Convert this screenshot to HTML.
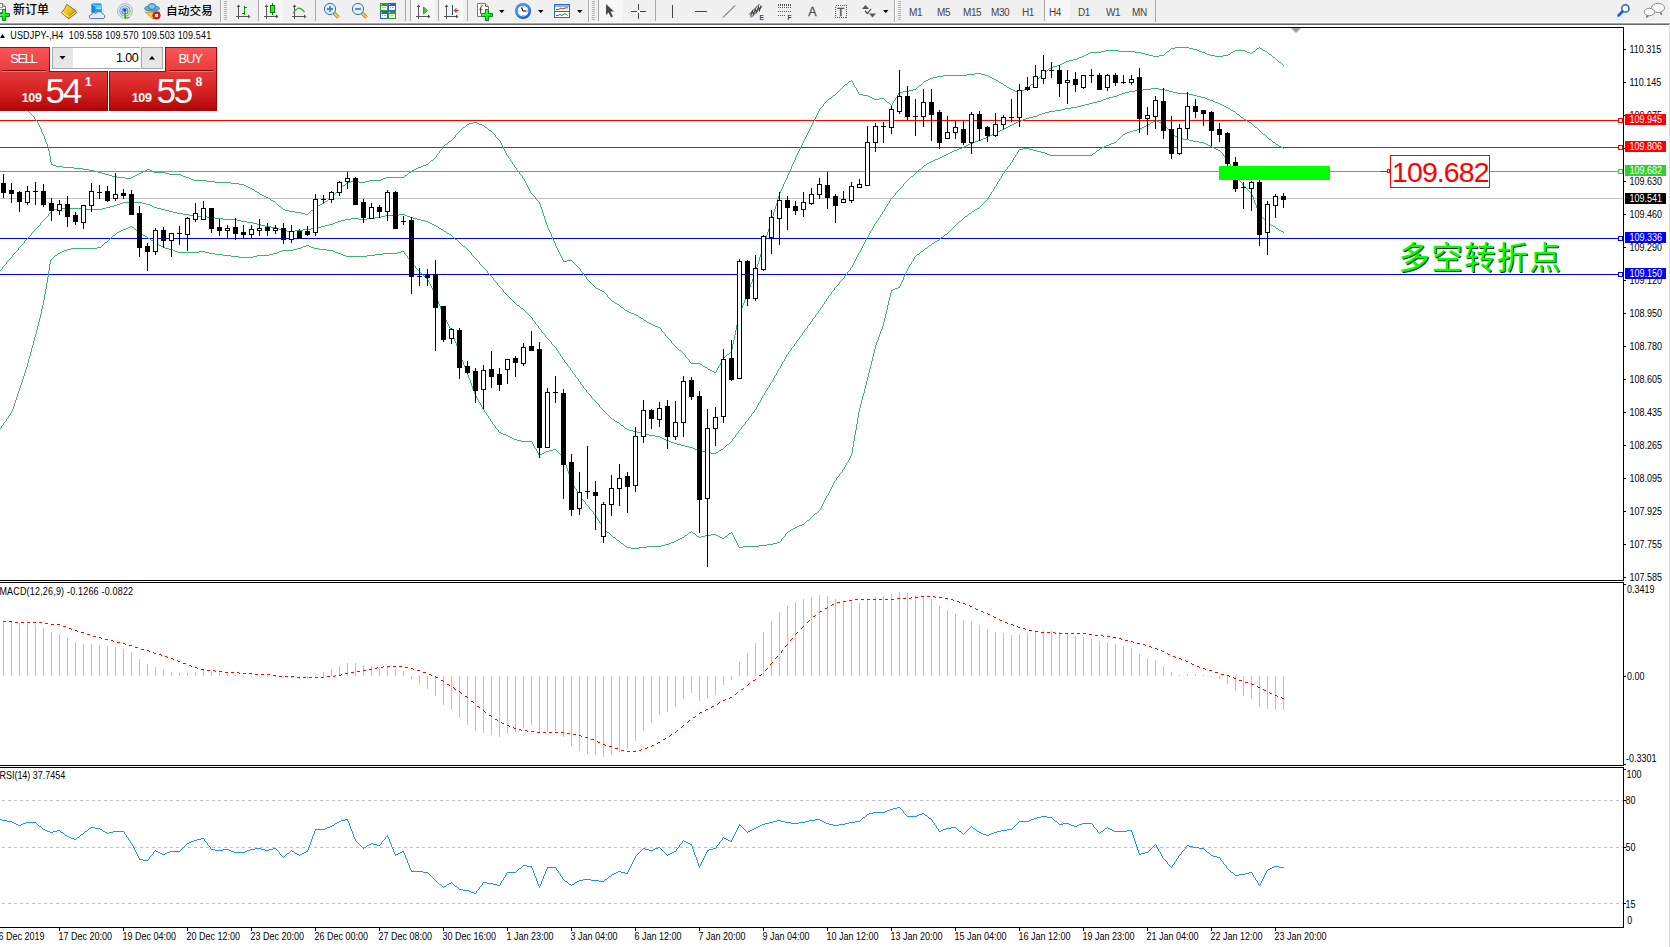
<!DOCTYPE html>
<html><head><meta charset="utf-8"><title>USDJPY-,H4</title>
<style>
html,body{margin:0;padding:0}
body{width:1670px;height:947px;overflow:hidden;background:#fff;position:relative;font-family:"Liberation Sans","Noto Sans CJK SC",sans-serif}
.abs{position:absolute}
</style></head><body>
<div class="abs" style="left:0;top:0;width:1670px;height:22px;background:#f0f0f0"></div>
<div class="abs" style="left:0;top:22px;width:1670px;height:1px;background:#f8f8f8"></div>
<div class="abs" style="left:0;top:23px;width:1670px;height:1px;background:#a0a0a0"></div>
<div class="abs" style="left:0;top:24px;width:1670px;height:1px;background:#696969"></div>
<svg class="abs" style="left:0;top:0" width="1670" height="23" viewBox="0 0 1670 23">
<defs>
<linearGradient id="gplus" x1="0" y1="0" x2="1" y2="1"><stop offset="0" stop-color="#90ff90"/><stop offset="0.55" stop-color="#10f030"/><stop offset="1" stop-color="#00c020"/></linearGradient>
<linearGradient id="gold" x1="0" y1="0" x2="1" y2="1"><stop offset="0" stop-color="#fbe878"/><stop offset="0.5" stop-color="#e8c020"/><stop offset="1" stop-color="#c08a10"/></linearGradient>
<linearGradient id="hl" x1="0" y1="0" x2="0" y2="1"><stop offset="0" stop-color="#f6f6f6"/><stop offset="1" stop-color="#ececec"/></linearGradient>
</defs>
<!-- highlighted buttons -->
<g fill="#f7f7f7" shape-rendering="crispEdges">
<rect x="259" y="0" width="24" height="21"/><rect x="411" y="0" width="24" height="21"/><rect x="439" y="0" width="24" height="21"/><rect x="599" y="0" width="24" height="21"/><rect x="1045" y="0" width="25" height="21"/>
</g>
<!-- separators -->
<g shape-rendering="crispEdges">
<g fill="#a8a8a8">
<rect x="220" y="0" width="1" height="22"/><rect x="258" y="0" width="1" height="21"/><rect x="315" y="0" width="1" height="21"/><rect x="405" y="0" width="1" height="21"/><rect x="410" y="0" width="1" height="21"/><rect x="438" y="0" width="1" height="21"/><rect x="467" y="0" width="1" height="21"/><rect x="588" y="0" width="1" height="22"/><rect x="598" y="0" width="1" height="21"/><rect x="655" y="0" width="1" height="21"/><rect x="894" y="0" width="1" height="22"/><rect x="1044" y="0" width="1" height="21"/><rect x="1155" y="0" width="1" height="22"/>
</g>
<g fill="#ffffff"><rect x="221" y="0" width="1" height="22"/><rect x="589" y="0" width="1" height="22"/><rect x="895" y="0" width="1" height="22"/><rect x="222" y="22" width="1448" height="1"/></g>
<!-- grips -->
<g fill="#b4b4b4">
<rect x="224" y="1" width="3" height="1"/><rect x="224" y="3" width="3" height="1"/><rect x="224" y="5" width="3" height="1"/><rect x="224" y="7" width="3" height="1"/><rect x="224" y="9" width="3" height="1"/><rect x="224" y="11" width="3" height="1"/><rect x="224" y="13" width="3" height="1"/><rect x="224" y="15" width="3" height="1"/><rect x="224" y="17" width="3" height="1"/><rect x="224" y="19" width="3" height="1"/>
<rect x="592" y="1" width="3" height="1"/><rect x="592" y="3" width="3" height="1"/><rect x="592" y="5" width="3" height="1"/><rect x="592" y="7" width="3" height="1"/><rect x="592" y="9" width="3" height="1"/><rect x="592" y="11" width="3" height="1"/><rect x="592" y="13" width="3" height="1"/><rect x="592" y="15" width="3" height="1"/><rect x="592" y="17" width="3" height="1"/><rect x="592" y="19" width="3" height="1"/>
<rect x="898" y="1" width="3" height="1"/><rect x="898" y="3" width="3" height="1"/><rect x="898" y="5" width="3" height="1"/><rect x="898" y="7" width="3" height="1"/><rect x="898" y="9" width="3" height="1"/><rect x="898" y="11" width="3" height="1"/><rect x="898" y="13" width="3" height="1"/><rect x="898" y="15" width="3" height="1"/><rect x="898" y="17" width="3" height="1"/><rect x="898" y="19" width="3" height="1"/>
</g>
</g>
<!-- new order icon -->
<path d="M-2,3.5 H2.5 L5.5,6.5 V12.5 H-2 Z" fill="#fff" stroke="#7a7a7a"/>
<path d="M2.5,3.5 V6.5 H5.5" fill="#d8d8d8" stroke="#7a7a7a"/>
<rect x="0" y="7" width="3" height="1" fill="#9a9a9a"/><rect x="0" y="9" width="2" height="1" fill="#9a9a9a"/>
<path d="M2.5,9.5 H5.5 V13.5 H9.5 V16.5 H5.5 V20.5 H2.5 V16.5 H-0.5 V13.5 H2.5 Z" fill="url(#gplus)" stroke="#078a07" stroke-width="1"/>
<!-- gold book -->
<path d="M66.8,4.3 Q65.6,8.6 61.3,12.8 L68.5,18.6 L76.4,13 L75.3,10.4 Z" fill="url(#gold)" stroke="#98600c" stroke-width="0.9"/>
<path d="M68.2,17.1 L75.2,11.2 L76.4,13 L68.5,18.6 Z" fill="#f2e2a0" stroke="#98600c" stroke-width="0.7"/>
<path d="M62.6,12.6 L68.4,16.8" stroke="#fff0a8" stroke-width="1.1"/>
<!-- blue box + cloud -->
<path d="M91.5,4 L92.5,3.2 H100.5 L101.8,4.5 V12.5 H91.5 Z" fill="#1aa4f4"/>
<path d="M91.5,4 L94.6,6 V12.5 H91.5 Z" fill="#0a88e0"/>
<path d="M92,3.6 L94.8,6 H101.5" stroke="#c8ecff" stroke-width="0.8" fill="none"/>
<rect x="96.3" y="7.5" width="4.6" height="1.3" fill="#e8f6ff"/>
<path d="M90.8,18.6 C88.6,18.6 88.6,14.6 91.5,14.6 C92,12.6 94.6,12.2 96,13.6 C97,11 102,11 102.4,14 C105,13.8 105.6,18.6 103,18.6 Z" fill="#e6ebf4" stroke="#4a6898" stroke-width="0.9"/>
<!-- radar -->
<defs><linearGradient id="rad" x1="0" y1="0" x2="1" y2="1"><stop offset="0.3" stop-color="#5080d8"/><stop offset="0.8" stop-color="#50a850"/></linearGradient></defs>
<g fill="none" stroke="url(#rad)">
<circle cx="125" cy="11" r="7.4" stroke-width="1" opacity="0.55"/>
<circle cx="125" cy="11" r="5.2" stroke-width="1.1" opacity="0.75"/>
<circle cx="125" cy="11" r="3" stroke-width="1.1"/>
</g>
<circle cx="124.8" cy="10.3" r="1.7" fill="#2050d0"/>
<rect x="124.5" y="11" width="1.4" height="7.6" fill="#20a020"/>
<path d="M125.5,18.2 L129.5,17.5" stroke="#40a040" stroke-width="1.2"/>
<!-- auto trading -->
<path d="M145,12 L153,19 L160,12 Z" fill="#f0d040" stroke="#c09020" stroke-width="0.8"/>
<ellipse cx="152" cy="8.5" rx="7.5" ry="2.6" fill="#5ab0e0" stroke="#2070a0" stroke-width="0.8"/>
<ellipse cx="152" cy="6.5" rx="3.8" ry="3" fill="#7cc4ec" stroke="#2070a0" stroke-width="0.8"/>
<circle cx="156.5" cy="15.5" r="3.8" fill="#e02010" stroke="#a01008" stroke-width="0.6"/>
<rect x="155" y="14" width="3" height="3" fill="#fff"/>
<!-- bar chart icon -->
<g stroke="#555" stroke-width="1" shape-rendering="crispEdges" fill="none">
<path d="M238.5,6 V19 M236,16.5 H249"/>
<path d="M266.5,6 V19 M264,16.5 H277"/>
<path d="M294.5,6 V19 M292,16.5 H305"/>
<path d="M418.5,6 V19 M416,16.5 H429"/>
<path d="M446.5,6 V19 M444,16.5 H457"/>
</g>
<g fill="#555">
<path d="M236.5,7 L238.5,4.5 L240.5,7 Z M248,14.5 L250.5,16.5 L248,18.5 Z"/>
<path d="M264.5,7 L266.5,4.5 L268.5,7 Z M276,14.5 L278.5,16.5 L276,18.5 Z"/>
<path d="M292.5,7 L294.5,4.5 L296.5,7 Z M304,14.5 L306.5,16.5 L304,18.5 Z"/>
<path d="M416.5,7 L418.5,4.5 L420.5,7 Z M428,14.5 L430.5,16.5 L428,18.5 Z"/>
<path d="M444.5,7 L446.5,4.5 L448.5,7 Z M456,14.5 L458.5,16.5 L456,18.5 Z"/>
</g>
<path d="M244.5,6 V15 M244.5,7.5 H247 M244.5,13.5 H242" stroke="#109010" stroke-width="1.2" fill="none" shape-rendering="crispEdges"/>
<rect x="272" y="3" width="1" height="12" fill="#008800"/>
<rect x="270.5" y="5.5" width="4" height="7" fill="#40e040" stroke="#008800"/>
<path d="M293,13.5 Q296,9 298.5,8.2 Q301,8 304.5,12" stroke="#30a030" stroke-width="1.2" fill="none"/>
<!-- zoom in/out -->
<g>
<path d="M333.5,12.5 L338.5,17.5" stroke="#b08010" stroke-width="3.4"/><path d="M333.5,12.5 L338.5,17.5" stroke="#f0d040" stroke-width="1.8"/>
<circle cx="330" cy="9" r="5.6" fill="#dff2fc" stroke="#2a70c0" stroke-width="1"/>
<path d="M327,9 H333 M330,6 V12" stroke="#4a8ab0" stroke-width="1.8"/>
<path d="M361.5,12.5 L366.5,17.5" stroke="#b08010" stroke-width="3.4"/><path d="M361.5,12.5 L366.5,17.5" stroke="#f0d040" stroke-width="1.8"/>
<circle cx="358" cy="9" r="5.6" fill="#dff2fc" stroke="#2a70c0" stroke-width="1"/>
<path d="M355,9 H361" stroke="#4a8ab0" stroke-width="1.8"/>
</g>
<!-- tile -->
<g shape-rendering="crispEdges">
<rect x="380" y="3" width="8" height="8" fill="#30a020"/><rect x="388" y="3" width="8" height="8" fill="#2060d0"/>
<rect x="380" y="11" width="8" height="8" fill="#2060d0"/><rect x="388" y="11" width="8" height="8" fill="#30a020"/>
<g fill="#fff"><rect x="381" y="6" width="6" height="4"/><rect x="389" y="6" width="6" height="4"/><rect x="381" y="14" width="6" height="4"/><rect x="389" y="14" width="6" height="4"/></g>
<g fill="#a8e098"><rect x="382" y="7" width="4" height="1"/><rect x="390" y="15" width="4" height="1"/></g>
<g fill="#90b0f0"><rect x="390" y="7" width="1" height="1"/><rect x="392" y="7" width="2" height="1"/><rect x="382" y="15" width="1" height="1"/><rect x="384" y="15" width="2" height="1"/></g>
<g fill="#b8ffb0"><rect x="381" y="4" width="1" height="1"/><rect x="389" y="12" width="1" height="1"/></g><g fill="#c0d8ff"><rect x="389" y="4" width="1" height="1"/><rect x="381" y="12" width="1" height="1"/></g>
</g>
<!-- chart shift / autoscroll -->
<path d="M423.5,7 L427.5,10.5 L423.5,14 Z" fill="#40d040" stroke="#109010" stroke-width="0.8"/>
<rect x="452" y="5" width="1" height="10" fill="#1060a0"/>
<path d="M453.5,10.5 L456.5,7.8 V13.2 Z" fill="#e04010"/><rect x="456" y="10" width="2.5" height="1.2" fill="#c03008"/>
<!-- new chart -->
<path d="M477.5,3.5 H485.5 L488.5,6.5 V16.5 H477.5 Z" fill="#fff" stroke="#7a7a7a"/>
<path d="M485.5,3.5 V6.5 H488.5" fill="#e0e0e0" stroke="#6a6a6a"/>
<path d="M482.8,5.6 Q480.6,5.6 480.6,8 V13.6 M479.4,9.3 H482" stroke="#2a2a1a" stroke-width="0.9" fill="none"/>
<path d="M485.5,9.5 H488.5 V13.5 H492.5 V16.5 H488.5 V20.5 H485.5 V16.5 H481.5 V13.5 H485.5 Z" fill="url(#gplus)" stroke="#078a07" stroke-width="1"/>
<!-- dropdowns -->
<g fill="#000"><path d="M499,10 h5.5 l-2.75,3 z"/><path d="M538,10 h5.5 l-2.75,3 z"/><path d="M577,10 h5.5 l-2.75,3 z"/><path d="M883,10 h5.5 l-2.75,3 z"/></g>
<!-- clock -->
<defs><radialGradient id="clk" cx="0.4" cy="0.35" r="0.7"><stop offset="0.6" stop-color="#3a90f0"/><stop offset="1" stop-color="#0848a8"/></radialGradient></defs>
<circle cx="523" cy="11" r="8" fill="url(#clk)"/>
<circle cx="523" cy="11" r="5.4" fill="#fbfbff"/>
<g fill="#888"><rect x="522.5" y="6" width="1" height="1"/><rect x="522.5" y="15" width="1" height="1"/><rect x="518" y="10.5" width="1" height="1"/><rect x="527" y="10.5" width="1" height="1"/></g>
<rect x="522.5" y="15" width="2" height="1" fill="#7ab0f0"/>
<path d="M521.5,7.5 L523,11 H526.5" stroke="#000" stroke-width="1.1" fill="none"/>
<!-- template -->
<rect x="554.5" y="4.5" width="15" height="13" fill="#fff" stroke="#2a6ac0"/>
<rect x="555" y="5" width="14" height="2" fill="#8ab8e8"/>
<rect x="555" y="11" width="14" height="1" fill="#2a6ac0"/>
<path d="M556,9.5 L558.5,9.5 L561,8 L563,9 L565,8 L568,7.8" stroke="#a03010" stroke-width="1" fill="none"/>
<path d="M556,15.5 L558,15.5 L560,14.5 L562,15.5 L565,13.5 L567.5,15.5" stroke="#109010" stroke-width="1" fill="none"/>
<!-- cursor -->
<path d="M606,4 V15 L608.5,12.5 L611,17.5 L613,16.5 L610.5,11.5 L614,11.5 Z" fill="#4a4a4a"/>
<!-- crosshair -->
<g fill="#444" shape-rendering="crispEdges"><rect x="638" y="4" width="1" height="6"/><rect x="638" y="13" width="1" height="6"/><rect x="631" y="11" width="6" height="1"/><rect x="640" y="11" width="6" height="1"/></g>
<!-- line tools -->
<g fill="#444" shape-rendering="crispEdges"><rect x="672" y="5" width="1" height="13"/><rect x="695" y="11" width="12" height="1"/></g>
<path d="M723,17.5 L735,5.5" stroke="#444" stroke-width="1"/>
<g stroke="#444" stroke-width="1" fill="none">
<path d="M749,14.5 L759.5,4 M751,17.5 L762,6.5"/>
<path d="M750.5,16.5 L752.5,11 L753.5,14.5 L755.5,9 L756.5,12.5 L758.5,7 L759.5,10.5 L761,5.5" stroke-width="1.1"/>
</g>
<g fill="#555" shape-rendering="crispEdges">
<rect x="778" y="4" width="13" height="1" fill="none" stroke="#555" stroke-dasharray="1,1"/>
</g>
<g stroke="#555" stroke-width="1" stroke-dasharray="1,1" shape-rendering="crispEdges"><path d="M778,4.5 H791 M778,7.5 H791 M778,11.5 H791 M778,15.5 H786"/></g>
<text x="759.5" y="19.8" font-family="Liberation Sans, sans-serif" font-weight="bold" font-size="6.5" fill="#444">E</text>
<text x="787.5" y="19.8" font-family="Liberation Sans, sans-serif" font-weight="bold" font-size="6.5" fill="#444">F</text>
<text x="808.3" y="16" font-family="Liberation Sans, sans-serif" font-size="12.5" fill="#505050" stroke="#505050" stroke-width="0.3">A</text>
<rect x="835.5" y="5.5" width="11" height="12" fill="none" stroke="#555" stroke-dasharray="1,1" shape-rendering="crispEdges"/>
<text x="837.3" y="16" font-family="Liberation Sans, sans-serif" font-size="11.5" fill="#505050" stroke="#505050" stroke-width="0.4">T</text>
<path d="M862,9 L865.5,5 L869,9 Z M869,13.5 L872.5,17.5 L876,13.5 Z" fill="#555"/>
<path d="M865,11 L867.5,13.5 L871,9" stroke="#444" stroke-width="1.2" fill="none"/>
<!-- magnifier -->
<circle cx="1625.4" cy="8.4" r="3.6" fill="#fff" stroke="#2060d0" stroke-width="1.5"/>
<path d="M1622.5,11.5 L1618.5,15.5" stroke="#2060d0" stroke-width="2.6" stroke-linecap="round"/>
<!-- chat -->
<path d="M1660,12.5 L1661.5,15 L1661,12.3" fill="#666" stroke="#666" stroke-width="0.8"/>
<ellipse cx="1658" cy="7.9" rx="6.6" ry="4.6" fill="#f8f8f8" stroke="#8a8a8a"/>
<path d="M1647,15 L1646.5,17.5 L1649,15.5" fill="#666" stroke="#666" stroke-width="0.8"/>
<ellipse cx="1649.3" cy="12" rx="5.2" ry="3.7" fill="#f8f8f8" stroke="#8a8a8a"/>
</svg>
<div class="abs" style="left:13px;top:2px;font:500 12px 'Noto Sans CJK SC','WenQuanYi Zen Hei',sans-serif;line-height:14px;color:#000;letter-spacing:0px">新订单</div>
<div class="abs" style="left:166px;top:2.5px;font:500 11.7px 'Noto Sans CJK SC','WenQuanYi Zen Hei',sans-serif;line-height:14px;color:#000">自动交易</div>
<div class="abs" style="left:0;top:0;font:10px 'Liberation Sans',sans-serif;letter-spacing:-0.4px;color:#454545;line-height:22px;white-space:pre">
<span class="abs" style="top:1.5px;left:909px">M1</span><span class="abs" style="top:1.5px;left:937px">M5</span><span class="abs" style="top:1.5px;left:963px">M15</span><span class="abs" style="top:1.5px;left:991px">M30</span><span class="abs" style="top:1.5px;left:1022px">H1</span><span class="abs" style="top:1.5px;left:1049px">H4</span><span class="abs" style="top:1.5px;left:1078px">D1</span><span class="abs" style="top:1.5px;left:1106px">W1</span><span class="abs" style="top:1.5px;left:1132px">MN</span>
</div>

<svg class="abs" style="left:0;top:0" width="1670" height="947" viewBox="0 0 1670 947">
<g shape-rendering="crispEdges">
<rect x="0" y="27" width="1623" height="1" fill="#000"/>
<rect x="0" y="580" width="1624" height="1" fill="#000"/>
<rect x="1623" y="27" width="1" height="554" fill="#000"/>
<rect x="0" y="582" width="1624" height="1" fill="#000"/>
<rect x="0" y="765" width="1624" height="1" fill="#000"/>
<rect x="1623" y="582" width="1" height="184" fill="#000"/>
<rect x="0" y="767" width="1624" height="1" fill="#000"/>
<rect x="0" y="927" width="1624" height="1" fill="#000"/>
<rect x="1623" y="767" width="1" height="161" fill="#000"/>
<rect x="1669" y="24" width="1" height="923" fill="#dcdcdc"/>
</g>
<g shape-rendering="crispEdges" stroke="#c0c0c0" stroke-width="1" stroke-dasharray="3,3">
<line x1="2" y1="800.5" x2="1623" y2="800.5"/>
<line x1="2" y1="847.5" x2="1623" y2="847.5"/>
<line x1="2" y1="903.5" x2="1623" y2="903.5"/>
</g>
<g shape-rendering="crispEdges">
<rect x="0" y="198" width="1623" height="1" fill="#c0c0c0"/>
<rect x="0" y="120" width="1618" height="1" fill="#ff0000"/>
<rect x="1618.5" y="118.5" width="4" height="4" fill="#fff" stroke="#ff0000" stroke-width="1"/>
<rect x="0" y="147" width="1618" height="1" fill="#ff0000"/>
<rect x="1618.5" y="145.5" width="4" height="4" fill="#fff" stroke="#ff0000" stroke-width="1"/>
<rect x="0" y="171" width="1618" height="1" fill="#32cd32"/>
<rect x="1618.5" y="169.5" width="4" height="4" fill="#fff" stroke="#32cd32" stroke-width="1"/>
<rect x="0" y="238" width="1618" height="1" fill="#0000ff"/>
<rect x="1618.5" y="236.5" width="4" height="4" fill="#fff" stroke="#0000ff" stroke-width="1"/>
<rect x="0" y="274" width="1618" height="1" fill="#0000ff"/>
<rect x="1618.5" y="272.5" width="4" height="4" fill="#fff" stroke="#0000ff" stroke-width="1"/>
</g>
<path d="M3 85h1v1h-1zM4 86h1v1h-1zM5 87h1v1h-1zM6 88h1v1h-1zM7 89h1v1h-1zM8 90h1v1h-1zM9 91h1v1h-1zM10 92h1v1h-1zM11 93h1v1h-1zM12 94h1v1h-1zM13 95h1v1h-1zM14 96h1v1h-1zM15 97h1v1h-1zM16 98h1v1h-1zM17 99h1v2h-1zM18 101h1v1h-1zM19 102h1v1h-1zM20 103h1v1h-1zM21 104h1v1h-1zM22 105h1v1h-1zM23 106h1v1h-1zM24 107h1v1h-1zM25 108h1v1h-1zM26 109h1v1h-1zM27 110h1v1h-1zM28 111h1v1h-1zM29 112h1v1h-1zM30 113h1v1h-1zM31 114h1v1h-1zM32 115h1v1h-1zM33 116h1v1h-1zM34 117h1v2h-1zM35 119h1v1h-1zM36 120h1v1h-1zM37 121h1v2h-1zM38 123h1v2h-1zM39 125h1v2h-1zM40 127h1v2h-1zM41 129h1v3h-1zM42 132h1v2h-1zM43 134h1v2h-1zM44 136h1v3h-1zM45 139h1v3h-1zM46 142h1v2h-1zM47 144h1v3h-1zM48 147h1v4h-1zM49 151h1v5h-1zM50 156h1v6h-1zM51 162h1v3h-1zM52 164h1v1h-1zM53 165h1v1h-1zM54 165h1v1h-1zM55 165h1v1h-1zM56 166h1v1h-1zM57 166h1v1h-1zM58 166h1v1h-1zM59 166h1v1h-1zM60 166h1v1h-1zM61 166h1v1h-1zM62 166h1v1h-1zM63 167h1v1h-1zM64 167h1v1h-1zM65 167h1v1h-1zM66 167h1v1h-1zM67 167h1v1h-1zM68 167h1v1h-1zM69 167h1v1h-1zM70 167h1v1h-1zM71 167h1v1h-1zM72 167h1v1h-1zM73 167h1v1h-1zM74 168h1v1h-1zM75 168h1v1h-1zM76 168h1v1h-1zM77 168h1v1h-1zM78 168h1v1h-1zM79 168h1v1h-1zM80 168h1v1h-1zM81 168h1v1h-1zM82 168h1v1h-1zM83 169h1v1h-1zM84 169h1v1h-1zM85 169h1v1h-1zM86 169h1v1h-1zM87 169h1v1h-1zM88 169h1v1h-1zM89 170h1v1h-1zM90 170h1v1h-1zM91 170h1v1h-1zM92 170h1v1h-1zM93 170h1v1h-1zM94 171h1v1h-1zM95 171h1v1h-1zM96 171h1v1h-1zM97 171h1v1h-1zM98 172h1v1h-1zM99 172h1v1h-1zM100 172h1v1h-1zM101 172h1v1h-1zM102 173h1v1h-1zM103 173h1v1h-1zM104 173h1v1h-1zM105 174h1v1h-1zM106 174h1v1h-1zM107 174h1v1h-1zM108 174h1v1h-1zM109 175h1v1h-1zM110 175h1v1h-1zM111 175h1v1h-1zM112 176h1v1h-1zM113 176h1v1h-1zM114 176h1v1h-1zM115 176h1v1h-1zM116 176h1v1h-1zM117 177h1v1h-1zM118 177h1v1h-1zM119 177h1v1h-1zM120 177h1v1h-1zM121 177h1v1h-1zM122 177h1v1h-1zM123 177h1v1h-1zM124 177h1v1h-1zM125 178h1v1h-1zM126 178h1v1h-1zM127 178h1v1h-1zM128 178h1v1h-1zM129 178h1v1h-1zM130 178h1v1h-1zM131 177h1v1h-1zM132 177h1v1h-1zM133 176h1v1h-1zM134 176h1v1h-1zM135 175h1v1h-1zM136 175h1v1h-1zM137 174h1v1h-1zM138 174h1v1h-1zM139 173h1v1h-1zM140 173h1v1h-1zM141 172h1v1h-1zM142 172h1v1h-1zM143 171h1v1h-1zM144 171h1v1h-1zM145 170h1v1h-1zM146 170h1v1h-1zM147 169h1v1h-1zM148 169h1v1h-1zM149 169h1v1h-1zM150 170h1v1h-1zM151 170h1v1h-1zM152 171h1v1h-1zM153 171h1v1h-1zM154 172h1v1h-1zM155 172h1v1h-1zM156 172h1v1h-1zM157 172h1v1h-1zM158 172h1v1h-1zM159 172h1v1h-1zM160 172h1v1h-1zM161 172h1v1h-1zM162 172h1v1h-1zM163 172h1v1h-1zM164 172h1v1h-1zM165 173h1v1h-1zM166 173h1v1h-1zM167 173h1v1h-1zM168 173h1v1h-1zM169 174h1v1h-1zM170 174h1v1h-1zM171 174h1v1h-1zM172 174h1v1h-1zM173 174h1v1h-1zM174 174h1v1h-1zM175 174h1v1h-1zM176 174h1v1h-1zM177 174h1v1h-1zM178 174h1v1h-1zM179 174h1v1h-1zM180 174h1v1h-1zM181 175h1v1h-1zM182 175h1v1h-1zM183 176h1v1h-1zM184 176h1v1h-1zM185 176h1v1h-1zM186 177h1v1h-1zM187 177h1v1h-1zM188 177h1v1h-1zM189 178h1v1h-1zM190 178h1v1h-1zM191 179h1v1h-1zM192 179h1v1h-1zM193 179h1v1h-1zM194 180h1v1h-1zM195 180h1v1h-1zM196 180h1v1h-1zM197 180h1v1h-1zM198 180h1v1h-1zM199 180h1v1h-1zM200 180h1v1h-1zM201 180h1v1h-1zM202 180h1v1h-1zM203 180h1v1h-1zM204 180h1v1h-1zM205 180h1v1h-1zM206 180h1v1h-1zM207 181h1v1h-1zM208 181h1v1h-1zM209 181h1v1h-1zM210 181h1v1h-1zM211 181h1v1h-1zM212 181h1v1h-1zM213 181h1v1h-1zM214 181h1v1h-1zM215 182h1v1h-1zM216 182h1v1h-1zM217 182h1v1h-1zM218 182h1v1h-1zM219 182h1v1h-1zM220 182h1v1h-1zM221 182h1v1h-1zM222 182h1v1h-1zM223 182h1v1h-1zM224 182h1v1h-1zM225 182h1v1h-1zM226 182h1v1h-1zM227 182h1v1h-1zM228 182h1v1h-1zM229 182h1v1h-1zM230 182h1v1h-1zM231 183h1v1h-1zM232 183h1v1h-1zM233 183h1v1h-1zM234 183h1v1h-1zM235 183h1v1h-1zM236 183h1v1h-1zM237 183h1v1h-1zM238 183h1v1h-1zM239 184h1v1h-1zM240 184h1v1h-1zM241 184h1v1h-1zM242 184h1v1h-1zM243 184h1v1h-1zM244 185h1v1h-1zM245 185h1v1h-1zM246 186h1v1h-1zM247 186h1v1h-1zM248 187h1v1h-1zM249 187h1v1h-1zM250 188h1v1h-1zM251 188h1v1h-1zM252 189h1v1h-1zM253 189h1v1h-1zM254 190h1v1h-1zM255 191h1v1h-1zM256 191h1v1h-1zM257 192h1v1h-1zM258 192h1v1h-1zM259 193h1v1h-1zM260 194h1v1h-1zM261 194h1v1h-1zM262 195h1v1h-1zM263 195h1v1h-1zM264 196h1v1h-1zM265 196h1v1h-1zM266 197h1v1h-1zM267 197h1v1h-1zM268 198h1v1h-1zM269 198h1v1h-1zM270 199h1v1h-1zM271 200h1v1h-1zM272 200h1v1h-1zM273 201h1v1h-1zM274 201h1v1h-1zM275 202h1v1h-1zM276 203h1v1h-1zM277 204h1v1h-1zM278 205h1v1h-1zM279 206h1v1h-1zM280 206h1v1h-1zM281 207h1v1h-1zM282 208h1v1h-1zM283 209h1v1h-1zM284 209h1v1h-1zM285 210h1v1h-1zM286 210h1v1h-1zM287 210h1v1h-1zM288 210h1v1h-1zM289 211h1v1h-1zM290 211h1v1h-1zM291 211h1v1h-1zM292 211h1v1h-1zM293 211h1v1h-1zM294 211h1v1h-1zM295 212h1v1h-1zM296 212h1v1h-1zM297 212h1v1h-1zM298 212h1v1h-1zM299 212h1v1h-1zM300 212h1v1h-1zM301 213h1v1h-1zM302 213h1v1h-1zM303 213h1v1h-1zM304 213h1v1h-1zM305 214h1v1h-1zM306 214h1v1h-1zM307 214h1v1h-1zM308 213h1v1h-1zM309 212h1v1h-1zM310 211h1v1h-1zM311 210h1v1h-1zM312 210h1v1h-1zM313 209h1v1h-1zM314 208h1v1h-1zM315 207h1v1h-1zM316 206h1v1h-1zM317 206h1v1h-1zM318 205h1v1h-1zM319 205h1v1h-1zM320 204h1v1h-1zM321 204h1v1h-1zM322 203h1v1h-1zM323 203h1v1h-1zM324 202h1v1h-1zM325 201h1v1h-1zM326 201h1v1h-1zM327 200h1v1h-1zM328 199h1v1h-1zM329 198h1v1h-1zM330 198h1v1h-1zM331 197h1v1h-1zM332 196h1v1h-1zM333 195h1v1h-1zM334 194h1v1h-1zM335 193h1v1h-1zM336 192h1v1h-1zM337 191h1v1h-1zM338 190h1v1h-1zM339 189h1v1h-1zM340 188h1v1h-1zM341 187h1v1h-1zM342 186h1v1h-1zM343 185h1v1h-1zM344 185h1v1h-1zM345 184h1v1h-1zM346 183h1v1h-1zM347 182h1v1h-1zM348 182h1v1h-1zM349 182h1v1h-1zM350 182h1v1h-1zM351 181h1v1h-1zM352 181h1v1h-1zM353 181h1v1h-1zM354 181h1v1h-1zM355 181h1v1h-1zM356 181h1v1h-1zM357 181h1v1h-1zM358 181h1v1h-1zM359 182h1v1h-1zM360 182h1v1h-1zM361 182h1v1h-1zM362 182h1v1h-1zM363 182h1v1h-1zM364 182h1v1h-1zM365 181h1v1h-1zM366 181h1v1h-1zM367 181h1v1h-1zM368 181h1v1h-1zM369 180h1v1h-1zM370 180h1v1h-1zM371 180h1v1h-1zM372 180h1v1h-1zM373 180h1v1h-1zM374 180h1v1h-1zM375 180h1v1h-1zM376 180h1v1h-1zM377 180h1v1h-1zM378 180h1v1h-1zM379 180h1v1h-1zM380 180h1v1h-1zM381 179h1v1h-1zM382 179h1v1h-1zM383 178h1v1h-1zM384 178h1v1h-1zM385 178h1v1h-1zM386 177h1v1h-1zM387 177h1v1h-1zM388 177h1v1h-1zM389 177h1v1h-1zM390 177h1v1h-1zM391 177h1v1h-1zM392 177h1v1h-1zM393 177h1v1h-1zM394 177h1v1h-1zM395 177h1v1h-1zM396 177h1v1h-1zM397 177h1v1h-1zM398 177h1v1h-1zM399 177h1v1h-1zM400 177h1v1h-1zM401 177h1v1h-1zM402 177h1v1h-1zM403 177h1v1h-1zM404 176h1v1h-1zM405 175h1v1h-1zM406 175h1v1h-1zM407 174h1v1h-1zM408 173h1v1h-1zM409 172h1v1h-1zM410 172h1v1h-1zM411 171h1v1h-1zM412 170h1v1h-1zM413 170h1v1h-1zM414 169h1v1h-1zM415 169h1v1h-1zM416 168h1v1h-1zM417 168h1v1h-1zM418 167h1v1h-1zM419 167h1v1h-1zM420 167h1v1h-1zM421 166h1v1h-1zM422 166h1v1h-1zM423 165h1v1h-1zM424 165h1v1h-1zM425 165h1v1h-1zM426 164h1v1h-1zM427 164h1v1h-1zM428 163h1v1h-1zM429 162h1v1h-1zM430 161h1v1h-1zM431 160h1v1h-1zM432 160h1v1h-1zM433 159h1v1h-1zM434 158h1v1h-1zM435 157h1v1h-1zM436 155h1v2h-1zM437 154h1v1h-1zM438 153h1v1h-1zM439 151h1v2h-1zM440 150h1v1h-1zM441 149h1v1h-1zM442 147h1v2h-1zM443 146h1v1h-1zM444 145h1v1h-1zM445 144h1v1h-1zM446 144h1v1h-1zM447 143h1v1h-1zM448 142h1v1h-1zM449 141h1v1h-1zM450 141h1v1h-1zM451 140h1v1h-1zM452 139h1v1h-1zM453 138h1v1h-1zM454 137h1v1h-1zM455 135h1v2h-1zM456 134h1v1h-1zM457 133h1v1h-1zM458 132h1v1h-1zM459 131h1v1h-1zM460 130h1v1h-1zM461 129h1v1h-1zM462 128h1v1h-1zM463 127h1v1h-1zM464 127h1v1h-1zM465 126h1v1h-1zM466 125h1v1h-1zM467 124h1v1h-1zM468 124h1v1h-1zM469 123h1v1h-1zM470 123h1v1h-1zM471 123h1v1h-1zM472 123h1v1h-1zM473 122h1v1h-1zM474 122h1v1h-1zM475 122h1v1h-1zM476 122h1v1h-1zM477 123h1v1h-1zM478 123h1v1h-1zM479 124h1v1h-1zM480 124h1v1h-1zM481 124h1v1h-1zM482 125h1v1h-1zM483 125h1v1h-1zM484 126h1v1h-1zM485 127h1v1h-1zM486 127h1v1h-1zM487 128h1v1h-1zM488 129h1v1h-1zM489 130h1v1h-1zM490 130h1v1h-1zM491 131h1v1h-1zM492 132h1v1h-1zM493 133h1v1h-1zM494 134h1v1h-1zM495 135h1v2h-1zM496 137h1v1h-1zM497 138h1v1h-1zM498 139h1v1h-1zM499 140h1v1h-1zM500 141h1v2h-1zM501 143h1v2h-1zM502 145h1v2h-1zM503 147h1v2h-1zM504 149h1v2h-1zM505 151h1v2h-1zM506 153h1v2h-1zM507 155h1v1h-1zM508 156h1v2h-1zM509 158h1v1h-1zM510 159h1v2h-1zM511 161h1v1h-1zM512 162h1v2h-1zM513 164h1v1h-1zM514 165h1v2h-1zM515 167h1v1h-1zM516 168h1v2h-1zM517 170h1v1h-1zM518 171h1v1h-1zM519 172h1v2h-1zM520 174h1v1h-1zM521 175h1v1h-1zM522 176h1v2h-1zM523 178h1v1h-1zM524 179h1v2h-1zM525 181h1v2h-1zM526 183h1v2h-1zM527 185h1v2h-1zM528 187h1v2h-1zM529 189h1v2h-1zM530 191h1v2h-1zM531 193h1v1h-1zM532 194h1v1h-1zM533 195h1v1h-1zM534 196h1v1h-1zM535 197h1v2h-1zM536 199h1v1h-1zM537 200h1v1h-1zM538 201h1v1h-1zM539 202h1v2h-1zM540 204h1v3h-1zM541 207h1v3h-1zM542 210h1v3h-1zM543 213h1v3h-1zM544 216h1v3h-1zM545 219h1v3h-1zM546 222h1v3h-1zM547 225h1v3h-1zM548 228h1v2h-1zM549 230h1v2h-1zM550 232h1v2h-1zM551 234h1v3h-1zM552 237h1v2h-1zM553 239h1v2h-1zM554 241h1v2h-1zM555 243h1v3h-1zM556 246h1v2h-1zM557 248h1v2h-1zM558 250h1v2h-1zM559 252h1v2h-1zM560 254h1v2h-1zM561 256h1v2h-1zM562 258h1v2h-1zM563 260h1v2h-1zM564 261h1v1h-1zM565 261h1v1h-1zM566 261h1v1h-1zM567 260h1v1h-1zM568 260h1v1h-1zM569 260h1v1h-1zM570 260h1v1h-1zM571 260h1v1h-1zM572 261h1v1h-1zM573 262h1v1h-1zM574 263h1v1h-1zM575 264h1v1h-1zM576 265h1v1h-1zM577 266h1v1h-1zM578 267h1v1h-1zM579 268h1v1h-1zM580 269h1v2h-1zM581 271h1v1h-1zM582 272h1v1h-1zM583 273h1v2h-1zM584 275h1v1h-1zM585 276h1v1h-1zM586 277h1v2h-1zM587 279h1v1h-1zM588 280h1v1h-1zM589 281h1v1h-1zM590 282h1v1h-1zM591 283h1v1h-1zM592 284h1v1h-1zM593 285h1v1h-1zM594 286h1v1h-1zM595 287h1v1h-1zM596 288h1v1h-1zM597 288h1v1h-1zM598 289h1v1h-1zM599 289h1v1h-1zM600 290h1v1h-1zM601 290h1v1h-1zM602 291h1v1h-1zM603 291h1v1h-1zM604 292h1v1h-1zM605 293h1v1h-1zM606 294h1v1h-1zM607 295h1v2h-1zM608 297h1v1h-1zM609 298h1v1h-1zM610 299h1v1h-1zM611 300h1v1h-1zM612 301h1v1h-1zM613 301h1v1h-1zM614 302h1v1h-1zM615 303h1v1h-1zM616 303h1v1h-1zM617 304h1v1h-1zM618 304h1v1h-1zM619 305h1v1h-1zM620 306h1v1h-1zM621 307h1v1h-1zM622 307h1v1h-1zM623 308h1v1h-1zM624 309h1v1h-1zM625 310h1v1h-1zM626 310h1v1h-1zM627 311h1v1h-1zM628 311h1v1h-1zM629 312h1v1h-1zM630 312h1v1h-1zM631 313h1v1h-1zM632 313h1v1h-1zM633 313h1v1h-1zM634 314h1v1h-1zM635 314h1v1h-1zM636 315h1v1h-1zM637 315h1v1h-1zM638 316h1v1h-1zM639 317h1v1h-1zM640 317h1v1h-1zM641 318h1v1h-1zM642 318h1v1h-1zM643 319h1v1h-1zM644 320h1v1h-1zM645 320h1v1h-1zM646 321h1v1h-1zM647 322h1v1h-1zM648 322h1v1h-1zM649 323h1v1h-1zM650 323h1v1h-1zM651 324h1v1h-1zM652 324h1v1h-1zM653 325h1v1h-1zM654 325h1v1h-1zM655 326h1v1h-1zM656 326h1v1h-1zM657 326h1v1h-1zM658 327h1v1h-1zM659 327h1v1h-1zM660 328h1v1h-1zM661 329h1v2h-1zM662 331h1v1h-1zM663 332h1v1h-1zM664 333h1v1h-1zM665 334h1v2h-1zM666 336h1v1h-1zM667 337h1v1h-1zM668 338h1v1h-1zM669 339h1v1h-1zM670 340h1v1h-1zM671 341h1v2h-1zM672 343h1v1h-1zM673 344h1v1h-1zM674 345h1v1h-1zM675 346h1v1h-1zM676 347h1v1h-1zM677 348h1v1h-1zM678 349h1v1h-1zM679 350h1v1h-1zM680 350h1v1h-1zM681 351h1v1h-1zM682 352h1v1h-1zM683 353h1v1h-1zM684 354h1v1h-1zM685 355h1v2h-1zM686 357h1v1h-1zM687 358h1v1h-1zM688 359h1v1h-1zM689 360h1v2h-1zM690 362h1v1h-1zM691 363h1v1h-1zM692 363h1v1h-1zM693 363h1v1h-1zM694 363h1v1h-1zM695 363h1v1h-1zM696 363h1v1h-1zM697 363h1v1h-1zM698 363h1v1h-1zM699 363h1v1h-1zM700 364h1v1h-1zM701 364h1v1h-1zM702 365h1v1h-1zM703 366h1v1h-1zM704 366h1v1h-1zM705 367h1v1h-1zM706 367h1v1h-1zM707 368h1v1h-1zM708 369h1v1h-1zM709 369h1v1h-1zM710 370h1v1h-1zM711 370h1v1h-1zM712 371h1v1h-1zM713 371h1v1h-1zM714 372h1v1h-1zM715 372h1v1h-1zM716 370h1v2h-1zM717 368h1v2h-1zM718 366h1v2h-1zM719 365h1v1h-1zM720 363h1v2h-1zM721 361h1v2h-1zM722 359h1v2h-1zM723 358h1v1h-1zM724 357h1v1h-1zM725 356h1v1h-1zM726 355h1v1h-1zM727 354h1v1h-1zM728 354h1v1h-1zM729 353h1v1h-1zM730 352h1v1h-1zM731 349h1v3h-1zM732 344h1v5h-1zM733 340h1v4h-1zM734 335h1v5h-1zM735 330h1v5h-1zM736 325h1v5h-1zM737 321h1v4h-1zM738 316h1v5h-1zM739 312h1v4h-1zM740 310h1v2h-1zM741 308h1v2h-1zM742 305h1v3h-1zM743 303h1v2h-1zM744 300h1v3h-1zM745 298h1v2h-1zM746 296h1v2h-1zM747 293h1v3h-1zM748 290h1v3h-1zM749 287h1v3h-1zM750 284h1v3h-1zM751 282h1v2h-1zM752 279h1v3h-1zM753 276h1v3h-1zM754 273h1v3h-1zM755 270h1v3h-1zM756 267h1v3h-1zM757 264h1v3h-1zM758 261h1v3h-1zM759 257h1v4h-1zM760 254h1v3h-1zM761 251h1v3h-1zM762 248h1v3h-1zM763 245h1v3h-1zM764 242h1v3h-1zM765 238h1v4h-1zM766 235h1v3h-1zM767 232h1v3h-1zM768 229h1v3h-1zM769 225h1v4h-1zM770 222h1v3h-1zM771 219h1v3h-1zM772 216h1v3h-1zM773 212h1v4h-1zM774 209h1v3h-1zM775 206h1v3h-1zM776 203h1v3h-1zM777 199h1v4h-1zM778 196h1v3h-1zM779 193h1v3h-1zM780 191h1v2h-1zM781 189h1v2h-1zM782 187h1v2h-1zM783 184h1v3h-1zM784 182h1v2h-1zM785 180h1v2h-1zM786 178h1v2h-1zM787 175h1v3h-1zM788 173h1v2h-1zM789 171h1v2h-1zM790 169h1v2h-1zM791 166h1v3h-1zM792 164h1v2h-1zM793 162h1v2h-1zM794 160h1v2h-1zM795 157h1v3h-1zM796 155h1v2h-1zM797 153h1v2h-1zM798 151h1v2h-1zM799 149h1v2h-1zM800 147h1v2h-1zM801 145h1v2h-1zM802 143h1v2h-1zM803 141h1v2h-1zM804 139h1v2h-1zM805 137h1v2h-1zM806 135h1v2h-1zM807 133h1v2h-1zM808 131h1v2h-1zM809 129h1v2h-1zM810 127h1v2h-1zM811 125h1v2h-1zM812 123h1v2h-1zM813 121h1v2h-1zM814 119h1v2h-1zM815 117h1v2h-1zM816 115h1v2h-1zM817 113h1v2h-1zM818 111h1v2h-1zM819 109h1v2h-1zM820 108h1v1h-1zM821 107h1v1h-1zM822 106h1v1h-1zM823 104h1v2h-1zM824 103h1v1h-1zM825 102h1v1h-1zM826 101h1v1h-1zM827 100h1v1h-1zM828 99h1v1h-1zM829 98h1v1h-1zM830 98h1v1h-1zM831 97h1v1h-1zM832 96h1v1h-1zM833 95h1v1h-1zM834 95h1v1h-1zM835 94h1v1h-1zM836 93h1v1h-1zM837 92h1v1h-1zM838 91h1v1h-1zM839 90h1v1h-1zM840 89h1v1h-1zM841 88h1v1h-1zM842 87h1v1h-1zM843 86h1v1h-1zM844 85h1v1h-1zM845 84h1v1h-1zM846 84h1v1h-1zM847 83h1v1h-1zM848 82h1v1h-1zM849 81h1v1h-1zM850 81h1v1h-1zM851 80h1v1h-1zM852 81h1v2h-1zM853 83h1v2h-1zM854 85h1v2h-1zM855 87h1v1h-1zM856 88h1v2h-1zM857 90h1v2h-1zM858 92h1v2h-1zM859 94h1v1h-1zM860 94h1v1h-1zM861 94h1v1h-1zM862 94h1v1h-1zM863 95h1v1h-1zM864 95h1v1h-1zM865 95h1v1h-1zM866 95h1v1h-1zM867 95h1v1h-1zM868 96h1v1h-1zM869 96h1v1h-1zM870 97h1v1h-1zM871 97h1v1h-1zM872 98h1v1h-1zM873 98h1v1h-1zM874 99h1v1h-1zM875 99h1v1h-1zM876 99h1v1h-1zM877 99h1v1h-1zM878 99h1v1h-1zM879 98h1v1h-1zM880 98h1v1h-1zM881 98h1v1h-1zM882 98h1v1h-1zM883 98h1v1h-1zM884 99h1v1h-1zM885 100h1v1h-1zM886 101h1v1h-1zM887 102h1v1h-1zM888 102h1v1h-1zM889 103h1v1h-1zM890 104h1v1h-1zM891 105h1v1h-1zM892 103h1v2h-1zM893 101h1v2h-1zM894 100h1v1h-1zM895 98h1v2h-1zM896 97h1v1h-1zM897 95h1v2h-1zM898 93h1v2h-1zM899 92h1v1h-1zM900 92h1v1h-1zM901 92h1v1h-1zM902 92h1v1h-1zM903 91h1v1h-1zM904 91h1v1h-1zM905 91h1v1h-1zM906 91h1v1h-1zM907 91h1v1h-1zM908 91h1v1h-1zM909 90h1v1h-1zM910 90h1v1h-1zM911 90h1v1h-1zM912 90h1v1h-1zM913 89h1v1h-1zM914 89h1v1h-1zM915 89h1v1h-1zM916 88h1v1h-1zM917 87h1v1h-1zM918 86h1v1h-1zM919 85h1v1h-1zM920 85h1v1h-1zM921 84h1v1h-1zM922 83h1v1h-1zM923 82h1v1h-1zM924 81h1v1h-1zM925 81h1v1h-1zM926 80h1v1h-1zM927 80h1v1h-1zM928 79h1v1h-1zM929 79h1v1h-1zM930 78h1v1h-1zM931 78h1v1h-1zM932 78h1v1h-1zM933 77h1v1h-1zM934 77h1v1h-1zM935 77h1v1h-1zM936 77h1v1h-1zM937 76h1v1h-1zM938 76h1v1h-1zM939 76h1v1h-1zM940 76h1v1h-1zM941 76h1v1h-1zM942 76h1v1h-1zM943 75h1v1h-1zM944 75h1v1h-1zM945 75h1v1h-1zM946 75h1v1h-1zM947 75h1v1h-1zM948 75h1v1h-1zM949 75h1v1h-1zM950 75h1v1h-1zM951 75h1v1h-1zM952 75h1v1h-1zM953 75h1v1h-1zM954 75h1v1h-1zM955 75h1v1h-1zM956 75h1v1h-1zM957 75h1v1h-1zM958 75h1v1h-1zM959 75h1v1h-1zM960 75h1v1h-1zM961 75h1v1h-1zM962 75h1v1h-1zM963 75h1v1h-1zM964 75h1v1h-1zM965 75h1v1h-1zM966 75h1v1h-1zM967 74h1v1h-1zM968 74h1v1h-1zM969 74h1v1h-1zM970 74h1v1h-1zM971 74h1v1h-1zM972 74h1v1h-1zM973 74h1v1h-1zM974 74h1v1h-1zM975 73h1v1h-1zM976 73h1v1h-1zM977 73h1v1h-1zM978 73h1v1h-1zM979 73h1v1h-1zM980 73h1v1h-1zM981 74h1v1h-1zM982 74h1v1h-1zM983 74h1v1h-1zM984 74h1v1h-1zM985 75h1v1h-1zM986 75h1v1h-1zM987 75h1v1h-1zM988 76h1v1h-1zM989 76h1v1h-1zM990 77h1v1h-1zM991 77h1v1h-1zM992 78h1v1h-1zM993 78h1v1h-1zM994 79h1v1h-1zM995 79h1v1h-1zM996 80h1v1h-1zM997 80h1v1h-1zM998 81h1v1h-1zM999 82h1v1h-1zM1000 82h1v1h-1zM1001 83h1v1h-1zM1002 83h1v1h-1zM1003 84h1v1h-1zM1004 85h1v1h-1zM1005 85h1v1h-1zM1006 86h1v1h-1zM1007 87h1v1h-1zM1008 87h1v1h-1zM1009 88h1v1h-1zM1010 88h1v1h-1zM1011 89h1v1h-1zM1012 89h1v1h-1zM1013 90h1v1h-1zM1014 90h1v1h-1zM1015 91h1v1h-1zM1016 91h1v1h-1zM1017 91h1v1h-1zM1018 92h1v1h-1zM1019 92h1v1h-1zM1020 91h1v1h-1zM1021 91h1v1h-1zM1022 90h1v1h-1zM1023 90h1v1h-1zM1024 89h1v1h-1zM1025 89h1v1h-1zM1026 88h1v1h-1zM1027 88h1v1h-1zM1028 87h1v1h-1zM1029 86h1v1h-1zM1030 85h1v1h-1zM1031 84h1v1h-1zM1032 84h1v1h-1zM1033 83h1v1h-1zM1034 82h1v1h-1zM1035 81h1v1h-1zM1036 80h1v1h-1zM1037 79h1v1h-1zM1038 78h1v1h-1zM1039 77h1v1h-1zM1040 76h1v1h-1zM1041 75h1v1h-1zM1042 74h1v1h-1zM1043 73h1v1h-1zM1044 72h1v1h-1zM1045 71h1v1h-1zM1046 71h1v1h-1zM1047 70h1v1h-1zM1048 69h1v1h-1zM1049 68h1v1h-1zM1050 68h1v1h-1zM1051 67h1v1h-1zM1052 67h1v1h-1zM1053 66h1v1h-1zM1054 66h1v1h-1zM1055 66h1v1h-1zM1056 66h1v1h-1zM1057 65h1v1h-1zM1058 65h1v1h-1zM1059 65h1v1h-1zM1060 64h1v1h-1zM1061 64h1v1h-1zM1062 63h1v1h-1zM1063 63h1v1h-1zM1064 62h1v1h-1zM1065 62h1v1h-1zM1066 61h1v1h-1zM1067 61h1v1h-1zM1068 61h1v1h-1zM1069 60h1v1h-1zM1070 60h1v1h-1zM1071 60h1v1h-1zM1072 60h1v1h-1zM1073 59h1v1h-1zM1074 59h1v1h-1zM1075 59h1v1h-1zM1076 59h1v1h-1zM1077 58h1v1h-1zM1078 58h1v1h-1zM1079 57h1v1h-1zM1080 57h1v1h-1zM1081 57h1v1h-1zM1082 56h1v1h-1zM1083 56h1v1h-1zM1084 55h1v1h-1zM1085 55h1v1h-1zM1086 54h1v1h-1zM1087 54h1v1h-1zM1088 53h1v1h-1zM1089 53h1v1h-1zM1090 52h1v1h-1zM1091 52h1v1h-1zM1092 52h1v1h-1zM1093 52h1v1h-1zM1094 52h1v1h-1zM1095 52h1v1h-1zM1096 52h1v1h-1zM1097 52h1v1h-1zM1098 52h1v1h-1zM1099 52h1v1h-1zM1100 52h1v1h-1zM1101 51h1v1h-1zM1102 51h1v1h-1zM1103 51h1v1h-1zM1104 51h1v1h-1zM1105 50h1v1h-1zM1106 50h1v1h-1zM1107 50h1v1h-1zM1108 50h1v1h-1zM1109 50h1v1h-1zM1110 50h1v1h-1zM1111 50h1v1h-1zM1112 50h1v1h-1zM1113 50h1v1h-1zM1114 50h1v1h-1zM1115 50h1v1h-1zM1116 50h1v1h-1zM1117 50h1v1h-1zM1118 50h1v1h-1zM1119 51h1v1h-1zM1120 51h1v1h-1zM1121 51h1v1h-1zM1122 51h1v1h-1zM1123 51h1v1h-1zM1124 51h1v1h-1zM1125 51h1v1h-1zM1126 51h1v1h-1zM1127 51h1v1h-1zM1128 51h1v1h-1zM1129 51h1v1h-1zM1130 51h1v1h-1zM1131 51h1v1h-1zM1132 51h1v1h-1zM1133 51h1v1h-1zM1134 51h1v1h-1zM1135 52h1v1h-1zM1136 52h1v1h-1zM1137 52h1v1h-1zM1138 52h1v1h-1zM1139 52h1v1h-1zM1140 52h1v1h-1zM1141 53h1v1h-1zM1142 53h1v1h-1zM1143 53h1v1h-1zM1144 53h1v1h-1zM1145 54h1v1h-1zM1146 54h1v1h-1zM1147 54h1v1h-1zM1148 54h1v1h-1zM1149 55h1v1h-1zM1150 55h1v1h-1zM1151 55h1v1h-1zM1152 55h1v1h-1zM1153 56h1v1h-1zM1154 56h1v1h-1zM1155 56h1v1h-1zM1156 56h1v1h-1zM1157 56h1v1h-1zM1158 56h1v1h-1zM1159 55h1v1h-1zM1160 55h1v1h-1zM1161 55h1v1h-1zM1162 55h1v1h-1zM1163 55h1v1h-1zM1164 54h1v1h-1zM1165 53h1v1h-1zM1166 52h1v1h-1zM1167 51h1v1h-1zM1168 51h1v1h-1zM1169 50h1v1h-1zM1170 49h1v1h-1zM1171 48h1v1h-1zM1172 48h1v1h-1zM1173 48h1v1h-1zM1174 48h1v1h-1zM1175 47h1v1h-1zM1176 47h1v1h-1zM1177 47h1v1h-1zM1178 47h1v1h-1zM1179 47h1v1h-1zM1180 47h1v1h-1zM1181 47h1v1h-1zM1182 47h1v1h-1zM1183 47h1v1h-1zM1184 47h1v1h-1zM1185 47h1v1h-1zM1186 47h1v1h-1zM1187 47h1v1h-1zM1188 47h1v1h-1zM1189 48h1v1h-1zM1190 48h1v1h-1zM1191 48h1v1h-1zM1192 48h1v1h-1zM1193 49h1v1h-1zM1194 49h1v1h-1zM1195 49h1v1h-1zM1196 49h1v1h-1zM1197 50h1v1h-1zM1198 50h1v1h-1zM1199 51h1v1h-1zM1200 51h1v1h-1zM1201 51h1v1h-1zM1202 52h1v1h-1zM1203 52h1v1h-1zM1204 52h1v1h-1zM1205 53h1v1h-1zM1206 53h1v1h-1zM1207 54h1v1h-1zM1208 54h1v1h-1zM1209 54h1v1h-1zM1210 55h1v1h-1zM1211 55h1v1h-1zM1212 55h1v1h-1zM1213 55h1v1h-1zM1214 55h1v1h-1zM1215 56h1v1h-1zM1216 56h1v1h-1zM1217 56h1v1h-1zM1218 56h1v1h-1zM1219 56h1v1h-1zM1220 56h1v1h-1zM1221 56h1v1h-1zM1222 56h1v1h-1zM1223 55h1v1h-1zM1224 55h1v1h-1zM1225 55h1v1h-1zM1226 55h1v1h-1zM1227 55h1v1h-1zM1228 54h1v1h-1zM1229 54h1v1h-1zM1230 53h1v1h-1zM1231 52h1v1h-1zM1232 52h1v1h-1zM1233 51h1v1h-1zM1234 51h1v1h-1zM1235 50h1v1h-1zM1236 50h1v1h-1zM1237 50h1v1h-1zM1238 50h1v1h-1zM1239 50h1v1h-1zM1240 50h1v1h-1zM1241 50h1v1h-1zM1242 50h1v1h-1zM1243 50h1v1h-1zM1244 50h1v1h-1zM1245 51h1v1h-1zM1246 51h1v1h-1zM1247 52h1v1h-1zM1248 52h1v1h-1zM1249 52h1v1h-1zM1250 53h1v1h-1zM1251 53h1v1h-1zM1252 52h1v1h-1zM1253 51h1v1h-1zM1254 51h1v1h-1zM1255 50h1v1h-1zM1256 49h1v1h-1zM1257 48h1v1h-1zM1258 48h1v1h-1zM1259 47h1v1h-1zM1260 48h1v1h-1zM1261 48h1v1h-1zM1262 49h1v1h-1zM1263 50h1v1h-1zM1264 50h1v1h-1zM1265 51h1v1h-1zM1266 51h1v1h-1zM1267 52h1v1h-1zM1268 53h1v1h-1zM1269 54h1v1h-1zM1270 54h1v1h-1zM1271 55h1v1h-1zM1272 56h1v1h-1zM1273 57h1v1h-1zM1274 57h1v1h-1zM1275 58h1v1h-1zM1276 59h1v1h-1zM1277 60h1v1h-1zM1278 61h1v1h-1zM1279 62h1v1h-1zM1280 62h1v1h-1zM1281 63h1v1h-1zM1282 64h1v1h-1zM1283 65h1v1h-1z" fill="#3cb371" shape-rendering="crispEdges"/>
<path d="M0 270h1v1h-1zM1 269h1v1h-1zM2 267h1v2h-1zM3 266h1v1h-1zM4 265h1v1h-1zM5 264h1v1h-1zM6 262h1v2h-1zM7 261h1v1h-1zM8 260h1v1h-1zM9 259h1v1h-1zM10 258h1v1h-1zM11 257h1v1h-1zM12 255h1v2h-1zM13 254h1v1h-1zM14 253h1v1h-1zM15 252h1v1h-1zM16 251h1v1h-1zM17 250h1v1h-1zM18 248h1v2h-1zM19 247h1v1h-1zM20 246h1v1h-1zM21 245h1v1h-1zM22 244h1v1h-1zM23 243h1v1h-1zM24 241h1v2h-1zM25 240h1v1h-1zM26 239h1v1h-1zM27 238h1v1h-1zM28 237h1v1h-1zM29 236h1v1h-1zM30 235h1v1h-1zM31 233h1v2h-1zM32 232h1v1h-1zM33 231h1v1h-1zM34 230h1v1h-1zM35 229h1v1h-1zM36 228h1v1h-1zM37 227h1v1h-1zM38 226h1v1h-1zM39 225h1v1h-1zM40 223h1v2h-1zM41 222h1v1h-1zM42 221h1v1h-1zM43 220h1v1h-1zM44 219h1v1h-1zM45 218h1v1h-1zM46 217h1v1h-1zM47 216h1v1h-1zM48 214h1v2h-1zM49 213h1v1h-1zM50 212h1v1h-1zM51 211h1v1h-1zM52 210h1v1h-1zM53 210h1v1h-1zM54 209h1v1h-1zM55 209h1v1h-1zM56 209h1v1h-1zM57 209h1v1h-1zM58 208h1v1h-1zM59 208h1v1h-1zM60 208h1v1h-1zM61 208h1v1h-1zM62 208h1v1h-1zM63 208h1v1h-1zM64 208h1v1h-1zM65 208h1v1h-1zM66 208h1v1h-1zM67 208h1v1h-1zM68 208h1v1h-1zM69 208h1v1h-1zM70 208h1v1h-1zM71 208h1v1h-1zM72 208h1v1h-1zM73 208h1v1h-1zM74 208h1v1h-1zM75 208h1v1h-1zM76 208h1v1h-1zM77 208h1v1h-1zM78 208h1v1h-1zM79 208h1v1h-1zM80 208h1v1h-1zM81 208h1v1h-1zM82 208h1v1h-1zM83 208h1v1h-1zM84 208h1v1h-1zM85 208h1v1h-1zM86 209h1v1h-1zM87 209h1v1h-1zM88 209h1v1h-1zM89 209h1v1h-1zM90 209h1v1h-1zM91 209h1v1h-1zM92 209h1v1h-1zM93 209h1v1h-1zM94 209h1v1h-1zM95 209h1v1h-1zM96 209h1v1h-1zM97 209h1v1h-1zM98 209h1v1h-1zM99 209h1v1h-1zM100 209h1v1h-1zM101 209h1v1h-1zM102 208h1v1h-1zM103 208h1v1h-1zM104 208h1v1h-1zM105 208h1v1h-1zM106 207h1v1h-1zM107 207h1v1h-1zM108 207h1v1h-1zM109 207h1v1h-1zM110 206h1v1h-1zM111 206h1v1h-1zM112 206h1v1h-1zM113 206h1v1h-1zM114 205h1v1h-1zM115 205h1v1h-1zM116 205h1v1h-1zM117 204h1v1h-1zM118 204h1v1h-1zM119 204h1v1h-1zM120 203h1v1h-1zM121 203h1v1h-1zM122 203h1v1h-1zM123 202h1v1h-1zM124 202h1v1h-1zM125 202h1v1h-1zM126 202h1v1h-1zM127 202h1v1h-1zM128 202h1v1h-1zM129 202h1v1h-1zM130 202h1v1h-1zM131 202h1v1h-1zM132 202h1v1h-1zM133 202h1v1h-1zM134 202h1v1h-1zM135 202h1v1h-1zM136 202h1v1h-1zM137 202h1v1h-1zM138 202h1v1h-1zM139 202h1v1h-1zM140 202h1v1h-1zM141 202h1v1h-1zM142 203h1v1h-1zM143 203h1v1h-1zM144 203h1v1h-1zM145 203h1v1h-1zM146 204h1v1h-1zM147 204h1v1h-1zM148 204h1v1h-1zM149 204h1v1h-1zM150 205h1v1h-1zM151 205h1v1h-1zM152 206h1v1h-1zM153 206h1v1h-1zM154 207h1v1h-1zM155 207h1v1h-1zM156 207h1v1h-1zM157 208h1v1h-1zM158 208h1v1h-1zM159 208h1v1h-1zM160 208h1v1h-1zM161 209h1v1h-1zM162 209h1v1h-1zM163 209h1v1h-1zM164 209h1v1h-1zM165 210h1v1h-1zM166 210h1v1h-1zM167 210h1v1h-1zM168 210h1v1h-1zM169 211h1v1h-1zM170 211h1v1h-1zM171 211h1v1h-1zM172 211h1v1h-1zM173 212h1v1h-1zM174 212h1v1h-1zM175 212h1v1h-1zM176 212h1v1h-1zM177 213h1v1h-1zM178 213h1v1h-1zM179 213h1v1h-1zM180 213h1v1h-1zM181 213h1v1h-1zM182 213h1v1h-1zM183 214h1v1h-1zM184 214h1v1h-1zM185 214h1v1h-1zM186 214h1v1h-1zM187 214h1v1h-1zM188 214h1v1h-1zM189 215h1v1h-1zM190 215h1v1h-1zM191 215h1v1h-1zM192 215h1v1h-1zM193 216h1v1h-1zM194 216h1v1h-1zM195 216h1v1h-1zM196 216h1v1h-1zM197 216h1v1h-1zM198 216h1v1h-1zM199 216h1v1h-1zM200 216h1v1h-1zM201 216h1v1h-1zM202 216h1v1h-1zM203 216h1v1h-1zM204 216h1v1h-1zM205 216h1v1h-1zM206 216h1v1h-1zM207 217h1v1h-1zM208 217h1v1h-1zM209 217h1v1h-1zM210 217h1v1h-1zM211 217h1v1h-1zM212 217h1v1h-1zM213 217h1v1h-1zM214 217h1v1h-1zM215 218h1v1h-1zM216 218h1v1h-1zM217 218h1v1h-1zM218 218h1v1h-1zM219 218h1v1h-1zM220 218h1v1h-1zM221 218h1v1h-1zM222 218h1v1h-1zM223 219h1v1h-1zM224 219h1v1h-1zM225 219h1v1h-1zM226 219h1v1h-1zM227 219h1v1h-1zM228 219h1v1h-1zM229 219h1v1h-1zM230 219h1v1h-1zM231 219h1v1h-1zM232 219h1v1h-1zM233 219h1v1h-1zM234 219h1v1h-1zM235 219h1v1h-1zM236 219h1v1h-1zM237 220h1v1h-1zM238 220h1v1h-1zM239 220h1v1h-1zM240 220h1v1h-1zM241 221h1v1h-1zM242 221h1v1h-1zM243 221h1v1h-1zM244 221h1v1h-1zM245 221h1v1h-1zM246 221h1v1h-1zM247 222h1v1h-1zM248 222h1v1h-1zM249 222h1v1h-1zM250 222h1v1h-1zM251 222h1v1h-1zM252 222h1v1h-1zM253 223h1v1h-1zM254 223h1v1h-1zM255 223h1v1h-1zM256 223h1v1h-1zM257 224h1v1h-1zM258 224h1v1h-1zM259 224h1v1h-1zM260 224h1v1h-1zM261 225h1v1h-1zM262 225h1v1h-1zM263 225h1v1h-1zM264 225h1v1h-1zM265 226h1v1h-1zM266 226h1v1h-1zM267 226h1v1h-1zM268 226h1v1h-1zM269 226h1v1h-1zM270 226h1v1h-1zM271 227h1v1h-1zM272 227h1v1h-1zM273 227h1v1h-1zM274 227h1v1h-1zM275 227h1v1h-1zM276 227h1v1h-1zM277 228h1v1h-1zM278 228h1v1h-1zM279 229h1v1h-1zM280 229h1v1h-1zM281 229h1v1h-1zM282 230h1v1h-1zM283 230h1v1h-1zM284 230h1v1h-1zM285 230h1v1h-1zM286 230h1v1h-1zM287 231h1v1h-1zM288 231h1v1h-1zM289 231h1v1h-1zM290 231h1v1h-1zM291 231h1v1h-1zM292 231h1v1h-1zM293 231h1v1h-1zM294 231h1v1h-1zM295 230h1v1h-1zM296 230h1v1h-1zM297 230h1v1h-1zM298 230h1v1h-1zM299 230h1v1h-1zM300 230h1v1h-1zM301 230h1v1h-1zM302 230h1v1h-1zM303 229h1v1h-1zM304 229h1v1h-1zM305 229h1v1h-1zM306 229h1v1h-1zM307 229h1v1h-1zM308 229h1v1h-1zM309 229h1v1h-1zM310 229h1v1h-1zM311 228h1v1h-1zM312 228h1v1h-1zM313 228h1v1h-1zM314 228h1v1h-1zM315 228h1v1h-1zM316 228h1v1h-1zM317 227h1v1h-1zM318 227h1v1h-1zM319 227h1v1h-1zM320 227h1v1h-1zM321 226h1v1h-1zM322 226h1v1h-1zM323 226h1v1h-1zM324 226h1v1h-1zM325 225h1v1h-1zM326 225h1v1h-1zM327 225h1v1h-1zM328 225h1v1h-1zM329 224h1v1h-1zM330 224h1v1h-1zM331 224h1v1h-1zM332 224h1v1h-1zM333 223h1v1h-1zM334 223h1v1h-1zM335 222h1v1h-1zM336 222h1v1h-1zM337 222h1v1h-1zM338 221h1v1h-1zM339 221h1v1h-1zM340 221h1v1h-1zM341 220h1v1h-1zM342 220h1v1h-1zM343 220h1v1h-1zM344 220h1v1h-1zM345 219h1v1h-1zM346 219h1v1h-1zM347 219h1v1h-1zM348 219h1v1h-1zM349 219h1v1h-1zM350 219h1v1h-1zM351 218h1v1h-1zM352 218h1v1h-1zM353 218h1v1h-1zM354 218h1v1h-1zM355 218h1v1h-1zM356 218h1v1h-1zM357 218h1v1h-1zM358 218h1v1h-1zM359 219h1v1h-1zM360 219h1v1h-1zM361 219h1v1h-1zM362 219h1v1h-1zM363 219h1v1h-1zM364 219h1v1h-1zM365 219h1v1h-1zM366 219h1v1h-1zM367 218h1v1h-1zM368 218h1v1h-1zM369 218h1v1h-1zM370 218h1v1h-1zM371 218h1v1h-1zM372 218h1v1h-1zM373 218h1v1h-1zM374 218h1v1h-1zM375 217h1v1h-1zM376 217h1v1h-1zM377 217h1v1h-1zM378 217h1v1h-1zM379 217h1v1h-1zM380 217h1v1h-1zM381 216h1v1h-1zM382 216h1v1h-1zM383 216h1v1h-1zM384 216h1v1h-1zM385 215h1v1h-1zM386 215h1v1h-1zM387 215h1v1h-1zM388 215h1v1h-1zM389 215h1v1h-1zM390 215h1v1h-1zM391 215h1v1h-1zM392 215h1v1h-1zM393 215h1v1h-1zM394 215h1v1h-1zM395 215h1v1h-1zM396 215h1v1h-1zM397 215h1v1h-1zM398 215h1v1h-1zM399 214h1v1h-1zM400 214h1v1h-1zM401 214h1v1h-1zM402 214h1v1h-1zM403 214h1v1h-1zM404 214h1v1h-1zM405 215h1v1h-1zM406 215h1v1h-1zM407 216h1v1h-1zM408 216h1v1h-1zM409 216h1v1h-1zM410 217h1v1h-1zM411 217h1v1h-1zM412 217h1v1h-1zM413 218h1v1h-1zM414 218h1v1h-1zM415 218h1v1h-1zM416 218h1v1h-1zM417 219h1v1h-1zM418 219h1v1h-1zM419 219h1v1h-1zM420 219h1v1h-1zM421 220h1v1h-1zM422 220h1v1h-1zM423 220h1v1h-1zM424 220h1v1h-1zM425 221h1v1h-1zM426 221h1v1h-1zM427 221h1v1h-1zM428 222h1v1h-1zM429 222h1v1h-1zM430 223h1v1h-1zM431 223h1v1h-1zM432 224h1v1h-1zM433 224h1v1h-1zM434 225h1v1h-1zM435 225h1v1h-1zM436 226h1v1h-1zM437 226h1v1h-1zM438 227h1v1h-1zM439 228h1v1h-1zM440 228h1v1h-1zM441 229h1v1h-1zM442 229h1v1h-1zM443 230h1v1h-1zM444 231h1v1h-1zM445 231h1v1h-1zM446 232h1v1h-1zM447 233h1v1h-1zM448 233h1v1h-1zM449 234h1v1h-1zM450 234h1v1h-1zM451 235h1v1h-1zM452 236h1v1h-1zM453 237h1v1h-1zM454 238h1v1h-1zM455 239h1v1h-1zM456 239h1v1h-1zM457 240h1v1h-1zM458 241h1v1h-1zM459 242h1v1h-1zM460 243h1v1h-1zM461 244h1v1h-1zM462 245h1v1h-1zM463 246h1v1h-1zM464 246h1v1h-1zM465 247h1v1h-1zM466 248h1v1h-1zM467 249h1v1h-1zM468 250h1v1h-1zM469 251h1v1h-1zM470 252h1v1h-1zM471 253h1v2h-1zM472 255h1v1h-1zM473 256h1v1h-1zM474 257h1v1h-1zM475 258h1v1h-1zM476 259h1v1h-1zM477 260h1v1h-1zM478 261h1v1h-1zM479 262h1v2h-1zM480 264h1v1h-1zM481 265h1v1h-1zM482 266h1v1h-1zM483 267h1v1h-1zM484 268h1v1h-1zM485 269h1v1h-1zM486 270h1v1h-1zM487 271h1v2h-1zM488 273h1v1h-1zM489 274h1v1h-1zM490 275h1v1h-1zM491 276h1v1h-1zM492 277h1v1h-1zM493 278h1v2h-1zM494 280h1v1h-1zM495 281h1v1h-1zM496 282h1v1h-1zM497 283h1v2h-1zM498 285h1v1h-1zM499 286h1v1h-1zM500 287h1v1h-1zM501 288h1v1h-1zM502 289h1v1h-1zM503 290h1v2h-1zM504 292h1v1h-1zM505 293h1v1h-1zM506 294h1v1h-1zM507 295h1v1h-1zM508 296h1v1h-1zM509 297h1v1h-1zM510 298h1v1h-1zM511 299h1v1h-1zM512 300h1v1h-1zM513 301h1v1h-1zM514 302h1v1h-1zM515 303h1v1h-1zM516 304h1v1h-1zM517 305h1v1h-1zM518 305h1v1h-1zM519 306h1v1h-1zM520 307h1v1h-1zM521 308h1v1h-1zM522 308h1v1h-1zM523 309h1v1h-1zM524 310h1v1h-1zM525 311h1v1h-1zM526 312h1v1h-1zM527 313h1v1h-1zM528 314h1v1h-1zM529 315h1v1h-1zM530 316h1v1h-1zM531 317h1v1h-1zM532 318h1v2h-1zM533 320h1v1h-1zM534 321h1v1h-1zM535 322h1v2h-1zM536 324h1v1h-1zM537 325h1v1h-1zM538 326h1v2h-1zM539 328h1v1h-1zM540 329h1v1h-1zM541 330h1v2h-1zM542 332h1v1h-1zM543 333h1v1h-1zM544 334h1v1h-1zM545 335h1v2h-1zM546 337h1v1h-1zM547 338h1v1h-1zM548 339h1v1h-1zM549 340h1v1h-1zM550 341h1v1h-1zM551 342h1v2h-1zM552 344h1v1h-1zM553 345h1v1h-1zM554 346h1v1h-1zM555 347h1v1h-1zM556 348h1v2h-1zM557 350h1v1h-1zM558 351h1v2h-1zM559 353h1v1h-1zM560 354h1v2h-1zM561 356h1v1h-1zM562 357h1v2h-1zM563 359h1v1h-1zM564 360h1v2h-1zM565 362h1v1h-1zM566 363h1v1h-1zM567 364h1v2h-1zM568 366h1v1h-1zM569 367h1v1h-1zM570 368h1v2h-1zM571 370h1v1h-1zM572 371h1v2h-1zM573 373h1v1h-1zM574 374h1v1h-1zM575 375h1v2h-1zM576 377h1v1h-1zM577 378h1v1h-1zM578 379h1v2h-1zM579 381h1v1h-1zM580 382h1v2h-1zM581 384h1v1h-1zM582 385h1v1h-1zM583 386h1v2h-1zM584 388h1v1h-1zM585 389h1v1h-1zM586 390h1v2h-1zM587 392h1v1h-1zM588 393h1v1h-1zM589 394h1v1h-1zM590 395h1v1h-1zM591 396h1v2h-1zM592 398h1v1h-1zM593 399h1v1h-1zM594 400h1v1h-1zM595 401h1v1h-1zM596 402h1v1h-1zM597 403h1v1h-1zM598 404h1v1h-1zM599 405h1v2h-1zM600 407h1v1h-1zM601 408h1v1h-1zM602 409h1v1h-1zM603 410h1v1h-1zM604 411h1v1h-1zM605 412h1v1h-1zM606 413h1v1h-1zM607 414h1v1h-1zM608 415h1v1h-1zM609 416h1v1h-1zM610 417h1v1h-1zM611 418h1v1h-1zM612 419h1v1h-1zM613 419h1v1h-1zM614 420h1v1h-1zM615 421h1v1h-1zM616 421h1v1h-1zM617 422h1v1h-1zM618 422h1v1h-1zM619 423h1v1h-1zM620 424h1v1h-1zM621 425h1v1h-1zM622 425h1v1h-1zM623 426h1v1h-1zM624 427h1v1h-1zM625 428h1v1h-1zM626 428h1v1h-1zM627 429h1v1h-1zM628 429h1v1h-1zM629 430h1v1h-1zM630 430h1v1h-1zM631 430h1v1h-1zM632 430h1v1h-1zM633 431h1v1h-1zM634 431h1v1h-1zM635 431h1v1h-1zM636 431h1v1h-1zM637 432h1v1h-1zM638 432h1v1h-1zM639 432h1v1h-1zM640 432h1v1h-1zM641 433h1v1h-1zM642 433h1v1h-1zM643 433h1v1h-1zM644 433h1v1h-1zM645 434h1v1h-1zM646 434h1v1h-1zM647 434h1v1h-1zM648 434h1v1h-1zM649 435h1v1h-1zM650 435h1v1h-1zM651 435h1v1h-1zM652 435h1v1h-1zM653 435h1v1h-1zM654 435h1v1h-1zM655 436h1v1h-1zM656 436h1v1h-1zM657 436h1v1h-1zM658 436h1v1h-1zM659 436h1v1h-1zM660 437h1v1h-1zM661 437h1v1h-1zM662 438h1v1h-1zM663 438h1v1h-1zM664 439h1v1h-1zM665 439h1v1h-1zM666 440h1v1h-1zM667 440h1v1h-1zM668 440h1v1h-1zM669 441h1v1h-1zM670 441h1v1h-1zM671 442h1v1h-1zM672 442h1v1h-1zM673 442h1v1h-1zM674 443h1v1h-1zM675 443h1v1h-1zM676 443h1v1h-1zM677 444h1v1h-1zM678 444h1v1h-1zM679 444h1v1h-1zM680 444h1v1h-1zM681 445h1v1h-1zM682 445h1v1h-1zM683 445h1v1h-1zM684 445h1v1h-1zM685 446h1v1h-1zM686 446h1v1h-1zM687 446h1v1h-1zM688 446h1v1h-1zM689 447h1v1h-1zM690 447h1v1h-1zM691 447h1v1h-1zM692 447h1v1h-1zM693 448h1v1h-1zM694 448h1v1h-1zM695 449h1v1h-1zM696 449h1v1h-1zM697 449h1v1h-1zM698 450h1v1h-1zM699 450h1v1h-1zM700 450h1v1h-1zM701 451h1v1h-1zM702 451h1v1h-1zM703 451h1v1h-1zM704 451h1v1h-1zM705 452h1v1h-1zM706 452h1v1h-1zM707 452h1v1h-1zM708 452h1v1h-1zM709 452h1v1h-1zM710 452h1v1h-1zM711 453h1v1h-1zM712 453h1v1h-1zM713 453h1v1h-1zM714 453h1v1h-1zM715 453h1v1h-1zM716 452h1v1h-1zM717 452h1v1h-1zM718 451h1v1h-1zM719 450h1v1h-1zM720 450h1v1h-1zM721 449h1v1h-1zM722 449h1v1h-1zM723 448h1v1h-1zM724 447h1v1h-1zM725 446h1v1h-1zM726 445h1v1h-1zM727 444h1v1h-1zM728 444h1v1h-1zM729 443h1v1h-1zM730 442h1v1h-1zM731 441h1v1h-1zM732 439h1v2h-1zM733 438h1v1h-1zM734 437h1v1h-1zM735 435h1v2h-1zM736 434h1v1h-1zM737 433h1v1h-1zM738 431h1v2h-1zM739 430h1v1h-1zM740 429h1v1h-1zM741 427h1v2h-1zM742 426h1v1h-1zM743 425h1v1h-1zM744 424h1v1h-1zM745 422h1v2h-1zM746 421h1v1h-1zM747 420h1v1h-1zM748 418h1v2h-1zM749 417h1v1h-1zM750 416h1v1h-1zM751 414h1v2h-1zM752 413h1v1h-1zM753 412h1v1h-1zM754 410h1v2h-1zM755 409h1v1h-1zM756 407h1v2h-1zM757 405h1v2h-1zM758 403h1v2h-1zM759 402h1v1h-1zM760 400h1v2h-1zM761 398h1v2h-1zM762 396h1v2h-1zM763 395h1v1h-1zM764 393h1v2h-1zM765 391h1v2h-1zM766 390h1v1h-1zM767 388h1v2h-1zM768 387h1v1h-1zM769 385h1v2h-1zM770 383h1v2h-1zM771 382h1v1h-1zM772 380h1v2h-1zM773 378h1v2h-1zM774 376h1v2h-1zM775 375h1v1h-1zM776 373h1v2h-1zM777 371h1v2h-1zM778 369h1v2h-1zM779 368h1v1h-1zM780 366h1v2h-1zM781 364h1v2h-1zM782 362h1v2h-1zM783 361h1v1h-1zM784 359h1v2h-1zM785 357h1v2h-1zM786 355h1v2h-1zM787 354h1v1h-1zM788 352h1v2h-1zM789 351h1v1h-1zM790 350h1v1h-1zM791 348h1v2h-1zM792 347h1v1h-1zM793 346h1v1h-1zM794 344h1v2h-1zM795 343h1v1h-1zM796 341h1v2h-1zM797 340h1v1h-1zM798 339h1v1h-1zM799 337h1v2h-1zM800 336h1v1h-1zM801 335h1v1h-1zM802 333h1v2h-1zM803 332h1v1h-1zM804 330h1v2h-1zM805 329h1v1h-1zM806 328h1v1h-1zM807 326h1v2h-1zM808 325h1v1h-1zM809 324h1v1h-1zM810 322h1v2h-1zM811 321h1v1h-1zM812 319h1v2h-1zM813 318h1v1h-1zM814 317h1v1h-1zM815 315h1v2h-1zM816 314h1v1h-1zM817 313h1v1h-1zM818 311h1v2h-1zM819 310h1v1h-1zM820 308h1v2h-1zM821 307h1v1h-1zM822 305h1v2h-1zM823 304h1v1h-1zM824 302h1v2h-1zM825 301h1v1h-1zM826 299h1v2h-1zM827 298h1v1h-1zM828 296h1v2h-1zM829 295h1v1h-1zM830 294h1v1h-1zM831 292h1v2h-1zM832 291h1v1h-1zM833 290h1v1h-1zM834 288h1v2h-1zM835 287h1v1h-1zM836 286h1v1h-1zM837 285h1v1h-1zM838 284h1v1h-1zM839 282h1v2h-1zM840 281h1v1h-1zM841 280h1v1h-1zM842 279h1v1h-1zM843 278h1v1h-1zM844 276h1v2h-1zM845 275h1v1h-1zM846 274h1v1h-1zM847 272h1v2h-1zM848 271h1v1h-1zM849 270h1v1h-1zM850 268h1v2h-1zM851 267h1v1h-1zM852 265h1v2h-1zM853 263h1v2h-1zM854 261h1v2h-1zM855 259h1v2h-1zM856 257h1v2h-1zM857 255h1v2h-1zM858 253h1v2h-1zM859 252h1v1h-1zM860 250h1v2h-1zM861 248h1v2h-1zM862 246h1v2h-1zM863 244h1v2h-1zM864 242h1v2h-1zM865 240h1v2h-1zM866 238h1v2h-1zM867 237h1v1h-1zM868 235h1v2h-1zM869 233h1v2h-1zM870 231h1v2h-1zM871 230h1v1h-1zM872 228h1v2h-1zM873 226h1v2h-1zM874 224h1v2h-1zM875 223h1v1h-1zM876 221h1v2h-1zM877 220h1v1h-1zM878 218h1v2h-1zM879 217h1v1h-1zM880 215h1v2h-1zM881 214h1v1h-1zM882 212h1v2h-1zM883 211h1v1h-1zM884 209h1v2h-1zM885 207h1v2h-1zM886 206h1v1h-1zM887 204h1v2h-1zM888 203h1v1h-1zM889 201h1v2h-1zM890 199h1v2h-1zM891 198h1v1h-1zM892 197h1v1h-1zM893 196h1v1h-1zM894 195h1v1h-1zM895 193h1v2h-1zM896 192h1v1h-1zM897 191h1v1h-1zM898 190h1v1h-1zM899 189h1v1h-1zM900 188h1v1h-1zM901 187h1v1h-1zM902 186h1v1h-1zM903 184h1v2h-1zM904 183h1v1h-1zM905 182h1v1h-1zM906 181h1v1h-1zM907 180h1v1h-1zM908 179h1v1h-1zM909 178h1v1h-1zM910 177h1v1h-1zM911 176h1v1h-1zM912 176h1v1h-1zM913 175h1v1h-1zM914 174h1v1h-1zM915 173h1v1h-1zM916 172h1v1h-1zM917 171h1v1h-1zM918 170h1v1h-1zM919 169h1v1h-1zM920 169h1v1h-1zM921 168h1v1h-1zM922 167h1v1h-1zM923 166h1v1h-1zM924 165h1v1h-1zM925 165h1v1h-1zM926 164h1v1h-1zM927 163h1v1h-1zM928 163h1v1h-1zM929 162h1v1h-1zM930 162h1v1h-1zM931 161h1v1h-1zM932 161h1v1h-1zM933 160h1v1h-1zM934 160h1v1h-1zM935 159h1v1h-1zM936 159h1v1h-1zM937 159h1v1h-1zM938 158h1v1h-1zM939 158h1v1h-1zM940 157h1v1h-1zM941 157h1v1h-1zM942 156h1v1h-1zM943 156h1v1h-1zM944 155h1v1h-1zM945 155h1v1h-1zM946 154h1v1h-1zM947 154h1v1h-1zM948 153h1v1h-1zM949 153h1v1h-1zM950 152h1v1h-1zM951 152h1v1h-1zM952 151h1v1h-1zM953 151h1v1h-1zM954 150h1v1h-1zM955 150h1v1h-1zM956 150h1v1h-1zM957 149h1v1h-1zM958 149h1v1h-1zM959 148h1v1h-1zM960 148h1v1h-1zM961 148h1v1h-1zM962 147h1v1h-1zM963 147h1v1h-1zM964 146h1v1h-1zM965 146h1v1h-1zM966 145h1v1h-1zM967 145h1v1h-1zM968 144h1v1h-1zM969 144h1v1h-1zM970 143h1v1h-1zM971 143h1v1h-1zM972 143h1v1h-1zM973 142h1v1h-1zM974 142h1v1h-1zM975 141h1v1h-1zM976 141h1v1h-1zM977 141h1v1h-1zM978 140h1v1h-1zM979 140h1v1h-1zM980 140h1v1h-1zM981 139h1v1h-1zM982 139h1v1h-1zM983 138h1v1h-1zM984 138h1v1h-1zM985 138h1v1h-1zM986 137h1v1h-1zM987 137h1v1h-1zM988 136h1v1h-1zM989 136h1v1h-1zM990 135h1v1h-1zM991 135h1v1h-1zM992 134h1v1h-1zM993 134h1v1h-1zM994 133h1v1h-1zM995 133h1v1h-1zM996 132h1v1h-1zM997 132h1v1h-1zM998 131h1v1h-1zM999 131h1v1h-1zM1000 130h1v1h-1zM1001 130h1v1h-1zM1002 129h1v1h-1zM1003 129h1v1h-1zM1004 128h1v1h-1zM1005 128h1v1h-1zM1006 127h1v1h-1zM1007 127h1v1h-1zM1008 126h1v1h-1zM1009 126h1v1h-1zM1010 125h1v1h-1zM1011 125h1v1h-1zM1012 124h1v1h-1zM1013 124h1v1h-1zM1014 123h1v1h-1zM1015 123h1v1h-1zM1016 122h1v1h-1zM1017 122h1v1h-1zM1018 121h1v1h-1zM1019 121h1v1h-1zM1020 121h1v1h-1zM1021 120h1v1h-1zM1022 120h1v1h-1zM1023 119h1v1h-1zM1024 119h1v1h-1zM1025 119h1v1h-1zM1026 118h1v1h-1zM1027 118h1v1h-1zM1028 118h1v1h-1zM1029 117h1v1h-1zM1030 117h1v1h-1zM1031 117h1v1h-1zM1032 117h1v1h-1zM1033 116h1v1h-1zM1034 116h1v1h-1zM1035 116h1v1h-1zM1036 116h1v1h-1zM1037 115h1v1h-1zM1038 115h1v1h-1zM1039 114h1v1h-1zM1040 114h1v1h-1zM1041 114h1v1h-1zM1042 113h1v1h-1zM1043 113h1v1h-1zM1044 113h1v1h-1zM1045 112h1v1h-1zM1046 112h1v1h-1zM1047 112h1v1h-1zM1048 112h1v1h-1zM1049 111h1v1h-1zM1050 111h1v1h-1zM1051 111h1v1h-1zM1052 111h1v1h-1zM1053 111h1v1h-1zM1054 111h1v1h-1zM1055 110h1v1h-1zM1056 110h1v1h-1zM1057 110h1v1h-1zM1058 110h1v1h-1zM1059 110h1v1h-1zM1060 110h1v1h-1zM1061 109h1v1h-1zM1062 109h1v1h-1zM1063 109h1v1h-1zM1064 109h1v1h-1zM1065 108h1v1h-1zM1066 108h1v1h-1zM1067 108h1v1h-1zM1068 108h1v1h-1zM1069 108h1v1h-1zM1070 108h1v1h-1zM1071 107h1v1h-1zM1072 107h1v1h-1zM1073 107h1v1h-1zM1074 107h1v1h-1zM1075 107h1v1h-1zM1076 107h1v1h-1zM1077 106h1v1h-1zM1078 106h1v1h-1zM1079 106h1v1h-1zM1080 106h1v1h-1zM1081 105h1v1h-1zM1082 105h1v1h-1zM1083 105h1v1h-1zM1084 105h1v1h-1zM1085 104h1v1h-1zM1086 104h1v1h-1zM1087 104h1v1h-1zM1088 104h1v1h-1zM1089 103h1v1h-1zM1090 103h1v1h-1zM1091 103h1v1h-1zM1092 103h1v1h-1zM1093 102h1v1h-1zM1094 102h1v1h-1zM1095 102h1v1h-1zM1096 102h1v1h-1zM1097 101h1v1h-1zM1098 101h1v1h-1zM1099 101h1v1h-1zM1100 101h1v1h-1zM1101 100h1v1h-1zM1102 100h1v1h-1zM1103 99h1v1h-1zM1104 99h1v1h-1zM1105 99h1v1h-1zM1106 98h1v1h-1zM1107 98h1v1h-1zM1108 98h1v1h-1zM1109 97h1v1h-1zM1110 97h1v1h-1zM1111 97h1v1h-1zM1112 97h1v1h-1zM1113 96h1v1h-1zM1114 96h1v1h-1zM1115 96h1v1h-1zM1116 96h1v1h-1zM1117 95h1v1h-1zM1118 95h1v1h-1zM1119 94h1v1h-1zM1120 94h1v1h-1zM1121 94h1v1h-1zM1122 93h1v1h-1zM1123 93h1v1h-1zM1124 93h1v1h-1zM1125 92h1v1h-1zM1126 92h1v1h-1zM1127 92h1v1h-1zM1128 92h1v1h-1zM1129 91h1v1h-1zM1130 91h1v1h-1zM1131 91h1v1h-1zM1132 91h1v1h-1zM1133 91h1v1h-1zM1134 91h1v1h-1zM1135 90h1v1h-1zM1136 90h1v1h-1zM1137 90h1v1h-1zM1138 90h1v1h-1zM1139 90h1v1h-1zM1140 90h1v1h-1zM1141 90h1v1h-1zM1142 90h1v1h-1zM1143 89h1v1h-1zM1144 89h1v1h-1zM1145 89h1v1h-1zM1146 89h1v1h-1zM1147 89h1v1h-1zM1148 89h1v1h-1zM1149 89h1v1h-1zM1150 89h1v1h-1zM1151 88h1v1h-1zM1152 88h1v1h-1zM1153 88h1v1h-1zM1154 88h1v1h-1zM1155 88h1v1h-1zM1156 88h1v1h-1zM1157 88h1v1h-1zM1158 88h1v1h-1zM1159 89h1v1h-1zM1160 89h1v1h-1zM1161 89h1v1h-1zM1162 89h1v1h-1zM1163 89h1v1h-1zM1164 89h1v1h-1zM1165 90h1v1h-1zM1166 90h1v1h-1zM1167 90h1v1h-1zM1168 90h1v1h-1zM1169 91h1v1h-1zM1170 91h1v1h-1zM1171 91h1v1h-1zM1172 91h1v1h-1zM1173 92h1v1h-1zM1174 92h1v1h-1zM1175 92h1v1h-1zM1176 92h1v1h-1zM1177 93h1v1h-1zM1178 93h1v1h-1zM1179 93h1v1h-1zM1180 93h1v1h-1zM1181 93h1v1h-1zM1182 93h1v1h-1zM1183 93h1v1h-1zM1184 93h1v1h-1zM1185 93h1v1h-1zM1186 93h1v1h-1zM1187 93h1v1h-1zM1188 93h1v1h-1zM1189 94h1v1h-1zM1190 94h1v1h-1zM1191 94h1v1h-1zM1192 94h1v1h-1zM1193 95h1v1h-1zM1194 95h1v1h-1zM1195 95h1v1h-1zM1196 95h1v1h-1zM1197 96h1v1h-1zM1198 96h1v1h-1zM1199 96h1v1h-1zM1200 96h1v1h-1zM1201 97h1v1h-1zM1202 97h1v1h-1zM1203 97h1v1h-1zM1204 97h1v1h-1zM1205 98h1v1h-1zM1206 98h1v1h-1zM1207 99h1v1h-1zM1208 99h1v1h-1zM1209 99h1v1h-1zM1210 100h1v1h-1zM1211 100h1v1h-1zM1212 100h1v1h-1zM1213 101h1v1h-1zM1214 101h1v1h-1zM1215 102h1v1h-1zM1216 102h1v1h-1zM1217 102h1v1h-1zM1218 103h1v1h-1zM1219 103h1v1h-1zM1220 104h1v1h-1zM1221 104h1v1h-1zM1222 105h1v1h-1zM1223 105h1v1h-1zM1224 106h1v1h-1zM1225 106h1v1h-1zM1226 107h1v1h-1zM1227 107h1v1h-1zM1228 108h1v1h-1zM1229 108h1v1h-1zM1230 109h1v1h-1zM1231 110h1v1h-1zM1232 110h1v1h-1zM1233 111h1v1h-1zM1234 111h1v1h-1zM1235 112h1v1h-1zM1236 113h1v1h-1zM1237 114h1v1h-1zM1238 114h1v1h-1zM1239 115h1v1h-1zM1240 116h1v1h-1zM1241 117h1v1h-1zM1242 117h1v1h-1zM1243 118h1v1h-1zM1244 119h1v1h-1zM1245 119h1v1h-1zM1246 120h1v1h-1zM1247 121h1v1h-1zM1248 121h1v1h-1zM1249 122h1v1h-1zM1250 122h1v1h-1zM1251 123h1v1h-1zM1252 124h1v1h-1zM1253 125h1v1h-1zM1254 126h1v1h-1zM1255 127h1v1h-1zM1256 127h1v1h-1zM1257 128h1v1h-1zM1258 129h1v1h-1zM1259 130h1v1h-1zM1260 131h1v1h-1zM1261 132h1v1h-1zM1262 133h1v1h-1zM1263 134h1v1h-1zM1264 134h1v1h-1zM1265 135h1v1h-1zM1266 136h1v1h-1zM1267 137h1v1h-1zM1268 138h1v1h-1zM1269 139h1v1h-1zM1270 139h1v1h-1zM1271 140h1v1h-1zM1272 141h1v1h-1zM1273 142h1v1h-1zM1274 142h1v1h-1zM1275 143h1v1h-1zM1276 144h1v1h-1zM1277 144h1v1h-1zM1278 145h1v1h-1zM1279 146h1v1h-1zM1280 146h1v1h-1zM1281 147h1v1h-1zM1282 147h1v1h-1zM1283 148h1v1h-1z" fill="#3cb371" shape-rendering="crispEdges"/>
<path d="M0 428h1v1h-1zM1 426h1v2h-1zM2 425h1v1h-1zM3 423h1v2h-1zM4 422h1v1h-1zM5 421h1v1h-1zM6 419h1v2h-1zM7 418h1v1h-1zM8 416h1v2h-1zM9 415h1v1h-1zM10 413h1v2h-1zM11 411h1v2h-1zM12 409h1v2h-1zM13 406h1v3h-1zM14 403h1v3h-1zM15 400h1v3h-1zM16 397h1v3h-1zM17 394h1v3h-1zM18 391h1v3h-1zM19 388h1v3h-1zM20 385h1v3h-1zM21 382h1v3h-1zM22 379h1v3h-1zM23 376h1v3h-1zM24 373h1v3h-1zM25 370h1v3h-1zM26 367h1v3h-1zM27 363h1v4h-1zM28 359h1v4h-1zM29 356h1v3h-1zM30 352h1v4h-1zM31 348h1v4h-1zM32 345h1v3h-1zM33 341h1v4h-1zM34 337h1v4h-1zM35 334h1v3h-1zM36 330h1v4h-1zM37 326h1v4h-1zM38 322h1v4h-1zM39 318h1v4h-1zM40 314h1v4h-1zM41 309h1v5h-1zM42 305h1v4h-1zM43 300h1v5h-1zM44 294h1v6h-1zM45 289h1v5h-1zM46 283h1v6h-1zM47 277h1v6h-1zM48 271h1v6h-1zM49 264h1v7h-1zM50 260h1v4h-1zM51 259h1v1h-1zM52 258h1v1h-1zM53 257h1v1h-1zM54 256h1v1h-1zM55 255h1v1h-1zM56 255h1v1h-1zM57 254h1v1h-1zM58 253h1v1h-1zM59 253h1v1h-1zM60 252h1v1h-1zM61 252h1v1h-1zM62 251h1v1h-1zM63 251h1v1h-1zM64 250h1v1h-1zM65 250h1v1h-1zM66 250h1v1h-1zM67 249h1v1h-1zM68 249h1v1h-1zM69 249h1v1h-1zM70 249h1v1h-1zM71 248h1v1h-1zM72 248h1v1h-1zM73 248h1v1h-1zM74 248h1v1h-1zM75 248h1v1h-1zM76 248h1v1h-1zM77 248h1v1h-1zM78 248h1v1h-1zM79 248h1v1h-1zM80 248h1v1h-1zM81 248h1v1h-1zM82 248h1v1h-1zM83 248h1v1h-1zM84 248h1v1h-1zM85 248h1v1h-1zM86 248h1v1h-1zM87 248h1v1h-1zM88 248h1v1h-1zM89 248h1v1h-1zM90 248h1v1h-1zM91 248h1v1h-1zM92 248h1v1h-1zM93 248h1v1h-1zM94 248h1v1h-1zM95 248h1v1h-1zM96 248h1v1h-1zM97 247h1v1h-1zM98 247h1v1h-1zM99 247h1v1h-1zM100 247h1v1h-1zM101 246h1v1h-1zM102 245h1v1h-1zM103 244h1v1h-1zM104 243h1v1h-1zM105 242h1v1h-1zM106 242h1v1h-1zM107 241h1v1h-1zM108 240h1v1h-1zM109 239h1v1h-1zM110 238h1v1h-1zM111 237h1v1h-1zM112 236h1v1h-1zM113 235h1v1h-1zM114 235h1v1h-1zM115 234h1v1h-1zM116 233h1v1h-1zM117 232h1v1h-1zM118 232h1v1h-1zM119 231h1v1h-1zM120 231h1v1h-1zM121 230h1v1h-1zM122 230h1v1h-1zM123 229h1v1h-1zM124 229h1v1h-1zM125 229h1v1h-1zM126 228h1v1h-1zM127 228h1v1h-1zM128 227h1v1h-1zM129 227h1v1h-1zM130 226h1v1h-1zM131 226h1v1h-1zM132 227h1v1h-1zM133 227h1v1h-1zM134 228h1v1h-1zM135 229h1v1h-1zM136 230h1v1h-1zM137 230h1v1h-1zM138 231h1v1h-1zM139 232h1v1h-1zM140 233h1v1h-1zM141 233h1v1h-1zM142 234h1v1h-1zM143 235h1v1h-1zM144 235h1v1h-1zM145 236h1v1h-1zM146 236h1v1h-1zM147 237h1v1h-1zM148 238h1v1h-1zM149 238h1v1h-1zM150 239h1v1h-1zM151 240h1v1h-1zM152 240h1v1h-1zM153 241h1v1h-1zM154 241h1v1h-1zM155 242h1v1h-1zM156 243h1v1h-1zM157 243h1v1h-1zM158 244h1v1h-1zM159 245h1v1h-1zM160 245h1v1h-1zM161 246h1v1h-1zM162 246h1v1h-1zM163 247h1v1h-1zM164 247h1v1h-1zM165 248h1v1h-1zM166 248h1v1h-1zM167 248h1v1h-1zM168 248h1v1h-1zM169 249h1v1h-1zM170 249h1v1h-1zM171 249h1v1h-1zM172 249h1v1h-1zM173 250h1v1h-1zM174 250h1v1h-1zM175 251h1v1h-1zM176 251h1v1h-1zM177 251h1v1h-1zM178 252h1v1h-1zM179 252h1v1h-1zM180 252h1v1h-1zM181 252h1v1h-1zM182 252h1v1h-1zM183 252h1v1h-1zM184 252h1v1h-1zM185 252h1v1h-1zM186 252h1v1h-1zM187 252h1v1h-1zM188 252h1v1h-1zM189 252h1v1h-1zM190 252h1v1h-1zM191 252h1v1h-1zM192 252h1v1h-1zM193 252h1v1h-1zM194 252h1v1h-1zM195 252h1v1h-1zM196 252h1v1h-1zM197 252h1v1h-1zM198 252h1v1h-1zM199 251h1v1h-1zM200 251h1v1h-1zM201 251h1v1h-1zM202 251h1v1h-1zM203 251h1v1h-1zM204 251h1v1h-1zM205 252h1v1h-1zM206 252h1v1h-1zM207 252h1v1h-1zM208 252h1v1h-1zM209 253h1v1h-1zM210 253h1v1h-1zM211 253h1v1h-1zM212 253h1v1h-1zM213 253h1v1h-1zM214 253h1v1h-1zM215 254h1v1h-1zM216 254h1v1h-1zM217 254h1v1h-1zM218 254h1v1h-1zM219 254h1v1h-1zM220 254h1v1h-1zM221 254h1v1h-1zM222 254h1v1h-1zM223 255h1v1h-1zM224 255h1v1h-1zM225 255h1v1h-1zM226 255h1v1h-1zM227 255h1v1h-1zM228 255h1v1h-1zM229 255h1v1h-1zM230 255h1v1h-1zM231 256h1v1h-1zM232 256h1v1h-1zM233 256h1v1h-1zM234 256h1v1h-1zM235 256h1v1h-1zM236 256h1v1h-1zM237 256h1v1h-1zM238 256h1v1h-1zM239 257h1v1h-1zM240 257h1v1h-1zM241 257h1v1h-1zM242 257h1v1h-1zM243 257h1v1h-1zM244 257h1v1h-1zM245 257h1v1h-1zM246 257h1v1h-1zM247 257h1v1h-1zM248 257h1v1h-1zM249 257h1v1h-1zM250 257h1v1h-1zM251 257h1v1h-1zM252 257h1v1h-1zM253 256h1v1h-1zM254 256h1v1h-1zM255 256h1v1h-1zM256 256h1v1h-1zM257 255h1v1h-1zM258 255h1v1h-1zM259 255h1v1h-1zM260 255h1v1h-1zM261 255h1v1h-1zM262 255h1v1h-1zM263 255h1v1h-1zM264 255h1v1h-1zM265 255h1v1h-1zM266 255h1v1h-1zM267 255h1v1h-1zM268 255h1v1h-1zM269 254h1v1h-1zM270 254h1v1h-1zM271 254h1v1h-1zM272 254h1v1h-1zM273 253h1v1h-1zM274 253h1v1h-1zM275 253h1v1h-1zM276 253h1v1h-1zM277 252h1v1h-1zM278 252h1v1h-1zM279 251h1v1h-1zM280 251h1v1h-1zM281 251h1v1h-1zM282 250h1v1h-1zM283 250h1v1h-1zM284 250h1v1h-1zM285 250h1v1h-1zM286 250h1v1h-1zM287 250h1v1h-1zM288 250h1v1h-1zM289 250h1v1h-1zM290 250h1v1h-1zM291 250h1v1h-1zM292 250h1v1h-1zM293 249h1v1h-1zM294 249h1v1h-1zM295 249h1v1h-1zM296 249h1v1h-1zM297 248h1v1h-1zM298 248h1v1h-1zM299 248h1v1h-1zM300 248h1v1h-1zM301 247h1v1h-1zM302 247h1v1h-1zM303 246h1v1h-1zM304 246h1v1h-1zM305 246h1v1h-1zM306 245h1v1h-1zM307 245h1v1h-1zM308 245h1v1h-1zM309 246h1v1h-1zM310 246h1v1h-1zM311 247h1v1h-1zM312 247h1v1h-1zM313 247h1v1h-1zM314 248h1v1h-1zM315 248h1v1h-1zM316 248h1v1h-1zM317 248h1v1h-1zM318 248h1v1h-1zM319 249h1v1h-1zM320 249h1v1h-1zM321 249h1v1h-1zM322 249h1v1h-1zM323 249h1v1h-1zM324 249h1v1h-1zM325 249h1v1h-1zM326 249h1v1h-1zM327 250h1v1h-1zM328 250h1v1h-1zM329 250h1v1h-1zM330 250h1v1h-1zM331 250h1v1h-1zM332 250h1v1h-1zM333 251h1v1h-1zM334 251h1v1h-1zM335 252h1v1h-1zM336 252h1v1h-1zM337 252h1v1h-1zM338 253h1v1h-1zM339 253h1v1h-1zM340 253h1v1h-1zM341 254h1v1h-1zM342 254h1v1h-1zM343 255h1v1h-1zM344 255h1v1h-1zM345 255h1v1h-1zM346 256h1v1h-1zM347 256h1v1h-1zM348 256h1v1h-1zM349 256h1v1h-1zM350 256h1v1h-1zM351 256h1v1h-1zM352 256h1v1h-1zM353 256h1v1h-1zM354 256h1v1h-1zM355 256h1v1h-1zM356 256h1v1h-1zM357 256h1v1h-1zM358 256h1v1h-1zM359 256h1v1h-1zM360 256h1v1h-1zM361 256h1v1h-1zM362 256h1v1h-1zM363 256h1v1h-1zM364 256h1v1h-1zM365 256h1v1h-1zM366 256h1v1h-1zM367 255h1v1h-1zM368 255h1v1h-1zM369 255h1v1h-1zM370 255h1v1h-1zM371 255h1v1h-1zM372 255h1v1h-1zM373 255h1v1h-1zM374 255h1v1h-1zM375 254h1v1h-1zM376 254h1v1h-1zM377 254h1v1h-1zM378 254h1v1h-1zM379 254h1v1h-1zM380 254h1v1h-1zM381 254h1v1h-1zM382 254h1v1h-1zM383 253h1v1h-1zM384 253h1v1h-1zM385 253h1v1h-1zM386 253h1v1h-1zM387 253h1v1h-1zM388 253h1v1h-1zM389 253h1v1h-1zM390 253h1v1h-1zM391 253h1v1h-1zM392 253h1v1h-1zM393 253h1v1h-1zM394 253h1v1h-1zM395 253h1v1h-1zM396 253h1v1h-1zM397 252h1v1h-1zM398 252h1v1h-1zM399 252h1v1h-1zM400 252h1v1h-1zM401 251h1v1h-1zM402 251h1v1h-1zM403 251h1v1h-1zM404 252h1v2h-1zM405 254h1v1h-1zM406 255h1v1h-1zM407 256h1v2h-1zM408 258h1v1h-1zM409 259h1v1h-1zM410 260h1v2h-1zM411 262h1v1h-1zM412 263h1v1h-1zM413 264h1v1h-1zM414 265h1v1h-1zM415 266h1v2h-1zM416 268h1v1h-1zM417 269h1v1h-1zM418 270h1v1h-1zM419 271h1v1h-1zM420 272h1v1h-1zM421 273h1v1h-1zM422 274h1v1h-1zM423 275h1v1h-1zM424 276h1v1h-1zM425 277h1v1h-1zM426 278h1v1h-1zM427 279h1v1h-1zM428 280h1v2h-1zM429 282h1v2h-1zM430 284h1v2h-1zM431 286h1v2h-1zM432 288h1v2h-1zM433 290h1v2h-1zM434 292h1v2h-1zM435 294h1v2h-1zM436 296h1v2h-1zM437 298h1v3h-1zM438 301h1v3h-1zM439 304h1v2h-1zM440 306h1v3h-1zM441 309h1v3h-1zM442 312h1v2h-1zM443 314h1v2h-1zM444 316h1v2h-1zM445 318h1v2h-1zM446 320h1v2h-1zM447 322h1v2h-1zM448 324h1v2h-1zM449 326h1v2h-1zM450 328h1v2h-1zM451 330h1v2h-1zM452 332h1v3h-1zM453 335h1v3h-1zM454 338h1v3h-1zM455 341h1v2h-1zM456 343h1v3h-1zM457 346h1v3h-1zM458 349h1v3h-1zM459 352h1v3h-1zM460 355h1v2h-1zM461 357h1v3h-1zM462 360h1v2h-1zM463 362h1v3h-1zM464 365h1v2h-1zM465 367h1v3h-1zM466 370h1v2h-1zM467 372h1v3h-1zM468 375h1v3h-1zM469 378h1v2h-1zM470 380h1v3h-1zM471 383h1v3h-1zM472 386h1v3h-1zM473 389h1v2h-1zM474 391h1v3h-1zM475 394h1v2h-1zM476 396h1v2h-1zM477 398h1v2h-1zM478 400h1v2h-1zM479 402h1v1h-1zM480 403h1v2h-1zM481 405h1v2h-1zM482 407h1v2h-1zM483 409h1v1h-1zM484 410h1v2h-1zM485 412h1v1h-1zM486 413h1v2h-1zM487 415h1v1h-1zM488 416h1v2h-1zM489 418h1v1h-1zM490 419h1v2h-1zM491 421h1v1h-1zM492 422h1v2h-1zM493 424h1v1h-1zM494 425h1v1h-1zM495 426h1v2h-1zM496 428h1v1h-1zM497 429h1v1h-1zM498 430h1v2h-1zM499 432h1v1h-1zM500 432h1v1h-1zM501 433h1v1h-1zM502 433h1v1h-1zM503 434h1v1h-1zM504 434h1v1h-1zM505 434h1v1h-1zM506 435h1v1h-1zM507 435h1v1h-1zM508 436h1v1h-1zM509 436h1v1h-1zM510 437h1v1h-1zM511 437h1v1h-1zM512 438h1v1h-1zM513 438h1v1h-1zM514 439h1v1h-1zM515 439h1v1h-1zM516 439h1v1h-1zM517 440h1v1h-1zM518 440h1v1h-1zM519 440h1v1h-1zM520 440h1v1h-1zM521 441h1v1h-1zM522 441h1v1h-1zM523 441h1v1h-1zM524 441h1v1h-1zM525 441h1v1h-1zM526 441h1v1h-1zM527 441h1v1h-1zM528 441h1v1h-1zM529 441h1v1h-1zM530 441h1v1h-1zM531 441h1v1h-1zM532 442h1v2h-1zM533 444h1v2h-1zM534 446h1v2h-1zM535 448h1v1h-1zM536 449h1v2h-1zM537 451h1v2h-1zM538 453h1v2h-1zM539 455h1v1h-1zM540 454h1v1h-1zM541 454h1v1h-1zM542 453h1v1h-1zM543 453h1v1h-1zM544 452h1v1h-1zM545 452h1v1h-1zM546 451h1v1h-1zM547 451h1v1h-1zM548 451h1v1h-1zM549 450h1v1h-1zM550 450h1v1h-1zM551 450h1v1h-1zM552 450h1v1h-1zM553 449h1v1h-1zM554 449h1v1h-1zM555 449h1v1h-1zM556 450h1v1h-1zM557 451h1v1h-1zM558 452h1v1h-1zM559 453h1v1h-1zM560 454h1v1h-1zM561 455h1v1h-1zM562 456h1v1h-1zM563 457h1v2h-1zM564 459h1v3h-1zM565 462h1v3h-1zM566 465h1v3h-1zM567 468h1v3h-1zM568 471h1v3h-1zM569 474h1v3h-1zM570 477h1v3h-1zM571 480h1v2h-1zM572 482h1v2h-1zM573 484h1v2h-1zM574 486h1v2h-1zM575 488h1v1h-1zM576 489h1v2h-1zM577 491h1v2h-1zM578 493h1v2h-1zM579 495h1v1h-1zM580 496h1v1h-1zM581 497h1v2h-1zM582 499h1v1h-1zM583 500h1v1h-1zM584 501h1v1h-1zM585 502h1v2h-1zM586 504h1v1h-1zM587 505h1v1h-1zM588 506h1v1h-1zM589 507h1v2h-1zM590 509h1v1h-1zM591 510h1v1h-1zM592 511h1v1h-1zM593 512h1v2h-1zM594 514h1v1h-1zM595 515h1v1h-1zM596 516h1v2h-1zM597 518h1v2h-1zM598 520h1v1h-1zM599 521h1v2h-1zM600 523h1v1h-1zM601 524h1v2h-1zM602 526h1v2h-1zM603 528h1v1h-1zM604 529h1v1h-1zM605 530h1v1h-1zM606 531h1v1h-1zM607 532h1v1h-1zM608 532h1v1h-1zM609 533h1v1h-1zM610 534h1v1h-1zM611 535h1v1h-1zM612 536h1v1h-1zM613 537h1v1h-1zM614 537h1v1h-1zM615 538h1v1h-1zM616 539h1v1h-1zM617 540h1v1h-1zM618 540h1v1h-1zM619 541h1v1h-1zM620 542h1v1h-1zM621 543h1v1h-1zM622 543h1v1h-1zM623 544h1v1h-1zM624 545h1v1h-1zM625 546h1v1h-1zM626 546h1v1h-1zM627 547h1v1h-1zM628 547h1v1h-1zM629 547h1v1h-1zM630 547h1v1h-1zM631 548h1v1h-1zM632 548h1v1h-1zM633 548h1v1h-1zM634 548h1v1h-1zM635 548h1v1h-1zM636 548h1v1h-1zM637 548h1v1h-1zM638 548h1v1h-1zM639 547h1v1h-1zM640 547h1v1h-1zM641 547h1v1h-1zM642 547h1v1h-1zM643 547h1v1h-1zM644 547h1v1h-1zM645 547h1v1h-1zM646 547h1v1h-1zM647 546h1v1h-1zM648 546h1v1h-1zM649 546h1v1h-1zM650 546h1v1h-1zM651 546h1v1h-1zM652 546h1v1h-1zM653 546h1v1h-1zM654 546h1v1h-1zM655 546h1v1h-1zM656 546h1v1h-1zM657 546h1v1h-1zM658 546h1v1h-1zM659 546h1v1h-1zM660 546h1v1h-1zM661 545h1v1h-1zM662 545h1v1h-1zM663 545h1v1h-1zM664 545h1v1h-1zM665 544h1v1h-1zM666 544h1v1h-1zM667 544h1v1h-1zM668 544h1v1h-1zM669 543h1v1h-1zM670 543h1v1h-1zM671 542h1v1h-1zM672 542h1v1h-1zM673 542h1v1h-1zM674 541h1v1h-1zM675 541h1v1h-1zM676 540h1v1h-1zM677 540h1v1h-1zM678 539h1v1h-1zM679 539h1v1h-1zM680 538h1v1h-1zM681 538h1v1h-1zM682 537h1v1h-1zM683 537h1v1h-1zM684 536h1v1h-1zM685 535h1v1h-1zM686 535h1v1h-1zM687 534h1v1h-1zM688 533h1v1h-1zM689 532h1v1h-1zM690 532h1v1h-1zM691 531h1v1h-1zM692 532h1v1h-1zM693 533h1v1h-1zM694 533h1v1h-1zM695 534h1v1h-1zM696 535h1v1h-1zM697 536h1v1h-1zM698 536h1v1h-1zM699 537h1v1h-1zM700 537h1v1h-1zM701 536h1v1h-1zM702 536h1v1h-1zM703 536h1v1h-1zM704 536h1v1h-1zM705 535h1v1h-1zM706 535h1v1h-1zM707 535h1v1h-1zM708 535h1v1h-1zM709 535h1v1h-1zM710 535h1v1h-1zM711 534h1v1h-1zM712 534h1v1h-1zM713 534h1v1h-1zM714 534h1v1h-1zM715 534h1v1h-1zM716 535h1v1h-1zM717 535h1v1h-1zM718 536h1v1h-1zM719 536h1v1h-1zM720 537h1v1h-1zM721 537h1v1h-1zM722 538h1v1h-1zM723 538h1v1h-1zM724 537h1v1h-1zM725 536h1v1h-1zM726 536h1v1h-1zM727 535h1v1h-1zM728 534h1v1h-1zM729 533h1v1h-1zM730 533h1v1h-1zM731 532h1v1h-1zM732 533h1v2h-1zM733 535h1v2h-1zM734 537h1v2h-1zM735 539h1v2h-1zM736 541h1v2h-1zM737 543h1v2h-1zM738 545h1v2h-1zM739 547h1v1h-1zM740 547h1v1h-1zM741 547h1v1h-1zM742 547h1v1h-1zM743 546h1v1h-1zM744 546h1v1h-1zM745 546h1v1h-1zM746 546h1v1h-1zM747 546h1v1h-1zM748 546h1v1h-1zM749 546h1v1h-1zM750 546h1v1h-1zM751 546h1v1h-1zM752 546h1v1h-1zM753 546h1v1h-1zM754 546h1v1h-1zM755 546h1v1h-1zM756 546h1v1h-1zM757 546h1v1h-1zM758 546h1v1h-1zM759 545h1v1h-1zM760 545h1v1h-1zM761 545h1v1h-1zM762 545h1v1h-1zM763 545h1v1h-1zM764 545h1v1h-1zM765 545h1v1h-1zM766 545h1v1h-1zM767 544h1v1h-1zM768 544h1v1h-1zM769 544h1v1h-1zM770 544h1v1h-1zM771 544h1v1h-1zM772 544h1v1h-1zM773 543h1v1h-1zM774 543h1v1h-1zM775 543h1v1h-1zM776 543h1v1h-1zM777 542h1v1h-1zM778 542h1v1h-1zM779 542h1v1h-1zM780 541h1v1h-1zM781 539h1v2h-1zM782 538h1v1h-1zM783 537h1v1h-1zM784 536h1v1h-1zM785 534h1v2h-1zM786 533h1v1h-1zM787 532h1v1h-1zM788 531h1v1h-1zM789 531h1v1h-1zM790 530h1v1h-1zM791 529h1v1h-1zM792 529h1v1h-1zM793 528h1v1h-1zM794 528h1v1h-1zM795 527h1v1h-1zM796 527h1v1h-1zM797 526h1v1h-1zM798 526h1v1h-1zM799 525h1v1h-1zM800 525h1v1h-1zM801 525h1v1h-1zM802 524h1v1h-1zM803 524h1v1h-1zM804 523h1v1h-1zM805 522h1v1h-1zM806 521h1v1h-1zM807 520h1v1h-1zM808 520h1v1h-1zM809 519h1v1h-1zM810 518h1v1h-1zM811 517h1v1h-1zM812 516h1v1h-1zM813 515h1v1h-1zM814 514h1v1h-1zM815 513h1v1h-1zM816 513h1v1h-1zM817 512h1v1h-1zM818 511h1v1h-1zM819 510h1v1h-1zM820 508h1v2h-1zM821 506h1v2h-1zM822 504h1v2h-1zM823 502h1v2h-1zM824 500h1v2h-1zM825 498h1v2h-1zM826 496h1v2h-1zM827 495h1v1h-1zM828 493h1v2h-1zM829 491h1v2h-1zM830 489h1v2h-1zM831 487h1v2h-1zM832 485h1v2h-1zM833 483h1v2h-1zM834 481h1v2h-1zM835 480h1v1h-1zM836 478h1v2h-1zM837 477h1v1h-1zM838 476h1v1h-1zM839 474h1v2h-1zM840 473h1v1h-1zM841 472h1v1h-1zM842 470h1v2h-1zM843 469h1v1h-1zM844 467h1v2h-1zM845 465h1v2h-1zM846 463h1v2h-1zM847 462h1v1h-1zM848 460h1v2h-1zM849 458h1v2h-1zM850 456h1v2h-1zM851 453h1v3h-1zM852 447h1v6h-1zM853 441h1v6h-1zM854 435h1v6h-1zM855 430h1v5h-1zM856 424h1v6h-1zM857 418h1v6h-1zM858 412h1v6h-1zM859 408h1v4h-1zM860 404h1v4h-1zM861 400h1v4h-1zM862 396h1v4h-1zM863 393h1v3h-1zM864 389h1v4h-1zM865 385h1v4h-1zM866 381h1v4h-1zM867 377h1v4h-1zM868 373h1v4h-1zM869 369h1v4h-1zM870 365h1v4h-1zM871 361h1v4h-1zM872 357h1v4h-1zM873 353h1v4h-1zM874 349h1v4h-1zM875 345h1v4h-1zM876 342h1v3h-1zM877 340h1v2h-1zM878 337h1v3h-1zM879 334h1v3h-1zM880 331h1v3h-1zM881 329h1v2h-1zM882 326h1v3h-1zM883 322h1v4h-1zM884 318h1v4h-1zM885 314h1v4h-1zM886 310h1v4h-1zM887 305h1v5h-1zM888 301h1v4h-1zM889 297h1v4h-1zM890 293h1v4h-1zM891 290h1v3h-1zM892 290h1v1h-1zM893 289h1v1h-1zM894 289h1v1h-1zM895 288h1v1h-1zM896 288h1v1h-1zM897 288h1v1h-1zM898 287h1v1h-1zM899 286h1v2h-1zM900 284h1v2h-1zM901 282h1v2h-1zM902 280h1v2h-1zM903 277h1v3h-1zM904 275h1v2h-1zM905 273h1v2h-1zM906 271h1v2h-1zM907 269h1v2h-1zM908 267h1v2h-1zM909 265h1v2h-1zM910 264h1v1h-1zM911 262h1v2h-1zM912 261h1v1h-1zM913 259h1v2h-1zM914 257h1v2h-1zM915 256h1v1h-1zM916 255h1v1h-1zM917 254h1v1h-1zM918 254h1v1h-1zM919 253h1v1h-1zM920 252h1v1h-1zM921 251h1v1h-1zM922 251h1v1h-1zM923 250h1v1h-1zM924 249h1v1h-1zM925 248h1v1h-1zM926 248h1v1h-1zM927 247h1v1h-1zM928 246h1v1h-1zM929 245h1v1h-1zM930 245h1v1h-1zM931 244h1v1h-1zM932 243h1v1h-1zM933 243h1v1h-1zM934 242h1v1h-1zM935 241h1v1h-1zM936 241h1v1h-1zM937 240h1v1h-1zM938 240h1v1h-1zM939 239h1v1h-1zM940 238h1v1h-1zM941 237h1v1h-1zM942 237h1v1h-1zM943 236h1v1h-1zM944 235h1v1h-1zM945 234h1v1h-1zM946 234h1v1h-1zM947 233h1v1h-1zM948 232h1v1h-1zM949 231h1v1h-1zM950 230h1v1h-1zM951 229h1v1h-1zM952 228h1v1h-1zM953 227h1v1h-1zM954 226h1v1h-1zM955 225h1v1h-1zM956 224h1v1h-1zM957 223h1v1h-1zM958 222h1v1h-1zM959 221h1v1h-1zM960 221h1v1h-1zM961 220h1v1h-1zM962 219h1v1h-1zM963 218h1v1h-1zM964 217h1v1h-1zM965 216h1v1h-1zM966 216h1v1h-1zM967 215h1v1h-1zM968 214h1v1h-1zM969 213h1v1h-1zM970 213h1v1h-1zM971 212h1v1h-1zM972 211h1v1h-1zM973 211h1v1h-1zM974 210h1v1h-1zM975 209h1v1h-1zM976 209h1v1h-1zM977 208h1v1h-1zM978 208h1v1h-1zM979 207h1v1h-1zM980 206h1v1h-1zM981 205h1v1h-1zM982 204h1v1h-1zM983 203h1v1h-1zM984 202h1v1h-1zM985 201h1v1h-1zM986 200h1v1h-1zM987 199h1v1h-1zM988 197h1v2h-1zM989 195h1v2h-1zM990 194h1v1h-1zM991 192h1v2h-1zM992 191h1v1h-1zM993 189h1v2h-1zM994 187h1v2h-1zM995 186h1v1h-1zM996 184h1v2h-1zM997 182h1v2h-1zM998 181h1v1h-1zM999 179h1v2h-1zM1000 178h1v1h-1zM1001 176h1v2h-1zM1002 174h1v2h-1zM1003 173h1v1h-1zM1004 171h1v2h-1zM1005 170h1v1h-1zM1006 169h1v1h-1zM1007 167h1v2h-1zM1008 166h1v1h-1zM1009 165h1v1h-1zM1010 163h1v2h-1zM1011 162h1v1h-1zM1012 160h1v2h-1zM1013 158h1v2h-1zM1014 157h1v1h-1zM1015 155h1v2h-1zM1016 154h1v1h-1zM1017 152h1v2h-1zM1018 150h1v2h-1zM1019 149h1v1h-1zM1020 149h1v1h-1zM1021 149h1v1h-1zM1022 149h1v1h-1zM1023 148h1v1h-1zM1024 148h1v1h-1zM1025 148h1v1h-1zM1026 148h1v1h-1zM1027 148h1v1h-1zM1028 148h1v1h-1zM1029 149h1v1h-1zM1030 149h1v1h-1zM1031 149h1v1h-1zM1032 149h1v1h-1zM1033 150h1v1h-1zM1034 150h1v1h-1zM1035 150h1v1h-1zM1036 150h1v1h-1zM1037 151h1v1h-1zM1038 151h1v1h-1zM1039 151h1v1h-1zM1040 151h1v1h-1zM1041 152h1v1h-1zM1042 152h1v1h-1zM1043 152h1v1h-1zM1044 152h1v1h-1zM1045 153h1v1h-1zM1046 153h1v1h-1zM1047 154h1v1h-1zM1048 154h1v1h-1zM1049 154h1v1h-1zM1050 155h1v1h-1zM1051 155h1v1h-1zM1052 155h1v1h-1zM1053 155h1v1h-1zM1054 155h1v1h-1zM1055 155h1v1h-1zM1056 155h1v1h-1zM1057 155h1v1h-1zM1058 155h1v1h-1zM1059 155h1v1h-1zM1060 155h1v1h-1zM1061 155h1v1h-1zM1062 155h1v1h-1zM1063 155h1v1h-1zM1064 155h1v1h-1zM1065 155h1v1h-1zM1066 155h1v1h-1zM1067 155h1v1h-1zM1068 155h1v1h-1zM1069 155h1v1h-1zM1070 155h1v1h-1zM1071 155h1v1h-1zM1072 155h1v1h-1zM1073 155h1v1h-1zM1074 155h1v1h-1zM1075 155h1v1h-1zM1076 155h1v1h-1zM1077 155h1v1h-1zM1078 155h1v1h-1zM1079 155h1v1h-1zM1080 155h1v1h-1zM1081 155h1v1h-1zM1082 155h1v1h-1zM1083 155h1v1h-1zM1084 155h1v1h-1zM1085 155h1v1h-1zM1086 155h1v1h-1zM1087 155h1v1h-1zM1088 155h1v1h-1zM1089 155h1v1h-1zM1090 155h1v1h-1zM1091 155h1v1h-1zM1092 154h1v1h-1zM1093 153h1v1h-1zM1094 153h1v1h-1zM1095 152h1v1h-1zM1096 151h1v1h-1zM1097 150h1v1h-1zM1098 150h1v1h-1zM1099 149h1v1h-1zM1100 148h1v1h-1zM1101 148h1v1h-1zM1102 147h1v1h-1zM1103 147h1v1h-1zM1104 146h1v1h-1zM1105 146h1v1h-1zM1106 145h1v1h-1zM1107 145h1v1h-1zM1108 145h1v1h-1zM1109 144h1v1h-1zM1110 144h1v1h-1zM1111 143h1v1h-1zM1112 143h1v1h-1zM1113 143h1v1h-1zM1114 142h1v1h-1zM1115 142h1v1h-1zM1116 141h1v1h-1zM1117 140h1v1h-1zM1118 139h1v1h-1zM1119 138h1v1h-1zM1120 137h1v1h-1zM1121 136h1v1h-1zM1122 135h1v1h-1zM1123 134h1v1h-1zM1124 134h1v1h-1zM1125 133h1v1h-1zM1126 133h1v1h-1zM1127 132h1v1h-1zM1128 132h1v1h-1zM1129 132h1v1h-1zM1130 131h1v1h-1zM1131 131h1v1h-1zM1132 131h1v1h-1zM1133 130h1v1h-1zM1134 130h1v1h-1zM1135 130h1v1h-1zM1136 130h1v1h-1zM1137 129h1v1h-1zM1138 129h1v1h-1zM1139 129h1v1h-1zM1140 128h1v1h-1zM1141 128h1v1h-1zM1142 127h1v1h-1zM1143 127h1v1h-1zM1144 126h1v1h-1zM1145 126h1v1h-1zM1146 125h1v1h-1zM1147 125h1v1h-1zM1148 124h1v1h-1zM1149 124h1v1h-1zM1150 123h1v1h-1zM1151 122h1v1h-1zM1152 122h1v1h-1zM1153 121h1v1h-1zM1154 121h1v1h-1zM1155 120h1v1h-1zM1156 120h1v1h-1zM1157 121h1v1h-1zM1158 121h1v1h-1zM1159 122h1v1h-1zM1160 122h1v1h-1zM1161 122h1v1h-1zM1162 123h1v1h-1zM1163 123h1v1h-1zM1164 124h1v1h-1zM1165 125h1v2h-1zM1166 127h1v1h-1zM1167 128h1v1h-1zM1168 129h1v1h-1zM1169 130h1v2h-1zM1170 132h1v1h-1zM1171 133h1v1h-1zM1172 134h1v1h-1zM1173 134h1v1h-1zM1174 135h1v1h-1zM1175 136h1v1h-1zM1176 136h1v1h-1zM1177 137h1v1h-1zM1178 137h1v1h-1zM1179 138h1v1h-1zM1180 138h1v1h-1zM1181 138h1v1h-1zM1182 138h1v1h-1zM1183 139h1v1h-1zM1184 139h1v1h-1zM1185 139h1v1h-1zM1186 139h1v1h-1zM1187 139h1v1h-1zM1188 139h1v1h-1zM1189 140h1v1h-1zM1190 140h1v1h-1zM1191 140h1v1h-1zM1192 140h1v1h-1zM1193 141h1v1h-1zM1194 141h1v1h-1zM1195 141h1v1h-1zM1196 141h1v1h-1zM1197 141h1v1h-1zM1198 141h1v1h-1zM1199 142h1v1h-1zM1200 142h1v1h-1zM1201 142h1v1h-1zM1202 142h1v1h-1zM1203 142h1v1h-1zM1204 143h1v1h-1zM1205 143h1v1h-1zM1206 144h1v1h-1zM1207 144h1v1h-1zM1208 145h1v1h-1zM1209 145h1v1h-1zM1210 146h1v1h-1zM1211 146h1v1h-1zM1212 147h1v1h-1zM1213 147h1v1h-1zM1214 148h1v1h-1zM1215 148h1v1h-1zM1216 149h1v1h-1zM1217 149h1v1h-1zM1218 150h1v1h-1zM1219 150h1v1h-1zM1220 151h1v1h-1zM1221 152h1v1h-1zM1222 153h1v1h-1zM1223 154h1v2h-1zM1224 156h1v1h-1zM1225 157h1v1h-1zM1226 158h1v1h-1zM1227 159h1v1h-1zM1228 160h1v2h-1zM1229 162h1v2h-1zM1230 164h1v2h-1zM1231 166h1v2h-1zM1232 168h1v2h-1zM1233 170h1v2h-1zM1234 172h1v2h-1zM1235 174h1v1h-1zM1236 175h1v2h-1zM1237 177h1v1h-1zM1238 178h1v1h-1zM1239 179h1v2h-1zM1240 181h1v1h-1zM1241 182h1v1h-1zM1242 183h1v2h-1zM1243 185h1v1h-1zM1244 186h1v1h-1zM1245 187h1v1h-1zM1246 188h1v1h-1zM1247 189h1v1h-1zM1248 190h1v1h-1zM1249 191h1v1h-1zM1250 192h1v1h-1zM1251 193h1v2h-1zM1252 195h1v2h-1zM1253 197h1v3h-1zM1254 200h1v3h-1zM1255 203h1v2h-1zM1256 205h1v3h-1zM1257 208h1v3h-1zM1258 211h1v2h-1zM1259 213h1v2h-1zM1260 215h1v1h-1zM1261 216h1v1h-1zM1262 217h1v1h-1zM1263 218h1v1h-1zM1264 219h1v1h-1zM1265 220h1v1h-1zM1266 221h1v1h-1zM1267 222h1v1h-1zM1268 223h1v1h-1zM1269 223h1v1h-1zM1270 224h1v1h-1zM1271 225h1v1h-1zM1272 225h1v1h-1zM1273 226h1v1h-1zM1274 226h1v1h-1zM1275 227h1v1h-1zM1276 228h1v1h-1zM1277 228h1v1h-1zM1278 229h1v1h-1zM1279 230h1v1h-1zM1280 230h1v1h-1zM1281 231h1v1h-1zM1282 231h1v1h-1zM1283 232h1v1h-1z" fill="#3cb371" shape-rendering="crispEdges"/>
<g shape-rendering="crispEdges">
<rect x="3" y="174" width="1" height="24" fill="#000"/>
<rect x="1" y="183" width="5" height="10" fill="#000"/>
<rect x="11" y="183" width="1" height="20" fill="#000"/>
<rect x="9" y="190" width="5" height="4" fill="#000"/>
<rect x="19" y="191" width="1" height="21" fill="#000"/>
<rect x="17" y="192" width="5" height="10" fill="#000"/>
<rect x="27" y="186" width="1" height="19" fill="#000"/>
<rect x="25.5" y="191.5" width="4" height="11" fill="#fff" stroke="#000"/>
<rect x="35" y="182" width="1" height="23" fill="#000"/>
<rect x="33" y="191" width="5" height="1" fill="#000"/>
<rect x="43" y="184" width="1" height="23" fill="#000"/>
<rect x="41" y="191" width="5" height="14" fill="#000"/>
<rect x="51" y="198" width="1" height="23" fill="#000"/>
<rect x="49" y="203" width="5" height="8" fill="#000"/>
<rect x="59" y="200" width="1" height="15" fill="#000"/>
<rect x="57.5" y="204.5" width="4" height="6" fill="#fff" stroke="#000"/>
<rect x="67" y="196" width="1" height="31" fill="#000"/>
<rect x="65" y="204" width="5" height="13" fill="#000"/>
<rect x="75" y="212" width="1" height="13" fill="#000"/>
<rect x="73" y="215" width="5" height="7" fill="#000"/>
<rect x="83" y="205" width="1" height="24" fill="#000"/>
<rect x="81.5" y="205.5" width="4" height="17" fill="#fff" stroke="#000"/>
<rect x="91" y="183" width="1" height="29" fill="#000"/>
<rect x="89.5" y="191.5" width="4" height="14" fill="#fff" stroke="#000"/>
<rect x="99" y="185" width="1" height="14" fill="#000"/>
<rect x="97" y="192" width="5" height="1" fill="#000"/>
<rect x="107" y="186" width="1" height="16" fill="#000"/>
<rect x="105" y="191" width="5" height="10" fill="#000"/>
<rect x="115" y="173" width="1" height="28" fill="#000"/>
<rect x="113.5" y="194.5" width="4" height="4" fill="#fff" stroke="#000"/>
<rect x="123" y="189" width="1" height="10" fill="#000"/>
<rect x="121" y="193" width="5" height="3" fill="#000"/>
<rect x="131" y="190" width="1" height="25" fill="#000"/>
<rect x="129" y="194" width="5" height="21" fill="#000"/>
<rect x="139" y="206" width="1" height="51" fill="#000"/>
<rect x="137" y="213" width="5" height="35" fill="#000"/>
<rect x="147" y="243" width="1" height="28" fill="#000"/>
<rect x="145" y="246" width="5" height="6" fill="#000"/>
<rect x="155" y="228" width="1" height="27" fill="#000"/>
<rect x="153.5" y="230.5" width="4" height="21" fill="#fff" stroke="#000"/>
<rect x="163" y="227" width="1" height="21" fill="#000"/>
<rect x="161" y="230" width="5" height="11" fill="#000"/>
<rect x="171" y="233" width="1" height="24" fill="#000"/>
<rect x="169.5" y="233.5" width="4" height="7" fill="#fff" stroke="#000"/>
<rect x="179" y="226" width="1" height="19" fill="#000"/>
<rect x="177" y="233" width="5" height="1" fill="#000"/>
<rect x="187" y="217" width="1" height="34" fill="#000"/>
<rect x="185.5" y="218.5" width="4" height="16" fill="#fff" stroke="#000"/>
<rect x="195" y="203" width="1" height="19" fill="#000"/>
<rect x="193.5" y="213.5" width="4" height="6" fill="#fff" stroke="#000"/>
<rect x="203" y="201" width="1" height="19" fill="#000"/>
<rect x="201.5" y="208.5" width="4" height="11" fill="#fff" stroke="#000"/>
<rect x="211" y="208" width="1" height="25" fill="#000"/>
<rect x="209" y="208" width="5" height="21" fill="#000"/>
<rect x="219" y="219" width="1" height="17" fill="#000"/>
<rect x="217" y="227" width="5" height="4" fill="#000"/>
<rect x="227" y="225" width="1" height="14" fill="#000"/>
<rect x="225.5" y="228.5" width="4" height="2" fill="#fff" stroke="#000"/>
<rect x="235" y="218" width="1" height="22" fill="#000"/>
<rect x="233" y="227" width="5" height="7" fill="#000"/>
<rect x="243" y="225" width="1" height="14" fill="#000"/>
<rect x="241" y="232" width="5" height="3" fill="#000"/>
<rect x="251" y="225" width="1" height="13" fill="#000"/>
<rect x="249.5" y="229.5" width="4" height="5" fill="#fff" stroke="#000"/>
<rect x="259" y="219" width="1" height="17" fill="#000"/>
<rect x="257.5" y="228.5" width="4" height="2" fill="#fff" stroke="#000"/>
<rect x="267" y="223" width="1" height="13" fill="#000"/>
<rect x="265" y="227" width="5" height="4" fill="#000"/>
<rect x="275" y="225" width="1" height="9" fill="#000"/>
<rect x="273.5" y="228.5" width="4" height="2" fill="#fff" stroke="#000"/>
<rect x="283" y="223" width="1" height="21" fill="#000"/>
<rect x="281" y="228" width="5" height="12" fill="#000"/>
<rect x="291" y="225" width="1" height="18" fill="#000"/>
<rect x="289.5" y="231.5" width="4" height="8" fill="#fff" stroke="#000"/>
<rect x="299" y="229" width="1" height="10" fill="#000"/>
<rect x="297" y="231" width="5" height="8" fill="#000"/>
<rect x="307" y="226" width="1" height="10" fill="#000"/>
<rect x="305" y="231" width="5" height="4" fill="#000"/>
<rect x="315" y="194" width="1" height="42" fill="#000"/>
<rect x="313.5" y="199.5" width="4" height="33" fill="#fff" stroke="#000"/>
<rect x="323" y="195" width="1" height="8" fill="#000"/>
<rect x="321" y="199" width="5" height="1" fill="#000"/>
<rect x="331" y="191" width="1" height="12" fill="#000"/>
<rect x="329.5" y="192.5" width="4" height="7" fill="#fff" stroke="#000"/>
<rect x="339" y="181" width="1" height="15" fill="#000"/>
<rect x="337.5" y="182.5" width="4" height="10" fill="#fff" stroke="#000"/>
<rect x="347" y="172" width="1" height="17" fill="#000"/>
<rect x="345.5" y="178.5" width="4" height="3" fill="#fff" stroke="#000"/>
<rect x="355" y="177" width="1" height="28" fill="#000"/>
<rect x="353" y="178" width="5" height="27" fill="#000"/>
<rect x="363" y="199" width="1" height="24" fill="#000"/>
<rect x="361" y="202" width="5" height="16" fill="#000"/>
<rect x="371" y="203" width="1" height="16" fill="#000"/>
<rect x="369.5" y="207.5" width="4" height="11" fill="#fff" stroke="#000"/>
<rect x="379" y="205" width="1" height="13" fill="#000"/>
<rect x="377" y="207" width="5" height="5" fill="#000"/>
<rect x="387" y="190" width="1" height="31" fill="#000"/>
<rect x="385.5" y="192.5" width="4" height="19" fill="#fff" stroke="#000"/>
<rect x="395" y="191" width="1" height="38" fill="#000"/>
<rect x="393" y="192" width="5" height="37" fill="#000"/>
<rect x="403" y="216" width="1" height="9" fill="#000"/>
<rect x="401" y="221" width="5" height="1" fill="#000"/>
<rect x="411" y="217" width="1" height="77" fill="#000"/>
<rect x="409" y="220" width="5" height="57" fill="#000"/>
<rect x="419" y="268" width="1" height="18" fill="#000"/>
<rect x="417" y="276" width="5" height="1" fill="#000"/>
<rect x="427" y="269" width="1" height="17" fill="#000"/>
<rect x="425" y="275" width="5" height="3" fill="#000"/>
<rect x="435" y="260" width="1" height="91" fill="#000"/>
<rect x="433" y="274" width="5" height="34" fill="#000"/>
<rect x="443" y="306" width="1" height="36" fill="#000"/>
<rect x="441" y="306" width="5" height="34" fill="#000"/>
<rect x="451" y="328" width="1" height="16" fill="#000"/>
<rect x="449.5" y="329.5" width="4" height="9" fill="#fff" stroke="#000"/>
<rect x="459" y="328" width="1" height="51" fill="#000"/>
<rect x="457" y="330" width="5" height="38" fill="#000"/>
<rect x="467" y="361" width="1" height="13" fill="#000"/>
<rect x="465" y="366" width="5" height="7" fill="#000"/>
<rect x="475" y="368" width="1" height="35" fill="#000"/>
<rect x="473" y="371" width="5" height="20" fill="#000"/>
<rect x="483" y="365" width="1" height="44" fill="#000"/>
<rect x="481.5" y="370.5" width="4" height="19" fill="#fff" stroke="#000"/>
<rect x="491" y="351" width="1" height="37" fill="#000"/>
<rect x="489" y="369" width="5" height="8" fill="#000"/>
<rect x="499" y="368" width="1" height="23" fill="#000"/>
<rect x="497" y="374" width="5" height="11" fill="#000"/>
<rect x="507" y="359" width="1" height="25" fill="#000"/>
<rect x="505.5" y="359.5" width="4" height="10" fill="#fff" stroke="#000"/>
<rect x="515" y="356" width="1" height="21" fill="#000"/>
<rect x="513" y="358" width="5" height="5" fill="#000"/>
<rect x="523" y="343" width="1" height="23" fill="#000"/>
<rect x="521.5" y="347.5" width="4" height="16" fill="#fff" stroke="#000"/>
<rect x="531" y="331" width="1" height="20" fill="#000"/>
<rect x="529" y="346" width="5" height="5" fill="#000"/>
<rect x="539" y="342" width="1" height="116" fill="#000"/>
<rect x="537" y="349" width="5" height="99" fill="#000"/>
<rect x="547" y="388" width="1" height="60" fill="#000"/>
<rect x="545.5" y="392.5" width="4" height="55" fill="#fff" stroke="#000"/>
<rect x="555" y="376" width="1" height="27" fill="#000"/>
<rect x="553" y="392" width="5" height="1" fill="#000"/>
<rect x="563" y="389" width="1" height="110" fill="#000"/>
<rect x="561" y="393" width="5" height="72" fill="#000"/>
<rect x="571" y="454" width="1" height="62" fill="#000"/>
<rect x="569" y="462" width="5" height="48" fill="#000"/>
<rect x="579" y="472" width="1" height="43" fill="#000"/>
<rect x="577.5" y="492.5" width="4" height="16" fill="#fff" stroke="#000"/>
<rect x="587" y="446" width="1" height="53" fill="#000"/>
<rect x="585" y="491" width="5" height="1" fill="#000"/>
<rect x="595" y="481" width="1" height="49" fill="#000"/>
<rect x="593" y="492" width="5" height="4" fill="#000"/>
<rect x="603" y="502" width="1" height="41" fill="#000"/>
<rect x="601.5" y="504.5" width="4" height="32" fill="#fff" stroke="#000"/>
<rect x="611" y="475" width="1" height="41" fill="#000"/>
<rect x="609.5" y="488.5" width="4" height="16" fill="#fff" stroke="#000"/>
<rect x="619" y="464" width="1" height="42" fill="#000"/>
<rect x="617.5" y="478.5" width="4" height="10" fill="#fff" stroke="#000"/>
<rect x="627" y="472" width="1" height="41" fill="#000"/>
<rect x="625" y="476" width="5" height="11" fill="#000"/>
<rect x="635" y="427" width="1" height="65" fill="#000"/>
<rect x="633.5" y="436.5" width="4" height="49" fill="#fff" stroke="#000"/>
<rect x="643" y="400" width="1" height="43" fill="#000"/>
<rect x="641.5" y="410.5" width="4" height="26" fill="#fff" stroke="#000"/>
<rect x="651" y="409" width="1" height="20" fill="#000"/>
<rect x="649" y="410" width="5" height="9" fill="#000"/>
<rect x="659" y="402" width="1" height="25" fill="#000"/>
<rect x="657.5" y="408.5" width="4" height="11" fill="#fff" stroke="#000"/>
<rect x="667" y="400" width="1" height="49" fill="#000"/>
<rect x="665" y="406" width="5" height="31" fill="#000"/>
<rect x="675" y="401" width="1" height="39" fill="#000"/>
<rect x="673.5" y="422.5" width="4" height="14" fill="#fff" stroke="#000"/>
<rect x="683" y="376" width="1" height="61" fill="#000"/>
<rect x="681.5" y="381.5" width="4" height="41" fill="#fff" stroke="#000"/>
<rect x="691" y="377" width="1" height="23" fill="#000"/>
<rect x="689" y="380" width="5" height="17" fill="#000"/>
<rect x="699" y="391" width="1" height="142" fill="#000"/>
<rect x="697" y="396" width="5" height="104" fill="#000"/>
<rect x="707" y="409" width="1" height="158" fill="#000"/>
<rect x="705.5" y="428.5" width="4" height="70" fill="#fff" stroke="#000"/>
<rect x="715" y="407" width="1" height="39" fill="#000"/>
<rect x="713.5" y="417.5" width="4" height="11" fill="#fff" stroke="#000"/>
<rect x="723" y="349" width="1" height="74" fill="#000"/>
<rect x="721.5" y="359.5" width="4" height="57" fill="#fff" stroke="#000"/>
<rect x="731" y="340" width="1" height="41" fill="#000"/>
<rect x="729" y="358" width="5" height="22" fill="#000"/>
<rect x="739" y="259" width="1" height="120" fill="#000"/>
<rect x="737.5" y="261.5" width="4" height="117" fill="#fff" stroke="#000"/>
<rect x="747" y="260" width="1" height="46" fill="#000"/>
<rect x="745" y="261" width="5" height="38" fill="#000"/>
<rect x="755" y="255" width="1" height="46" fill="#000"/>
<rect x="753.5" y="268.5" width="4" height="30" fill="#fff" stroke="#000"/>
<rect x="763" y="235" width="1" height="36" fill="#000"/>
<rect x="761.5" y="236.5" width="4" height="33" fill="#fff" stroke="#000"/>
<rect x="771" y="210" width="1" height="44" fill="#000"/>
<rect x="769.5" y="217.5" width="4" height="20" fill="#fff" stroke="#000"/>
<rect x="779" y="192" width="1" height="53" fill="#000"/>
<rect x="777.5" y="200.5" width="4" height="18" fill="#fff" stroke="#000"/>
<rect x="787" y="196" width="1" height="34" fill="#000"/>
<rect x="785" y="200" width="5" height="8" fill="#000"/>
<rect x="795" y="201" width="1" height="14" fill="#000"/>
<rect x="793" y="206" width="5" height="5" fill="#000"/>
<rect x="803" y="192" width="1" height="25" fill="#000"/>
<rect x="801.5" y="202.5" width="4" height="7" fill="#fff" stroke="#000"/>
<rect x="811" y="188" width="1" height="17" fill="#000"/>
<rect x="809.5" y="194.5" width="4" height="9" fill="#fff" stroke="#000"/>
<rect x="819" y="178" width="1" height="21" fill="#000"/>
<rect x="817.5" y="184.5" width="4" height="10" fill="#fff" stroke="#000"/>
<rect x="827" y="172" width="1" height="37" fill="#000"/>
<rect x="825" y="185" width="5" height="13" fill="#000"/>
<rect x="835" y="194" width="1" height="29" fill="#000"/>
<rect x="833" y="196" width="5" height="10" fill="#000"/>
<rect x="843" y="191" width="1" height="12" fill="#000"/>
<rect x="841.5" y="199.5" width="4" height="3" fill="#fff" stroke="#000"/>
<rect x="851" y="182" width="1" height="21" fill="#000"/>
<rect x="849.5" y="186.5" width="4" height="14" fill="#fff" stroke="#000"/>
<rect x="859" y="179" width="1" height="9" fill="#000"/>
<rect x="857.5" y="184.5" width="4" height="3" fill="#fff" stroke="#000"/>
<rect x="867" y="126" width="1" height="60" fill="#000"/>
<rect x="865.5" y="142.5" width="4" height="43" fill="#fff" stroke="#000"/>
<rect x="875" y="123" width="1" height="29" fill="#000"/>
<rect x="873.5" y="126.5" width="4" height="16" fill="#fff" stroke="#000"/>
<rect x="883" y="122" width="1" height="21" fill="#000"/>
<rect x="881" y="126" width="5" height="1" fill="#000"/>
<rect x="891" y="106" width="1" height="28" fill="#000"/>
<rect x="889.5" y="109.5" width="4" height="18" fill="#fff" stroke="#000"/>
<rect x="899" y="70" width="1" height="44" fill="#000"/>
<rect x="897.5" y="96.5" width="4" height="15" fill="#fff" stroke="#000"/>
<rect x="907" y="86" width="1" height="34" fill="#000"/>
<rect x="905" y="96" width="5" height="21" fill="#000"/>
<rect x="915" y="99" width="1" height="37" fill="#000"/>
<rect x="913" y="116" width="5" height="1" fill="#000"/>
<rect x="923" y="89" width="1" height="38" fill="#000"/>
<rect x="921.5" y="102.5" width="4" height="14" fill="#fff" stroke="#000"/>
<rect x="931" y="89" width="1" height="52" fill="#000"/>
<rect x="929" y="102" width="5" height="13" fill="#000"/>
<rect x="939" y="110" width="1" height="39" fill="#000"/>
<rect x="937" y="112" width="5" height="31" fill="#000"/>
<rect x="947" y="116" width="1" height="23" fill="#000"/>
<rect x="945.5" y="132.5" width="4" height="6" fill="#fff" stroke="#000"/>
<rect x="955" y="121" width="1" height="18" fill="#000"/>
<rect x="953.5" y="127.5" width="4" height="5" fill="#fff" stroke="#000"/>
<rect x="963" y="121" width="1" height="24" fill="#000"/>
<rect x="961" y="129" width="5" height="14" fill="#000"/>
<rect x="971" y="112" width="1" height="42" fill="#000"/>
<rect x="969.5" y="114.5" width="4" height="28" fill="#fff" stroke="#000"/>
<rect x="979" y="111" width="1" height="30" fill="#000"/>
<rect x="977" y="114" width="5" height="15" fill="#000"/>
<rect x="987" y="126" width="1" height="16" fill="#000"/>
<rect x="985" y="127" width="5" height="9" fill="#000"/>
<rect x="995" y="113" width="1" height="24" fill="#000"/>
<rect x="993.5" y="124.5" width="4" height="11" fill="#fff" stroke="#000"/>
<rect x="1003" y="115" width="1" height="14" fill="#000"/>
<rect x="1001.5" y="117.5" width="4" height="7" fill="#fff" stroke="#000"/>
<rect x="1011" y="99" width="1" height="23" fill="#000"/>
<rect x="1009" y="117" width="5" height="1" fill="#000"/>
<rect x="1019" y="84" width="1" height="43" fill="#000"/>
<rect x="1017.5" y="90.5" width="4" height="27" fill="#fff" stroke="#000"/>
<rect x="1027" y="77" width="1" height="14" fill="#000"/>
<rect x="1025" y="87" width="5" height="3" fill="#000"/>
<rect x="1035" y="65" width="1" height="23" fill="#000"/>
<rect x="1033.5" y="76.5" width="4" height="11" fill="#fff" stroke="#000"/>
<rect x="1043" y="55" width="1" height="29" fill="#000"/>
<rect x="1041.5" y="70.5" width="4" height="8" fill="#fff" stroke="#000"/>
<rect x="1051" y="62" width="1" height="16" fill="#000"/>
<rect x="1049" y="70" width="5" height="1" fill="#000"/>
<rect x="1059" y="65" width="1" height="32" fill="#000"/>
<rect x="1057" y="70" width="5" height="14" fill="#000"/>
<rect x="1067" y="70" width="1" height="34" fill="#000"/>
<rect x="1065.5" y="80.5" width="4" height="2" fill="#fff" stroke="#000"/>
<rect x="1075" y="72" width="1" height="20" fill="#000"/>
<rect x="1073" y="79" width="5" height="6" fill="#000"/>
<rect x="1083" y="75" width="1" height="14" fill="#000"/>
<rect x="1081.5" y="75.5" width="4" height="12" fill="#fff" stroke="#000"/>
<rect x="1091" y="69" width="1" height="14" fill="#000"/>
<rect x="1089" y="75" width="5" height="1" fill="#000"/>
<rect x="1099" y="73" width="1" height="17" fill="#000"/>
<rect x="1097" y="75" width="5" height="15" fill="#000"/>
<rect x="1107" y="74" width="1" height="17" fill="#000"/>
<rect x="1105.5" y="75.5" width="4" height="12" fill="#fff" stroke="#000"/>
<rect x="1115" y="73" width="1" height="13" fill="#000"/>
<rect x="1113" y="75" width="5" height="8" fill="#000"/>
<rect x="1123" y="75" width="1" height="9" fill="#000"/>
<rect x="1121" y="82" width="5" height="1" fill="#000"/>
<rect x="1131" y="75" width="1" height="10" fill="#000"/>
<rect x="1129.5" y="79.5" width="4" height="3" fill="#fff" stroke="#000"/>
<rect x="1139" y="68" width="1" height="65" fill="#000"/>
<rect x="1137" y="77" width="5" height="42" fill="#000"/>
<rect x="1147" y="107" width="1" height="28" fill="#000"/>
<rect x="1145.5" y="115.5" width="4" height="3" fill="#fff" stroke="#000"/>
<rect x="1155" y="96" width="1" height="33" fill="#000"/>
<rect x="1153.5" y="100.5" width="4" height="16" fill="#fff" stroke="#000"/>
<rect x="1163" y="88" width="1" height="51" fill="#000"/>
<rect x="1161" y="101" width="5" height="30" fill="#000"/>
<rect x="1171" y="116" width="1" height="43" fill="#000"/>
<rect x="1169" y="129" width="5" height="25" fill="#000"/>
<rect x="1179" y="124" width="1" height="31" fill="#000"/>
<rect x="1177.5" y="128.5" width="4" height="25" fill="#fff" stroke="#000"/>
<rect x="1187" y="92" width="1" height="47" fill="#000"/>
<rect x="1185.5" y="106.5" width="4" height="22" fill="#fff" stroke="#000"/>
<rect x="1195" y="99" width="1" height="19" fill="#000"/>
<rect x="1193" y="106" width="5" height="6" fill="#000"/>
<rect x="1203" y="110" width="1" height="16" fill="#000"/>
<rect x="1201" y="110" width="5" height="4" fill="#000"/>
<rect x="1211" y="111" width="1" height="35" fill="#000"/>
<rect x="1209" y="112" width="5" height="19" fill="#000"/>
<rect x="1219" y="123" width="1" height="19" fill="#000"/>
<rect x="1217" y="129" width="5" height="6" fill="#000"/>
<rect x="1227" y="132" width="1" height="35" fill="#000"/>
<rect x="1225" y="133" width="5" height="31" fill="#000"/>
<rect x="1235" y="157" width="1" height="35" fill="#000"/>
<rect x="1233" y="162" width="5" height="27" fill="#000"/>
<rect x="1243" y="182" width="1" height="27" fill="#000"/>
<rect x="1241" y="187" width="5" height="1" fill="#000"/>
<rect x="1251" y="181" width="1" height="30" fill="#000"/>
<rect x="1249.5" y="182.5" width="4" height="6" fill="#fff" stroke="#000"/>
<rect x="1259" y="180" width="1" height="66" fill="#000"/>
<rect x="1257" y="182" width="5" height="53" fill="#000"/>
<rect x="1267" y="201" width="1" height="54" fill="#000"/>
<rect x="1265.5" y="204.5" width="4" height="28" fill="#fff" stroke="#000"/>
<rect x="1275" y="194" width="1" height="24" fill="#000"/>
<rect x="1273.5" y="196.5" width="4" height="9" fill="#fff" stroke="#000"/>
<rect x="1283" y="193" width="1" height="15" fill="#000"/>
<rect x="1281" y="196" width="5" height="4" fill="#000"/>
</g>
<rect x="1219" y="166" width="111" height="14" fill="#00ff00" shape-rendering="crispEdges"/>
<g shape-rendering="crispEdges"><rect x="1380" y="171" width="7" height="1" fill="#ff0000"/><rect x="1387.5" y="169.5" width="2" height="3" fill="#fff" stroke="#ff0000"/>
<rect x="1390.5" y="155.5" width="99" height="32" fill="#fff" stroke="#ff0000"/></g>
<text x="1392" y="182" font-family="Liberation Sans, sans-serif" font-size="28.5" letter-spacing="-0.9" fill="#ff0000">109.682</text>
<text x="1398.5" y="269" font-family="Noto Sans CJK SC, sans-serif" font-weight="400" font-size="31.5" letter-spacing="1.2" fill="#00ff00" style="text-shadow:1px 1px 0 #003000">多空转折点</text>
<polygon points="1291,28 1301,28 1296,33" fill="#a0a0a0"/>
<g shape-rendering="crispEdges" fill="#c0c0c0">
<rect x="3" y="621" width="1" height="55"/>
<rect x="11" y="622" width="1" height="54"/>
<rect x="19" y="623" width="1" height="53"/>
<rect x="27" y="624" width="1" height="52"/>
<rect x="35" y="625" width="1" height="51"/>
<rect x="43" y="628" width="1" height="48"/>
<rect x="51" y="632" width="1" height="44"/>
<rect x="59" y="634" width="1" height="42"/>
<rect x="67" y="638" width="1" height="38"/>
<rect x="75" y="642" width="1" height="34"/>
<rect x="83" y="644" width="1" height="32"/>
<rect x="91" y="644" width="1" height="32"/>
<rect x="99" y="645" width="1" height="31"/>
<rect x="107" y="646" width="1" height="30"/>
<rect x="115" y="647" width="1" height="29"/>
<rect x="123" y="649" width="1" height="27"/>
<rect x="131" y="652" width="1" height="24"/>
<rect x="139" y="659" width="1" height="17"/>
<rect x="147" y="664" width="1" height="12"/>
<rect x="155" y="667" width="1" height="9"/>
<rect x="163" y="670" width="1" height="6"/>
<rect x="171" y="672" width="1" height="4"/>
<rect x="179" y="673" width="1" height="3"/>
<rect x="187" y="673" width="1" height="3"/>
<rect x="195" y="672" width="1" height="4"/>
<rect x="203" y="670" width="1" height="6"/>
<rect x="211" y="672" width="1" height="4"/>
<rect x="219" y="673" width="1" height="3"/>
<rect x="227" y="674" width="1" height="2"/>
<rect x="235" y="675" width="1" height="1"/>
<rect x="243" y="676" width="1" height="1"/>
<rect x="251" y="676" width="1" height="1"/>
<rect x="259" y="676" width="1" height="1"/>
<rect x="267" y="676" width="1" height="1"/>
<rect x="275" y="676" width="1" height="1"/>
<rect x="283" y="676" width="1" height="2"/>
<rect x="291" y="676" width="1" height="2"/>
<rect x="299" y="676" width="1" height="3"/>
<rect x="307" y="676" width="1" height="3"/>
<rect x="315" y="675" width="1" height="1"/>
<rect x="323" y="672" width="1" height="4"/>
<rect x="331" y="669" width="1" height="7"/>
<rect x="339" y="666" width="1" height="10"/>
<rect x="347" y="663" width="1" height="13"/>
<rect x="355" y="663" width="1" height="13"/>
<rect x="363" y="665" width="1" height="11"/>
<rect x="371" y="666" width="1" height="10"/>
<rect x="379" y="667" width="1" height="9"/>
<rect x="387" y="666" width="1" height="10"/>
<rect x="395" y="669" width="1" height="7"/>
<rect x="403" y="671" width="1" height="5"/>
<rect x="411" y="676" width="1" height="3"/>
<rect x="419" y="676" width="1" height="9"/>
<rect x="427" y="676" width="1" height="13"/>
<rect x="435" y="676" width="1" height="20"/>
<rect x="443" y="676" width="1" height="29"/>
<rect x="451" y="676" width="1" height="34"/>
<rect x="459" y="676" width="1" height="42"/>
<rect x="467" y="676" width="1" height="49"/>
<rect x="475" y="676" width="1" height="55"/>
<rect x="483" y="676" width="1" height="57"/>
<rect x="491" y="676" width="1" height="59"/>
<rect x="499" y="676" width="1" height="61"/>
<rect x="507" y="676" width="1" height="58"/>
<rect x="515" y="676" width="1" height="56"/>
<rect x="523" y="676" width="1" height="52"/>
<rect x="531" y="676" width="1" height="49"/>
<rect x="539" y="676" width="1" height="57"/>
<rect x="547" y="676" width="1" height="56"/>
<rect x="555" y="676" width="1" height="55"/>
<rect x="563" y="676" width="1" height="61"/>
<rect x="571" y="676" width="1" height="70"/>
<rect x="579" y="676" width="1" height="75"/>
<rect x="587" y="676" width="1" height="78"/>
<rect x="595" y="676" width="1" height="79"/>
<rect x="603" y="676" width="1" height="81"/>
<rect x="611" y="676" width="1" height="79"/>
<rect x="619" y="676" width="1" height="76"/>
<rect x="627" y="676" width="1" height="73"/>
<rect x="635" y="676" width="1" height="65"/>
<rect x="643" y="676" width="1" height="55"/>
<rect x="651" y="676" width="1" height="47"/>
<rect x="659" y="676" width="1" height="39"/>
<rect x="667" y="676" width="1" height="36"/>
<rect x="675" y="676" width="1" height="31"/>
<rect x="683" y="676" width="1" height="23"/>
<rect x="691" y="676" width="1" height="17"/>
<rect x="699" y="676" width="1" height="25"/>
<rect x="707" y="676" width="1" height="22"/>
<rect x="715" y="676" width="1" height="19"/>
<rect x="723" y="676" width="1" height="9"/>
<rect x="731" y="676" width="1" height="4"/>
<rect x="739" y="662" width="1" height="14"/>
<rect x="747" y="653" width="1" height="23"/>
<rect x="755" y="643" width="1" height="33"/>
<rect x="763" y="632" width="1" height="44"/>
<rect x="771" y="621" width="1" height="55"/>
<rect x="779" y="612" width="1" height="64"/>
<rect x="787" y="606" width="1" height="70"/>
<rect x="795" y="602" width="1" height="74"/>
<rect x="803" y="599" width="1" height="77"/>
<rect x="811" y="597" width="1" height="79"/>
<rect x="819" y="595" width="1" height="81"/>
<rect x="827" y="596" width="1" height="80"/>
<rect x="835" y="599" width="1" height="77"/>
<rect x="843" y="601" width="1" height="75"/>
<rect x="851" y="602" width="1" height="74"/>
<rect x="859" y="603" width="1" height="73"/>
<rect x="867" y="600" width="1" height="76"/>
<rect x="875" y="597" width="1" height="79"/>
<rect x="883" y="596" width="1" height="80"/>
<rect x="891" y="594" width="1" height="82"/>
<rect x="899" y="592" width="1" height="84"/>
<rect x="907" y="593" width="1" height="83"/>
<rect x="915" y="595" width="1" height="81"/>
<rect x="923" y="596" width="1" height="80"/>
<rect x="931" y="599" width="1" height="77"/>
<rect x="939" y="606" width="1" height="70"/>
<rect x="947" y="610" width="1" height="66"/>
<rect x="955" y="614" width="1" height="62"/>
<rect x="963" y="620" width="1" height="56"/>
<rect x="971" y="621" width="1" height="55"/>
<rect x="979" y="625" width="1" height="51"/>
<rect x="987" y="629" width="1" height="47"/>
<rect x="995" y="632" width="1" height="44"/>
<rect x="1003" y="633" width="1" height="43"/>
<rect x="1011" y="635" width="1" height="41"/>
<rect x="1019" y="634" width="1" height="42"/>
<rect x="1027" y="633" width="1" height="43"/>
<rect x="1035" y="632" width="1" height="44"/>
<rect x="1043" y="631" width="1" height="45"/>
<rect x="1051" y="631" width="1" height="45"/>
<rect x="1059" y="632" width="1" height="44"/>
<rect x="1067" y="634" width="1" height="42"/>
<rect x="1075" y="636" width="1" height="40"/>
<rect x="1083" y="637" width="1" height="39"/>
<rect x="1091" y="638" width="1" height="38"/>
<rect x="1099" y="641" width="1" height="35"/>
<rect x="1107" y="642" width="1" height="34"/>
<rect x="1115" y="644" width="1" height="32"/>
<rect x="1123" y="646" width="1" height="30"/>
<rect x="1131" y="648" width="1" height="28"/>
<rect x="1139" y="654" width="1" height="22"/>
<rect x="1147" y="658" width="1" height="18"/>
<rect x="1155" y="660" width="1" height="16"/>
<rect x="1163" y="666" width="1" height="10"/>
<rect x="1171" y="672" width="1" height="4"/>
<rect x="1179" y="675" width="1" height="1"/>
<rect x="1187" y="674" width="1" height="2"/>
<rect x="1195" y="674" width="1" height="2"/>
<rect x="1203" y="675" width="1" height="1"/>
<rect x="1211" y="676" width="1" height="1"/>
<rect x="1219" y="676" width="1" height="3"/>
<rect x="1227" y="676" width="1" height="8"/>
<rect x="1235" y="676" width="1" height="15"/>
<rect x="1243" y="676" width="1" height="20"/>
<rect x="1251" y="676" width="1" height="23"/>
<rect x="1259" y="676" width="1" height="31"/>
<rect x="1267" y="676" width="1" height="33"/>
<rect x="1275" y="676" width="1" height="34"/>
<rect x="1283" y="676" width="1" height="34"/>
</g>
<path d="M3 621h1v1h-1zM4 621h1v1h-1zM5 621h1v1h-1zM9 621h1v1h-1zM10 621h1v1h-1zM11 621h1v1h-1zM15 622h1v1h-1zM16 622h1v1h-1zM17 622h1v1h-1zM21 622h1v1h-1zM22 622h1v1h-1zM23 622h1v1h-1zM27 622h1v1h-1zM28 622h1v1h-1zM29 622h1v1h-1zM33 622h1v1h-1zM34 622h1v1h-1zM35 622h1v1h-1zM39 622h1v1h-1zM40 622h1v1h-1zM41 622h1v1h-1zM45 623h1v1h-1zM46 623h1v1h-1zM47 623h1v1h-1zM51 624h1v1h-1zM52 624h1v1h-1zM53 624h1v1h-1zM57 624h1v1h-1zM58 624h1v1h-1zM59 624h1v1h-1zM63 626h1v1h-1zM64 626h1v1h-1zM65 626h1v1h-1zM69 628h1v1h-1zM70 628h1v1h-1zM71 629h1v1h-1zM75 630h1v1h-1zM76 630h1v1h-1zM77 631h1v1h-1zM81 632h1v1h-1zM82 632h1v1h-1zM83 632h1v1h-1zM87 634h1v1h-1zM88 634h1v1h-1zM89 634h1v1h-1zM93 636h1v1h-1zM94 636h1v1h-1zM95 636h1v1h-1zM99 637h1v1h-1zM100 637h1v1h-1zM101 638h1v1h-1zM105 639h1v1h-1zM106 639h1v1h-1zM107 639h1v1h-1zM111 640h1v1h-1zM112 640h1v1h-1zM113 641h1v1h-1zM117 642h1v1h-1zM118 642h1v1h-1zM119 642h1v1h-1zM123 643h1v1h-1zM124 643h1v1h-1zM125 644h1v1h-1zM129 645h1v1h-1zM130 645h1v1h-1zM131 645h1v1h-1zM135 647h1v1h-1zM136 647h1v1h-1zM137 647h1v1h-1zM141 649h1v1h-1zM142 649h1v1h-1zM143 649h1v1h-1zM147 650h1v1h-1zM148 650h1v1h-1zM149 651h1v1h-1zM153 652h1v1h-1zM154 653h1v1h-1zM155 653h1v1h-1zM159 654h1v1h-1zM160 654h1v1h-1zM161 655h1v1h-1zM165 656h1v1h-1zM166 656h1v1h-1zM167 657h1v1h-1zM171 658h1v1h-1zM172 658h1v1h-1zM173 659h1v1h-1zM177 660h1v1h-1zM178 661h1v1h-1zM179 661h1v1h-1zM183 663h1v1h-1zM184 663h1v1h-1zM185 663h1v1h-1zM189 665h1v1h-1zM190 665h1v1h-1zM191 666h1v1h-1zM195 667h1v1h-1zM196 667h1v1h-1zM197 668h1v1h-1zM201 669h1v1h-1zM202 669h1v1h-1zM203 669h1v1h-1zM207 670h1v1h-1zM208 670h1v1h-1zM209 670h1v1h-1zM213 670h1v1h-1zM214 670h1v1h-1zM215 671h1v1h-1zM219 671h1v1h-1zM220 671h1v1h-1zM221 671h1v1h-1zM225 672h1v1h-1zM226 672h1v1h-1zM227 672h1v1h-1zM231 672h1v1h-1zM232 672h1v1h-1zM233 672h1v1h-1zM237 672h1v1h-1zM238 672h1v1h-1zM239 673h1v1h-1zM243 673h1v1h-1zM244 673h1v1h-1zM245 673h1v1h-1zM249 673h1v1h-1zM250 673h1v1h-1zM251 673h1v1h-1zM255 674h1v1h-1zM256 674h1v1h-1zM257 674h1v1h-1zM261 674h1v1h-1zM262 674h1v1h-1zM263 674h1v1h-1zM267 674h1v1h-1zM268 674h1v1h-1zM269 674h1v1h-1zM273 675h1v1h-1zM274 675h1v1h-1zM275 675h1v1h-1zM279 676h1v1h-1zM280 676h1v1h-1zM281 676h1v1h-1zM285 676h1v1h-1zM286 676h1v1h-1zM287 676h1v1h-1zM291 676h1v1h-1zM292 676h1v1h-1zM293 676h1v1h-1zM297 677h1v1h-1zM298 677h1v1h-1zM299 677h1v1h-1zM303 677h1v1h-1zM304 677h1v1h-1zM305 677h1v1h-1zM309 677h1v1h-1zM310 677h1v1h-1zM311 677h1v1h-1zM315 677h1v1h-1zM316 677h1v1h-1zM317 677h1v1h-1zM321 677h1v1h-1zM322 677h1v1h-1zM323 677h1v1h-1zM327 676h1v1h-1zM328 676h1v1h-1zM329 676h1v1h-1zM333 676h1v1h-1zM334 676h1v1h-1zM335 675h1v1h-1zM339 675h1v1h-1zM340 675h1v1h-1zM341 674h1v1h-1zM345 673h1v1h-1zM346 673h1v1h-1zM347 673h1v1h-1zM351 672h1v1h-1zM352 672h1v1h-1zM353 672h1v1h-1zM357 671h1v1h-1zM358 671h1v1h-1zM359 671h1v1h-1zM363 670h1v1h-1zM364 670h1v1h-1zM365 670h1v1h-1zM369 669h1v1h-1zM370 669h1v1h-1zM371 669h1v1h-1zM375 668h1v1h-1zM376 668h1v1h-1zM377 667h1v1h-1zM381 667h1v1h-1zM382 667h1v1h-1zM383 666h1v1h-1zM387 666h1v1h-1zM388 666h1v1h-1zM389 666h1v1h-1zM393 666h1v1h-1zM394 666h1v1h-1zM395 666h1v1h-1zM399 666h1v1h-1zM400 666h1v1h-1zM401 666h1v1h-1zM405 667h1v1h-1zM406 667h1v1h-1zM407 667h1v1h-1zM411 668h1v1h-1zM412 668h1v1h-1zM413 669h1v1h-1zM417 670h1v1h-1zM418 670h1v1h-1zM419 670h1v1h-1zM423 672h1v1h-1zM424 672h1v1h-1zM425 672h1v1h-1zM429 674h1v1h-1zM430 674h1v1h-1zM431 675h1v1h-1zM435 676h1v1h-1zM436 677h1v1h-1zM437 677h1v1h-1zM441 680h1v1h-1zM442 680h1v1h-1zM443 681h1v1h-1zM447 684h1v1h-1zM448 684h1v1h-1zM449 685h1v1h-1zM453 687h1v1h-1zM454 688h1v1h-1zM455 689h1v1h-1zM459 691h1v1h-1zM460 692h1v1h-1zM461 693h1v1h-1zM465 696h1v1h-1zM466 696h1v1h-1zM467 697h1v1h-1zM471 701h1v1h-1zM472 701h1v1h-1zM473 702h1v1h-1zM477 706h1v1h-1zM478 706h1v1h-1zM479 707h1v1h-1zM483 710h1v1h-1zM484 711h1v1h-1zM485 712h1v1h-1zM489 715h1v1h-1zM490 715h1v1h-1zM491 716h1v1h-1zM495 719h1v1h-1zM496 719h1v1h-1zM497 720h1v1h-1zM501 722h1v1h-1zM502 723h1v1h-1zM503 723h1v1h-1zM507 725h1v1h-1zM508 725h1v1h-1zM509 726h1v1h-1zM513 727h1v1h-1zM514 728h1v1h-1zM515 728h1v1h-1zM519 729h1v1h-1zM520 729h1v1h-1zM521 730h1v1h-1zM525 730h1v1h-1zM526 730h1v1h-1zM527 731h1v1h-1zM531 731h1v1h-1zM532 731h1v1h-1zM533 731h1v1h-1zM537 732h1v1h-1zM538 732h1v1h-1zM539 732h1v1h-1zM543 732h1v1h-1zM544 732h1v1h-1zM545 732h1v1h-1zM549 732h1v1h-1zM550 732h1v1h-1zM551 732h1v1h-1zM555 732h1v1h-1zM556 732h1v1h-1zM557 732h1v1h-1zM561 732h1v1h-1zM562 732h1v1h-1zM563 732h1v1h-1zM567 733h1v1h-1zM568 733h1v1h-1zM569 733h1v1h-1zM573 734h1v1h-1zM574 734h1v1h-1zM575 734h1v1h-1zM579 735h1v1h-1zM580 735h1v1h-1zM581 736h1v1h-1zM585 737h1v1h-1zM586 737h1v1h-1zM587 737h1v1h-1zM591 739h1v1h-1zM592 739h1v1h-1zM593 739h1v1h-1zM597 741h1v1h-1zM598 742h1v1h-1zM599 742h1v1h-1zM603 744h1v1h-1zM604 744h1v1h-1zM605 745h1v1h-1zM609 746h1v1h-1zM610 746h1v1h-1zM611 746h1v1h-1zM615 748h1v1h-1zM616 748h1v1h-1zM617 748h1v1h-1zM621 750h1v1h-1zM622 750h1v1h-1zM623 750h1v1h-1zM627 751h1v1h-1zM628 751h1v1h-1zM629 751h1v1h-1zM633 751h1v1h-1zM634 751h1v1h-1zM635 751h1v1h-1zM639 750h1v1h-1zM640 750h1v1h-1zM641 749h1v1h-1zM645 748h1v1h-1zM646 748h1v1h-1zM647 747h1v1h-1zM651 746h1v1h-1zM652 745h1v1h-1zM653 745h1v1h-1zM657 743h1v1h-1zM658 742h1v1h-1zM659 742h1v1h-1zM663 739h1v1h-1zM664 739h1v1h-1zM665 738h1v1h-1zM669 736h1v1h-1zM670 735h1v1h-1zM671 734h1v1h-1zM675 732h1v1h-1zM676 731h1v1h-1zM677 730h1v1h-1zM681 727h1v1h-1zM682 726h1v1h-1zM683 725h1v1h-1zM687 722h1v1h-1zM688 721h1v1h-1zM689 720h1v1h-1zM693 717h1v1h-1zM694 717h1v1h-1zM695 716h1v1h-1zM699 713h1v1h-1zM700 712h1v1h-1zM701 712h1v1h-1zM705 710h1v1h-1zM706 709h1v1h-1zM707 709h1v1h-1zM711 707h1v1h-1zM712 706h1v1h-1zM713 706h1v1h-1zM717 704h1v1h-1zM718 703h1v1h-1zM719 702h1v1h-1zM723 700h1v1h-1zM724 700h1v1h-1zM725 699h1v1h-1zM729 698h1v1h-1zM730 697h1v1h-1zM731 697h1v1h-1zM735 694h1v1h-1zM736 693h1v1h-1zM737 692h1v1h-1zM741 689h1v1h-1zM742 689h1v1h-1zM743 688h1v1h-1zM747 685h1v1h-1zM748 684h1v1h-1zM749 683h1v1h-1zM753 680h1v1h-1zM754 680h1v1h-1zM755 679h1v1h-1zM759 675h1v1h-1zM760 675h1v1h-1zM761 674h1v1h-1zM765 670h1v1h-1zM766 669h1v1h-1zM767 668h1v1h-1zM770 664h1v1h-1zM771 663h1v1h-1zM772 662h1v1h-1zM775 658h1v1h-1zM776 657h1v1h-1zM777 656h1v1h-1zM781 651h1v2h-1zM782 650h1v1h-1zM785 646h1v1h-1zM786 645h1v1h-1zM787 644h1v1h-1zM790 640h1v1h-1zM791 639h1v1h-1zM792 638h1v1h-1zM795 634h1v1h-1zM796 633h1v1h-1zM797 632h1v1h-1zM801 628h1v1h-1zM802 627h1v1h-1zM803 626h1v1h-1zM807 622h1v1h-1zM808 621h1v1h-1zM809 620h1v1h-1zM813 616h1v1h-1zM814 616h1v1h-1zM815 615h1v1h-1zM819 612h1v1h-1zM820 611h1v1h-1zM821 611h1v1h-1zM825 608h1v1h-1zM826 608h1v1h-1zM827 607h1v1h-1zM831 605h1v1h-1zM832 604h1v1h-1zM833 604h1v1h-1zM837 602h1v1h-1zM838 602h1v1h-1zM839 602h1v1h-1zM843 601h1v1h-1zM844 601h1v1h-1zM845 601h1v1h-1zM849 600h1v1h-1zM850 600h1v1h-1zM851 600h1v1h-1zM855 599h1v1h-1zM856 599h1v1h-1zM857 599h1v1h-1zM861 599h1v1h-1zM862 599h1v1h-1zM863 599h1v1h-1zM867 599h1v1h-1zM868 599h1v1h-1zM869 599h1v1h-1zM873 599h1v1h-1zM874 599h1v1h-1zM875 599h1v1h-1zM879 599h1v1h-1zM880 599h1v1h-1zM881 599h1v1h-1zM885 599h1v1h-1zM886 599h1v1h-1zM887 599h1v1h-1zM891 599h1v1h-1zM892 599h1v1h-1zM893 599h1v1h-1zM897 598h1v1h-1zM898 598h1v1h-1zM899 598h1v1h-1zM903 598h1v1h-1zM904 598h1v1h-1zM905 598h1v1h-1zM909 598h1v1h-1zM910 598h1v1h-1zM911 597h1v1h-1zM915 597h1v1h-1zM916 597h1v1h-1zM917 597h1v1h-1zM921 596h1v1h-1zM922 596h1v1h-1zM923 596h1v1h-1zM927 596h1v1h-1zM928 596h1v1h-1zM929 596h1v1h-1zM933 596h1v1h-1zM934 596h1v1h-1zM935 597h1v1h-1zM939 597h1v1h-1zM940 597h1v1h-1zM941 597h1v1h-1zM945 598h1v1h-1zM946 598h1v1h-1zM947 598h1v1h-1zM951 599h1v1h-1zM952 599h1v1h-1zM953 600h1v1h-1zM957 601h1v1h-1zM958 601h1v1h-1zM959 602h1v1h-1zM963 603h1v1h-1zM964 603h1v1h-1zM965 604h1v1h-1zM969 605h1v1h-1zM970 606h1v1h-1zM971 606h1v1h-1zM975 608h1v1h-1zM976 609h1v1h-1zM977 609h1v1h-1zM981 611h1v1h-1zM982 611h1v1h-1zM983 612h1v1h-1zM987 613h1v1h-1zM988 614h1v1h-1zM989 614h1v1h-1zM993 616h1v1h-1zM994 617h1v1h-1zM995 617h1v1h-1zM999 619h1v1h-1zM1000 620h1v1h-1zM1001 620h1v1h-1zM1005 622h1v1h-1zM1006 622h1v1h-1zM1007 623h1v1h-1zM1011 624h1v1h-1zM1012 624h1v1h-1zM1013 625h1v1h-1zM1017 626h1v1h-1zM1018 627h1v1h-1zM1019 627h1v1h-1zM1023 628h1v1h-1zM1024 628h1v1h-1zM1025 629h1v1h-1zM1029 630h1v1h-1zM1030 630h1v1h-1zM1031 630h1v1h-1zM1035 631h1v1h-1zM1036 631h1v1h-1zM1037 631h1v1h-1zM1041 632h1v1h-1zM1042 632h1v1h-1zM1043 632h1v1h-1zM1047 632h1v1h-1zM1048 632h1v1h-1zM1049 632h1v1h-1zM1053 632h1v1h-1zM1054 632h1v1h-1zM1055 633h1v1h-1zM1059 633h1v1h-1zM1060 633h1v1h-1zM1061 633h1v1h-1zM1065 633h1v1h-1zM1066 633h1v1h-1zM1067 633h1v1h-1zM1071 633h1v1h-1zM1072 633h1v1h-1zM1073 633h1v1h-1zM1077 633h1v1h-1zM1078 633h1v1h-1zM1079 633h1v1h-1zM1083 633h1v1h-1zM1084 633h1v1h-1zM1085 633h1v1h-1zM1089 634h1v1h-1zM1090 634h1v1h-1zM1091 634h1v1h-1zM1095 635h1v1h-1zM1096 635h1v1h-1zM1097 635h1v1h-1zM1101 635h1v1h-1zM1102 635h1v1h-1zM1103 636h1v1h-1zM1107 636h1v1h-1zM1108 636h1v1h-1zM1109 636h1v1h-1zM1113 637h1v1h-1zM1114 637h1v1h-1zM1115 637h1v1h-1zM1119 638h1v1h-1zM1120 638h1v1h-1zM1121 639h1v1h-1zM1125 640h1v1h-1zM1126 640h1v1h-1zM1127 640h1v1h-1zM1131 641h1v1h-1zM1132 641h1v1h-1zM1133 642h1v1h-1zM1137 643h1v1h-1zM1138 643h1v1h-1zM1139 643h1v1h-1zM1143 644h1v1h-1zM1144 644h1v1h-1zM1145 645h1v1h-1zM1149 646h1v1h-1zM1150 646h1v1h-1zM1151 647h1v1h-1zM1155 648h1v1h-1zM1156 648h1v1h-1zM1157 649h1v1h-1zM1161 650h1v1h-1zM1162 651h1v1h-1zM1163 651h1v1h-1zM1167 653h1v1h-1zM1168 654h1v1h-1zM1169 654h1v1h-1zM1173 656h1v1h-1zM1174 656h1v1h-1zM1175 657h1v1h-1zM1179 658h1v1h-1zM1180 658h1v1h-1zM1181 659h1v1h-1zM1185 660h1v1h-1zM1186 661h1v1h-1zM1187 661h1v1h-1zM1191 663h1v1h-1zM1192 664h1v1h-1zM1193 664h1v1h-1zM1197 666h1v1h-1zM1198 666h1v1h-1zM1199 667h1v1h-1zM1203 668h1v1h-1zM1204 668h1v1h-1zM1205 669h1v1h-1zM1209 670h1v1h-1zM1210 670h1v1h-1zM1211 670h1v1h-1zM1215 672h1v1h-1zM1216 672h1v1h-1zM1217 672h1v1h-1zM1221 674h1v1h-1zM1222 674h1v1h-1zM1223 674h1v1h-1zM1227 675h1v1h-1zM1228 675h1v1h-1zM1229 676h1v1h-1zM1233 677h1v1h-1zM1234 678h1v1h-1zM1235 678h1v1h-1zM1239 680h1v1h-1zM1240 680h1v1h-1zM1241 680h1v1h-1zM1245 682h1v1h-1zM1246 682h1v1h-1zM1247 682h1v1h-1zM1251 683h1v1h-1zM1252 684h1v1h-1zM1253 684h1v1h-1zM1257 686h1v1h-1zM1258 687h1v1h-1zM1259 687h1v1h-1zM1263 689h1v1h-1zM1264 690h1v1h-1zM1265 690h1v1h-1zM1269 692h1v1h-1zM1270 693h1v1h-1zM1271 693h1v1h-1zM1275 695h1v1h-1zM1276 695h1v1h-1zM1277 696h1v1h-1zM1281 697h1v1h-1zM1282 698h1v1h-1zM1283 698h1v1h-1z" fill="#ff0000" shape-rendering="crispEdges"/>
<path d="M0 819h1v1h-1zM1 819h1v1h-1zM2 820h1v1h-1zM3 820h1v1h-1zM4 820h1v1h-1zM5 820h1v1h-1zM6 820h1v1h-1zM7 821h1v1h-1zM8 821h1v1h-1zM9 821h1v1h-1zM10 821h1v1h-1zM11 821h1v1h-1zM12 822h1v1h-1zM13 822h1v1h-1zM14 823h1v1h-1zM15 823h1v1h-1zM16 824h1v1h-1zM17 824h1v1h-1zM18 825h1v1h-1zM19 825h1v1h-1zM20 825h1v1h-1zM21 824h1v1h-1zM22 824h1v1h-1zM23 823h1v1h-1zM24 823h1v1h-1zM25 823h1v1h-1zM26 822h1v1h-1zM27 822h1v1h-1zM28 822h1v1h-1zM29 822h1v1h-1zM30 822h1v1h-1zM31 822h1v1h-1zM32 822h1v1h-1zM33 822h1v1h-1zM34 822h1v1h-1zM35 822h1v1h-1zM36 823h1v1h-1zM37 824h1v1h-1zM38 825h1v1h-1zM39 826h1v1h-1zM40 826h1v1h-1zM41 827h1v1h-1zM42 828h1v1h-1zM43 829h1v1h-1zM44 829h1v1h-1zM45 830h1v1h-1zM46 830h1v1h-1zM47 831h1v1h-1zM48 831h1v1h-1zM49 831h1v1h-1zM50 832h1v1h-1zM51 832h1v1h-1zM52 832h1v1h-1zM53 831h1v1h-1zM54 831h1v1h-1zM55 831h1v1h-1zM56 831h1v1h-1zM57 830h1v1h-1zM58 830h1v1h-1zM59 830h1v1h-1zM60 831h1v1h-1zM61 832h1v1h-1zM62 832h1v1h-1zM63 833h1v1h-1zM64 834h1v1h-1zM65 835h1v1h-1zM66 835h1v1h-1zM67 836h1v1h-1zM68 836h1v1h-1zM69 837h1v1h-1zM70 837h1v1h-1zM71 838h1v1h-1zM72 838h1v1h-1zM73 838h1v1h-1zM74 839h1v1h-1zM75 839h1v1h-1zM76 838h1v1h-1zM77 837h1v1h-1zM78 837h1v1h-1zM79 836h1v1h-1zM80 835h1v1h-1zM81 834h1v1h-1zM82 834h1v1h-1zM83 833h1v1h-1zM84 832h1v1h-1zM85 831h1v1h-1zM86 831h1v1h-1zM87 830h1v1h-1zM88 829h1v1h-1zM89 828h1v1h-1zM90 828h1v1h-1zM91 827h1v1h-1zM92 827h1v1h-1zM93 827h1v1h-1zM94 827h1v1h-1zM95 828h1v1h-1zM96 828h1v1h-1zM97 828h1v1h-1zM98 828h1v1h-1zM99 828h1v1h-1zM100 829h1v1h-1zM101 829h1v1h-1zM102 830h1v1h-1zM103 831h1v1h-1zM104 831h1v1h-1zM105 832h1v1h-1zM106 832h1v1h-1zM107 833h1v1h-1zM108 833h1v1h-1zM109 832h1v1h-1zM110 832h1v1h-1zM111 832h1v1h-1zM112 832h1v1h-1zM113 831h1v1h-1zM114 831h1v1h-1zM115 831h1v1h-1zM116 831h1v1h-1zM117 831h1v1h-1zM118 831h1v1h-1zM119 831h1v1h-1zM120 831h1v1h-1zM121 831h1v1h-1zM122 831h1v1h-1zM123 831h1v1h-1zM124 832h1v2h-1zM125 834h1v1h-1zM126 835h1v2h-1zM127 837h1v1h-1zM128 838h1v2h-1zM129 840h1v1h-1zM130 841h1v2h-1zM131 843h1v1h-1zM132 844h1v2h-1zM133 846h1v2h-1zM134 848h1v2h-1zM135 850h1v2h-1zM136 852h1v2h-1zM137 854h1v2h-1zM138 856h1v2h-1zM139 858h1v2h-1zM140 859h1v1h-1zM141 859h1v1h-1zM142 859h1v1h-1zM143 860h1v1h-1zM144 860h1v1h-1zM145 860h1v1h-1zM146 860h1v1h-1zM147 860h1v1h-1zM148 859h1v1h-1zM149 857h1v2h-1zM150 856h1v1h-1zM151 855h1v1h-1zM152 854h1v1h-1zM153 852h1v2h-1zM154 851h1v1h-1zM155 850h1v1h-1zM156 851h1v1h-1zM157 851h1v1h-1zM158 852h1v1h-1zM159 852h1v1h-1zM160 853h1v1h-1zM161 853h1v1h-1zM162 854h1v1h-1zM163 854h1v1h-1zM164 854h1v1h-1zM165 853h1v1h-1zM166 853h1v1h-1zM167 852h1v1h-1zM168 852h1v1h-1zM169 852h1v1h-1zM170 851h1v1h-1zM171 851h1v1h-1zM172 851h1v1h-1zM173 851h1v1h-1zM174 851h1v1h-1zM175 851h1v1h-1zM176 851h1v1h-1zM177 851h1v1h-1zM178 851h1v1h-1zM179 851h1v1h-1zM180 850h1v1h-1zM181 849h1v1h-1zM182 848h1v1h-1zM183 847h1v1h-1zM184 846h1v1h-1zM185 845h1v1h-1zM186 844h1v1h-1zM187 843h1v1h-1zM188 843h1v1h-1zM189 842h1v1h-1zM190 842h1v1h-1zM191 841h1v1h-1zM192 841h1v1h-1zM193 841h1v1h-1zM194 840h1v1h-1zM195 840h1v1h-1zM196 840h1v1h-1zM197 839h1v1h-1zM198 839h1v1h-1zM199 839h1v1h-1zM200 839h1v1h-1zM201 838h1v1h-1zM202 838h1v1h-1zM203 838h1v1h-1zM204 839h1v2h-1zM205 841h1v1h-1zM206 842h1v1h-1zM207 843h1v2h-1zM208 845h1v1h-1zM209 846h1v1h-1zM210 847h1v2h-1zM211 849h1v1h-1zM212 849h1v1h-1zM213 849h1v1h-1zM214 849h1v1h-1zM215 850h1v1h-1zM216 850h1v1h-1zM217 850h1v1h-1zM218 850h1v1h-1zM219 850h1v1h-1zM220 850h1v1h-1zM221 850h1v1h-1zM222 850h1v1h-1zM223 849h1v1h-1zM224 849h1v1h-1zM225 849h1v1h-1zM226 849h1v1h-1zM227 849h1v1h-1zM228 849h1v1h-1zM229 850h1v1h-1zM230 850h1v1h-1zM231 851h1v1h-1zM232 851h1v1h-1zM233 851h1v1h-1zM234 852h1v1h-1zM235 852h1v1h-1zM236 852h1v1h-1zM237 852h1v1h-1zM238 852h1v1h-1zM239 852h1v1h-1zM240 852h1v1h-1zM241 852h1v1h-1zM242 852h1v1h-1zM243 852h1v1h-1zM244 852h1v1h-1zM245 851h1v1h-1zM246 851h1v1h-1zM247 850h1v1h-1zM248 850h1v1h-1zM249 850h1v1h-1zM250 849h1v1h-1zM251 849h1v1h-1zM252 849h1v1h-1zM253 849h1v1h-1zM254 849h1v1h-1zM255 848h1v1h-1zM256 848h1v1h-1zM257 848h1v1h-1zM258 848h1v1h-1zM259 848h1v1h-1zM260 848h1v1h-1zM261 849h1v1h-1zM262 849h1v1h-1zM263 849h1v1h-1zM264 849h1v1h-1zM265 850h1v1h-1zM266 850h1v1h-1zM267 850h1v1h-1zM268 850h1v1h-1zM269 849h1v1h-1zM270 849h1v1h-1zM271 849h1v1h-1zM272 849h1v1h-1zM273 848h1v1h-1zM274 848h1v1h-1zM275 848h1v1h-1zM276 849h1v1h-1zM277 850h1v1h-1zM278 851h1v1h-1zM279 852h1v2h-1zM280 854h1v1h-1zM281 855h1v1h-1zM282 856h1v1h-1zM283 857h1v1h-1zM284 856h1v1h-1zM285 855h1v1h-1zM286 854h1v1h-1zM287 853h1v1h-1zM288 853h1v1h-1zM289 852h1v1h-1zM290 851h1v1h-1zM291 850h1v1h-1zM292 851h1v1h-1zM293 851h1v1h-1zM294 852h1v1h-1zM295 853h1v1h-1zM296 853h1v1h-1zM297 854h1v1h-1zM298 854h1v1h-1zM299 855h1v1h-1zM300 854h1v1h-1zM301 854h1v1h-1zM302 853h1v1h-1zM303 853h1v1h-1zM304 852h1v1h-1zM305 852h1v1h-1zM306 851h1v1h-1zM307 850h1v2h-1zM308 847h1v3h-1zM309 845h1v2h-1zM310 842h1v3h-1zM311 839h1v3h-1zM312 836h1v3h-1zM313 834h1v2h-1zM314 831h1v3h-1zM315 829h1v2h-1zM316 829h1v1h-1zM317 829h1v1h-1zM318 829h1v1h-1zM319 829h1v1h-1zM320 829h1v1h-1zM321 829h1v1h-1zM322 829h1v1h-1zM323 829h1v1h-1zM324 829h1v1h-1zM325 828h1v1h-1zM326 828h1v1h-1zM327 827h1v1h-1zM328 827h1v1h-1zM329 827h1v1h-1zM330 826h1v1h-1zM331 826h1v1h-1zM332 825h1v1h-1zM333 825h1v1h-1zM334 824h1v1h-1zM335 823h1v1h-1zM336 823h1v1h-1zM337 822h1v1h-1zM338 822h1v1h-1zM339 821h1v1h-1zM340 821h1v1h-1zM341 820h1v1h-1zM342 820h1v1h-1zM343 820h1v1h-1zM344 820h1v1h-1zM345 819h1v1h-1zM346 819h1v1h-1zM347 819h1v2h-1zM348 821h1v2h-1zM349 823h1v3h-1zM350 826h1v3h-1zM351 829h1v2h-1zM352 831h1v3h-1zM353 834h1v3h-1zM354 837h1v2h-1zM355 839h1v2h-1zM356 841h1v1h-1zM357 842h1v1h-1zM358 843h1v1h-1zM359 844h1v1h-1zM360 845h1v1h-1zM361 846h1v1h-1zM362 847h1v1h-1zM363 848h1v1h-1zM364 847h1v1h-1zM365 847h1v1h-1zM366 846h1v1h-1zM367 845h1v1h-1zM368 845h1v1h-1zM369 844h1v1h-1zM370 844h1v1h-1zM371 843h1v1h-1zM372 843h1v1h-1zM373 844h1v1h-1zM374 844h1v1h-1zM375 844h1v1h-1zM376 844h1v1h-1zM377 845h1v1h-1zM378 845h1v1h-1zM379 845h1v1h-1zM380 844h1v1h-1zM381 842h1v2h-1zM382 841h1v1h-1zM383 840h1v1h-1zM384 839h1v1h-1zM385 837h1v2h-1zM386 836h1v1h-1zM387 835h1v2h-1zM388 837h1v2h-1zM389 839h1v3h-1zM390 842h1v2h-1zM391 844h1v3h-1zM392 847h1v2h-1zM393 849h1v3h-1zM394 852h1v2h-1zM395 854h1v2h-1zM396 854h1v1h-1zM397 854h1v1h-1zM398 853h1v1h-1zM399 853h1v1h-1zM400 852h1v1h-1zM401 852h1v1h-1zM402 851h1v1h-1zM403 851h1v2h-1zM404 853h1v2h-1zM405 855h1v3h-1zM406 858h1v2h-1zM407 860h1v3h-1zM408 863h1v2h-1zM409 865h1v3h-1zM410 868h1v2h-1zM411 870h1v2h-1zM412 871h1v1h-1zM413 871h1v1h-1zM414 871h1v1h-1zM415 871h1v1h-1zM416 871h1v1h-1zM417 871h1v1h-1zM418 871h1v1h-1zM419 871h1v1h-1zM420 871h1v1h-1zM421 871h1v1h-1zM422 871h1v1h-1zM423 872h1v1h-1zM424 872h1v1h-1zM425 872h1v1h-1zM426 872h1v1h-1zM427 872h1v1h-1zM428 873h1v1h-1zM429 874h1v1h-1zM430 875h1v1h-1zM431 876h1v1h-1zM432 877h1v1h-1zM433 878h1v1h-1zM434 879h1v1h-1zM435 880h1v1h-1zM436 881h1v1h-1zM437 882h1v1h-1zM438 883h1v1h-1zM439 884h1v1h-1zM440 884h1v1h-1zM441 885h1v1h-1zM442 886h1v1h-1zM443 887h1v1h-1zM444 886h1v1h-1zM445 886h1v1h-1zM446 885h1v1h-1zM447 884h1v1h-1zM448 884h1v1h-1zM449 883h1v1h-1zM450 883h1v1h-1zM451 882h1v1h-1zM452 883h1v1h-1zM453 884h1v1h-1zM454 885h1v1h-1zM455 886h1v1h-1zM456 886h1v1h-1zM457 887h1v1h-1zM458 888h1v1h-1zM459 889h1v1h-1zM460 889h1v1h-1zM461 889h1v1h-1zM462 889h1v1h-1zM463 890h1v1h-1zM464 890h1v1h-1zM465 890h1v1h-1zM466 890h1v1h-1zM467 890h1v1h-1zM468 890h1v1h-1zM469 891h1v1h-1zM470 891h1v1h-1zM471 892h1v1h-1zM472 892h1v1h-1zM473 892h1v1h-1zM474 893h1v1h-1zM475 893h1v1h-1zM476 891h1v2h-1zM477 890h1v1h-1zM478 889h1v1h-1zM479 887h1v2h-1zM480 886h1v1h-1zM481 885h1v1h-1zM482 883h1v2h-1zM483 882h1v1h-1zM484 882h1v1h-1zM485 882h1v1h-1zM486 882h1v1h-1zM487 883h1v1h-1zM488 883h1v1h-1zM489 883h1v1h-1zM490 883h1v1h-1zM491 883h1v1h-1zM492 883h1v1h-1zM493 884h1v1h-1zM494 884h1v1h-1zM495 884h1v1h-1zM496 884h1v1h-1zM497 885h1v1h-1zM498 885h1v1h-1zM499 885h1v1h-1zM500 883h1v2h-1zM501 881h1v2h-1zM502 880h1v1h-1zM503 878h1v2h-1zM504 877h1v1h-1zM505 875h1v2h-1zM506 873h1v2h-1zM507 872h1v1h-1zM508 872h1v1h-1zM509 872h1v1h-1zM510 872h1v1h-1zM511 872h1v1h-1zM512 872h1v1h-1zM513 872h1v1h-1zM514 872h1v1h-1zM515 872h1v1h-1zM516 871h1v1h-1zM517 870h1v1h-1zM518 869h1v1h-1zM519 868h1v1h-1zM520 868h1v1h-1zM521 867h1v1h-1zM522 866h1v1h-1zM523 865h1v1h-1zM524 865h1v1h-1zM525 865h1v1h-1zM526 865h1v1h-1zM527 866h1v1h-1zM528 866h1v1h-1zM529 866h1v1h-1zM530 866h1v1h-1zM531 866h1v2h-1zM532 868h1v2h-1zM533 870h1v3h-1zM534 873h1v3h-1zM535 876h1v2h-1zM536 878h1v3h-1zM537 881h1v3h-1zM538 884h1v2h-1zM539 886h1v2h-1zM540 884h1v2h-1zM541 881h1v3h-1zM542 879h1v2h-1zM543 876h1v3h-1zM544 874h1v2h-1zM545 871h1v3h-1zM546 869h1v2h-1zM547 867h1v2h-1zM548 867h1v1h-1zM549 867h1v1h-1zM550 867h1v1h-1zM551 867h1v1h-1zM552 867h1v1h-1zM553 867h1v1h-1zM554 867h1v1h-1zM555 867h1v1h-1zM556 868h1v2h-1zM557 870h1v1h-1zM558 871h1v2h-1zM559 873h1v1h-1zM560 874h1v2h-1zM561 876h1v1h-1zM562 877h1v2h-1zM563 879h1v1h-1zM564 880h1v1h-1zM565 881h1v1h-1zM566 881h1v1h-1zM567 882h1v1h-1zM568 883h1v1h-1zM569 884h1v1h-1zM570 884h1v1h-1zM571 885h1v1h-1zM572 884h1v1h-1zM573 884h1v1h-1zM574 883h1v1h-1zM575 882h1v1h-1zM576 882h1v1h-1zM577 881h1v1h-1zM578 881h1v1h-1zM579 880h1v1h-1zM580 880h1v1h-1zM581 880h1v1h-1zM582 880h1v1h-1zM583 879h1v1h-1zM584 879h1v1h-1zM585 879h1v1h-1zM586 879h1v1h-1zM587 879h1v1h-1zM588 879h1v1h-1zM589 879h1v1h-1zM590 879h1v1h-1zM591 880h1v1h-1zM592 880h1v1h-1zM593 880h1v1h-1zM594 880h1v1h-1zM595 880h1v1h-1zM596 880h1v1h-1zM597 880h1v1h-1zM598 880h1v1h-1zM599 881h1v1h-1zM600 881h1v1h-1zM601 881h1v1h-1zM602 881h1v1h-1zM603 881h1v1h-1zM604 880h1v1h-1zM605 879h1v1h-1zM606 879h1v1h-1zM607 878h1v1h-1zM608 877h1v1h-1zM609 876h1v1h-1zM610 876h1v1h-1zM611 875h1v1h-1zM612 874h1v1h-1zM613 874h1v1h-1zM614 873h1v1h-1zM615 873h1v1h-1zM616 872h1v1h-1zM617 872h1v1h-1zM618 871h1v1h-1zM619 871h1v1h-1zM620 871h1v1h-1zM621 872h1v1h-1zM622 872h1v1h-1zM623 872h1v1h-1zM624 872h1v1h-1zM625 873h1v1h-1zM626 873h1v1h-1zM627 872h1v2h-1zM628 870h1v2h-1zM629 868h1v2h-1zM630 866h1v2h-1zM631 864h1v2h-1zM632 862h1v2h-1zM633 860h1v2h-1zM634 858h1v2h-1zM635 856h1v2h-1zM636 855h1v1h-1zM637 854h1v1h-1zM638 853h1v1h-1zM639 852h1v1h-1zM640 851h1v1h-1zM641 850h1v1h-1zM642 849h1v1h-1zM643 848h1v1h-1zM644 848h1v1h-1zM645 849h1v1h-1zM646 849h1v1h-1zM647 849h1v1h-1zM648 849h1v1h-1zM649 850h1v1h-1zM650 850h1v1h-1zM651 850h1v1h-1zM652 850h1v1h-1zM653 849h1v1h-1zM654 849h1v1h-1zM655 848h1v1h-1zM656 848h1v1h-1zM657 848h1v1h-1zM658 847h1v1h-1zM659 847h1v1h-1zM660 848h1v1h-1zM661 849h1v1h-1zM662 850h1v1h-1zM663 851h1v1h-1zM664 852h1v1h-1zM665 853h1v1h-1zM666 854h1v1h-1zM667 855h1v1h-1zM668 854h1v1h-1zM669 854h1v1h-1zM670 853h1v1h-1zM671 853h1v1h-1zM672 852h1v1h-1zM673 852h1v1h-1zM674 851h1v1h-1zM675 851h1v1h-1zM676 849h1v2h-1zM677 848h1v1h-1zM678 847h1v1h-1zM679 845h1v2h-1zM680 844h1v1h-1zM681 843h1v1h-1zM682 841h1v2h-1zM683 840h1v1h-1zM684 841h1v1h-1zM685 841h1v1h-1zM686 842h1v1h-1zM687 842h1v1h-1zM688 843h1v1h-1zM689 843h1v1h-1zM690 844h1v1h-1zM691 844h1v2h-1zM692 846h1v3h-1zM693 849h1v3h-1zM694 852h1v3h-1zM695 855h1v2h-1zM696 857h1v3h-1zM697 860h1v3h-1zM698 863h1v3h-1zM699 866h1v2h-1zM700 864h1v2h-1zM701 862h1v2h-1zM702 860h1v2h-1zM703 858h1v2h-1zM704 856h1v2h-1zM705 854h1v2h-1zM706 852h1v2h-1zM707 850h1v2h-1zM708 850h1v1h-1zM709 849h1v1h-1zM710 849h1v1h-1zM711 849h1v1h-1zM712 849h1v1h-1zM713 848h1v1h-1zM714 848h1v1h-1zM715 848h1v1h-1zM716 846h1v2h-1zM717 845h1v1h-1zM718 844h1v1h-1zM719 842h1v2h-1zM720 841h1v1h-1zM721 840h1v1h-1zM722 838h1v2h-1zM723 837h1v1h-1zM724 838h1v1h-1zM725 838h1v1h-1zM726 839h1v1h-1zM727 839h1v1h-1zM728 840h1v1h-1zM729 840h1v1h-1zM730 841h1v1h-1zM731 840h1v2h-1zM732 838h1v2h-1zM733 836h1v2h-1zM734 834h1v2h-1zM735 832h1v2h-1zM736 830h1v2h-1zM737 828h1v2h-1zM738 826h1v2h-1zM739 824h1v2h-1zM740 825h1v1h-1zM741 826h1v1h-1zM742 827h1v1h-1zM743 828h1v1h-1zM744 829h1v1h-1zM745 830h1v1h-1zM746 831h1v1h-1zM747 832h1v1h-1zM748 831h1v1h-1zM749 831h1v1h-1zM750 830h1v1h-1zM751 830h1v1h-1zM752 829h1v1h-1zM753 829h1v1h-1zM754 828h1v1h-1zM755 828h1v1h-1zM756 827h1v1h-1zM757 827h1v1h-1zM758 826h1v1h-1zM759 826h1v1h-1zM760 825h1v1h-1zM761 825h1v1h-1zM762 824h1v1h-1zM763 824h1v1h-1zM764 824h1v1h-1zM765 823h1v1h-1zM766 823h1v1h-1zM767 823h1v1h-1zM768 823h1v1h-1zM769 822h1v1h-1zM770 822h1v1h-1zM771 822h1v1h-1zM772 822h1v1h-1zM773 821h1v1h-1zM774 821h1v1h-1zM775 821h1v1h-1zM776 821h1v1h-1zM777 820h1v1h-1zM778 820h1v1h-1zM779 820h1v1h-1zM780 820h1v1h-1zM781 821h1v1h-1zM782 821h1v1h-1zM783 821h1v1h-1zM784 821h1v1h-1zM785 822h1v1h-1zM786 822h1v1h-1zM787 822h1v1h-1zM788 822h1v1h-1zM789 822h1v1h-1zM790 822h1v1h-1zM791 823h1v1h-1zM792 823h1v1h-1zM793 823h1v1h-1zM794 823h1v1h-1zM795 823h1v1h-1zM796 823h1v1h-1zM797 823h1v1h-1zM798 823h1v1h-1zM799 822h1v1h-1zM800 822h1v1h-1zM801 822h1v1h-1zM802 822h1v1h-1zM803 822h1v1h-1zM804 822h1v1h-1zM805 821h1v1h-1zM806 821h1v1h-1zM807 821h1v1h-1zM808 821h1v1h-1zM809 820h1v1h-1zM810 820h1v1h-1zM811 820h1v1h-1zM812 820h1v1h-1zM813 820h1v1h-1zM814 820h1v1h-1zM815 819h1v1h-1zM816 819h1v1h-1zM817 819h1v1h-1zM818 819h1v1h-1zM819 819h1v1h-1zM820 820h1v1h-1zM821 820h1v1h-1zM822 821h1v1h-1zM823 821h1v1h-1zM824 822h1v1h-1zM825 822h1v1h-1zM826 823h1v1h-1zM827 823h1v1h-1zM828 823h1v1h-1zM829 824h1v1h-1zM830 824h1v1h-1zM831 824h1v1h-1zM832 824h1v1h-1zM833 825h1v1h-1zM834 825h1v1h-1zM835 825h1v1h-1zM836 825h1v1h-1zM837 825h1v1h-1zM838 825h1v1h-1zM839 824h1v1h-1zM840 824h1v1h-1zM841 824h1v1h-1zM842 824h1v1h-1zM843 824h1v1h-1zM844 824h1v1h-1zM845 823h1v1h-1zM846 823h1v1h-1zM847 823h1v1h-1zM848 823h1v1h-1zM849 822h1v1h-1zM850 822h1v1h-1zM851 822h1v1h-1zM852 822h1v1h-1zM853 822h1v1h-1zM854 822h1v1h-1zM855 821h1v1h-1zM856 821h1v1h-1zM857 821h1v1h-1zM858 821h1v1h-1zM859 821h1v1h-1zM860 820h1v1h-1zM861 819h1v1h-1zM862 818h1v1h-1zM863 817h1v1h-1zM864 817h1v1h-1zM865 816h1v1h-1zM866 815h1v1h-1zM867 814h1v1h-1zM868 814h1v1h-1zM869 813h1v1h-1zM870 813h1v1h-1zM871 813h1v1h-1zM872 813h1v1h-1zM873 812h1v1h-1zM874 812h1v1h-1zM875 812h1v1h-1zM876 812h1v1h-1zM877 812h1v1h-1zM878 812h1v1h-1zM879 812h1v1h-1zM880 812h1v1h-1zM881 812h1v1h-1zM882 812h1v1h-1zM883 812h1v1h-1zM884 812h1v1h-1zM885 811h1v1h-1zM886 811h1v1h-1zM887 810h1v1h-1zM888 810h1v1h-1zM889 810h1v1h-1zM890 809h1v1h-1zM891 809h1v1h-1zM892 809h1v1h-1zM893 808h1v1h-1zM894 808h1v1h-1zM895 808h1v1h-1zM896 808h1v1h-1zM897 807h1v1h-1zM898 807h1v1h-1zM899 807h1v1h-1zM900 808h1v1h-1zM901 809h1v1h-1zM902 810h1v1h-1zM903 811h1v2h-1zM904 813h1v1h-1zM905 814h1v1h-1zM906 815h1v1h-1zM907 816h1v1h-1zM908 816h1v1h-1zM909 816h1v1h-1zM910 816h1v1h-1zM911 816h1v1h-1zM912 816h1v1h-1zM913 816h1v1h-1zM914 816h1v1h-1zM915 816h1v1h-1zM916 816h1v1h-1zM917 815h1v1h-1zM918 815h1v1h-1zM919 814h1v1h-1zM920 814h1v1h-1zM921 814h1v1h-1zM922 813h1v1h-1zM923 813h1v1h-1zM924 814h1v1h-1zM925 815h1v1h-1zM926 815h1v1h-1zM927 816h1v1h-1zM928 817h1v1h-1zM929 818h1v1h-1zM930 818h1v1h-1zM931 819h1v1h-1zM932 820h1v2h-1zM933 822h1v1h-1zM934 823h1v2h-1zM935 825h1v1h-1zM936 826h1v2h-1zM937 828h1v1h-1zM938 829h1v2h-1zM939 831h1v1h-1zM940 831h1v1h-1zM941 830h1v1h-1zM942 830h1v1h-1zM943 829h1v1h-1zM944 829h1v1h-1zM945 829h1v1h-1zM946 828h1v1h-1zM947 828h1v1h-1zM948 828h1v1h-1zM949 828h1v1h-1zM950 828h1v1h-1zM951 827h1v1h-1zM952 827h1v1h-1zM953 827h1v1h-1zM954 827h1v1h-1zM955 827h1v1h-1zM956 828h1v1h-1zM957 829h1v1h-1zM958 830h1v1h-1zM959 831h1v1h-1zM960 831h1v1h-1zM961 832h1v1h-1zM962 833h1v1h-1zM963 834h1v1h-1zM964 833h1v1h-1zM965 832h1v1h-1zM966 831h1v1h-1zM967 830h1v1h-1zM968 829h1v1h-1zM969 828h1v1h-1zM970 827h1v1h-1zM971 826h1v1h-1zM972 827h1v1h-1zM973 828h1v1h-1zM974 828h1v1h-1zM975 829h1v1h-1zM976 830h1v1h-1zM977 831h1v1h-1zM978 831h1v1h-1zM979 832h1v1h-1zM980 832h1v1h-1zM981 833h1v1h-1zM982 833h1v1h-1zM983 834h1v1h-1zM984 834h1v1h-1zM985 834h1v1h-1zM986 835h1v1h-1zM987 835h1v1h-1zM988 835h1v1h-1zM989 834h1v1h-1zM990 834h1v1h-1zM991 833h1v1h-1zM992 833h1v1h-1zM993 833h1v1h-1zM994 832h1v1h-1zM995 832h1v1h-1zM996 832h1v1h-1zM997 831h1v1h-1zM998 831h1v1h-1zM999 831h1v1h-1zM1000 831h1v1h-1zM1001 830h1v1h-1zM1002 830h1v1h-1zM1003 830h1v1h-1zM1004 830h1v1h-1zM1005 830h1v1h-1zM1006 830h1v1h-1zM1007 829h1v1h-1zM1008 829h1v1h-1zM1009 829h1v1h-1zM1010 829h1v1h-1zM1011 829h1v1h-1zM1012 828h1v1h-1zM1013 827h1v1h-1zM1014 826h1v1h-1zM1015 825h1v1h-1zM1016 824h1v1h-1zM1017 823h1v1h-1zM1018 822h1v1h-1zM1019 821h1v1h-1zM1020 821h1v1h-1zM1021 821h1v1h-1zM1022 821h1v1h-1zM1023 821h1v1h-1zM1024 821h1v1h-1zM1025 821h1v1h-1zM1026 821h1v1h-1zM1027 821h1v1h-1zM1028 821h1v1h-1zM1029 820h1v1h-1zM1030 820h1v1h-1zM1031 819h1v1h-1zM1032 819h1v1h-1zM1033 819h1v1h-1zM1034 818h1v1h-1zM1035 818h1v1h-1zM1036 818h1v1h-1zM1037 817h1v1h-1zM1038 817h1v1h-1zM1039 817h1v1h-1zM1040 817h1v1h-1zM1041 816h1v1h-1zM1042 816h1v1h-1zM1043 816h1v1h-1zM1044 816h1v1h-1zM1045 816h1v1h-1zM1046 816h1v1h-1zM1047 817h1v1h-1zM1048 817h1v1h-1zM1049 817h1v1h-1zM1050 817h1v1h-1zM1051 817h1v1h-1zM1052 818h1v1h-1zM1053 819h1v1h-1zM1054 820h1v1h-1zM1055 821h1v1h-1zM1056 821h1v1h-1zM1057 822h1v1h-1zM1058 823h1v1h-1zM1059 824h1v1h-1zM1060 824h1v1h-1zM1061 824h1v1h-1zM1062 824h1v1h-1zM1063 823h1v1h-1zM1064 823h1v1h-1zM1065 823h1v1h-1zM1066 823h1v1h-1zM1067 823h1v1h-1zM1068 823h1v1h-1zM1069 824h1v1h-1zM1070 824h1v1h-1zM1071 825h1v1h-1zM1072 825h1v1h-1zM1073 825h1v1h-1zM1074 826h1v1h-1zM1075 826h1v1h-1zM1076 826h1v1h-1zM1077 825h1v1h-1zM1078 825h1v1h-1zM1079 824h1v1h-1zM1080 824h1v1h-1zM1081 824h1v1h-1zM1082 823h1v1h-1zM1083 823h1v1h-1zM1084 823h1v1h-1zM1085 823h1v1h-1zM1086 823h1v1h-1zM1087 823h1v1h-1zM1088 823h1v1h-1zM1089 823h1v1h-1zM1090 823h1v1h-1zM1091 823h1v1h-1zM1092 824h1v1h-1zM1093 825h1v2h-1zM1094 827h1v1h-1zM1095 828h1v1h-1zM1096 829h1v1h-1zM1097 830h1v2h-1zM1098 832h1v1h-1zM1099 833h1v1h-1zM1100 832h1v1h-1zM1101 831h1v1h-1zM1102 831h1v1h-1zM1103 830h1v1h-1zM1104 829h1v1h-1zM1105 828h1v1h-1zM1106 828h1v1h-1zM1107 827h1v1h-1zM1108 828h1v1h-1zM1109 828h1v1h-1zM1110 829h1v1h-1zM1111 829h1v1h-1zM1112 830h1v1h-1zM1113 830h1v1h-1zM1114 831h1v1h-1zM1115 831h1v1h-1zM1116 831h1v1h-1zM1117 831h1v1h-1zM1118 831h1v1h-1zM1119 831h1v1h-1zM1120 831h1v1h-1zM1121 831h1v1h-1zM1122 831h1v1h-1zM1123 831h1v1h-1zM1124 831h1v1h-1zM1125 831h1v1h-1zM1126 831h1v1h-1zM1127 830h1v1h-1zM1128 830h1v1h-1zM1129 830h1v1h-1zM1130 830h1v1h-1zM1131 830h1v2h-1zM1132 832h1v3h-1zM1133 835h1v3h-1zM1134 838h1v3h-1zM1135 841h1v3h-1zM1136 844h1v3h-1zM1137 847h1v3h-1zM1138 850h1v3h-1zM1139 853h1v2h-1zM1140 854h1v1h-1zM1141 853h1v1h-1zM1142 853h1v1h-1zM1143 853h1v1h-1zM1144 853h1v1h-1zM1145 852h1v1h-1zM1146 852h1v1h-1zM1147 852h1v1h-1zM1148 851h1v1h-1zM1149 850h1v1h-1zM1150 849h1v1h-1zM1151 848h1v1h-1zM1152 847h1v1h-1zM1153 846h1v1h-1zM1154 845h1v1h-1zM1155 844h1v1h-1zM1156 845h1v2h-1zM1157 847h1v2h-1zM1158 849h1v2h-1zM1159 851h1v1h-1zM1160 852h1v2h-1zM1161 854h1v2h-1zM1162 856h1v2h-1zM1163 858h1v1h-1zM1164 859h1v1h-1zM1165 860h1v1h-1zM1166 861h1v1h-1zM1167 862h1v2h-1zM1168 864h1v1h-1zM1169 865h1v1h-1zM1170 866h1v1h-1zM1171 867h1v1h-1zM1172 865h1v2h-1zM1173 864h1v1h-1zM1174 862h1v2h-1zM1175 861h1v1h-1zM1176 859h1v2h-1zM1177 858h1v1h-1zM1178 856h1v2h-1zM1179 855h1v1h-1zM1180 854h1v1h-1zM1181 852h1v2h-1zM1182 851h1v1h-1zM1183 850h1v1h-1zM1184 849h1v1h-1zM1185 847h1v2h-1zM1186 846h1v1h-1zM1187 845h1v1h-1zM1188 845h1v1h-1zM1189 846h1v1h-1zM1190 846h1v1h-1zM1191 846h1v1h-1zM1192 846h1v1h-1zM1193 847h1v1h-1zM1194 847h1v1h-1zM1195 847h1v1h-1zM1196 847h1v1h-1zM1197 847h1v1h-1zM1198 847h1v1h-1zM1199 848h1v1h-1zM1200 848h1v1h-1zM1201 848h1v1h-1zM1202 848h1v1h-1zM1203 848h1v1h-1zM1204 849h1v1h-1zM1205 850h1v1h-1zM1206 851h1v1h-1zM1207 852h1v1h-1zM1208 852h1v1h-1zM1209 853h1v1h-1zM1210 854h1v1h-1zM1211 855h1v1h-1zM1212 855h1v1h-1zM1213 856h1v1h-1zM1214 856h1v1h-1zM1215 856h1v1h-1zM1216 856h1v1h-1zM1217 857h1v1h-1zM1218 857h1v1h-1zM1219 857h1v1h-1zM1220 858h1v2h-1zM1221 860h1v1h-1zM1222 861h1v1h-1zM1223 862h1v2h-1zM1224 864h1v1h-1zM1225 865h1v1h-1zM1226 866h1v2h-1zM1227 868h1v1h-1zM1228 869h1v1h-1zM1229 870h1v1h-1zM1230 871h1v1h-1zM1231 872h1v1h-1zM1232 872h1v1h-1zM1233 873h1v1h-1zM1234 874h1v1h-1zM1235 875h1v1h-1zM1236 875h1v1h-1zM1237 875h1v1h-1zM1238 875h1v1h-1zM1239 874h1v1h-1zM1240 874h1v1h-1zM1241 874h1v1h-1zM1242 874h1v1h-1zM1243 874h1v1h-1zM1244 874h1v1h-1zM1245 873h1v1h-1zM1246 873h1v1h-1zM1247 873h1v1h-1zM1248 873h1v1h-1zM1249 872h1v1h-1zM1250 872h1v1h-1zM1251 872h1v1h-1zM1252 873h1v2h-1zM1253 875h1v2h-1zM1254 877h1v1h-1zM1255 878h1v2h-1zM1256 880h1v1h-1zM1257 881h1v2h-1zM1258 883h1v2h-1zM1259 885h1v1h-1zM1260 883h1v2h-1zM1261 881h1v2h-1zM1262 879h1v2h-1zM1263 877h1v2h-1zM1264 875h1v2h-1zM1265 873h1v2h-1zM1266 871h1v2h-1zM1267 870h1v1h-1zM1268 869h1v1h-1zM1269 869h1v1h-1zM1270 868h1v1h-1zM1271 868h1v1h-1zM1272 867h1v1h-1zM1273 867h1v1h-1zM1274 866h1v1h-1zM1275 866h1v1h-1zM1276 866h1v1h-1zM1277 866h1v1h-1zM1278 866h1v1h-1zM1279 867h1v1h-1zM1280 867h1v1h-1zM1281 867h1v1h-1zM1282 867h1v1h-1zM1283 867h1v1h-1z" fill="#1e90ff" shape-rendering="crispEdges"/>
<g shape-rendering="crispEdges" fill="#000">
<rect x="1624" y="49" width="2" height="1"/>
<rect x="1624" y="82" width="2" height="1"/>
<rect x="1624" y="115" width="2" height="1"/>
<rect x="1624" y="148" width="2" height="1"/>
<rect x="1624" y="181" width="2" height="1"/>
<rect x="1624" y="214" width="2" height="1"/>
<rect x="1624" y="247" width="2" height="1"/>
<rect x="1624" y="280" width="2" height="1"/>
<rect x="1624" y="313" width="2" height="1"/>
<rect x="1624" y="346" width="2" height="1"/>
<rect x="1624" y="379" width="2" height="1"/>
<rect x="1624" y="412" width="2" height="1"/>
<rect x="1624" y="445" width="2" height="1"/>
<rect x="1624" y="478" width="2" height="1"/>
<rect x="1624" y="511" width="2" height="1"/>
<rect x="1624" y="544" width="2" height="1"/>
<rect x="1624" y="577" width="2" height="1"/>
<rect x="1624" y="584" width="2" height="1"/><rect x="1624" y="676" width="2" height="1"/><rect x="1624" y="764" width="2" height="1"/>
<rect x="1624" y="769" width="2" height="1"/><rect x="1624" y="800" width="2" height="1"/><rect x="1624" y="847" width="2" height="1"/><rect x="1624" y="903" width="2" height="1"/>
<rect x="59" y="928" width="1" height="3"/>
<rect x="123" y="928" width="1" height="3"/>
<rect x="187" y="928" width="1" height="3"/>
<rect x="251" y="928" width="1" height="3"/>
<rect x="315" y="928" width="1" height="3"/>
<rect x="379" y="928" width="1" height="3"/>
<rect x="443" y="928" width="1" height="3"/>
<rect x="507" y="928" width="1" height="3"/>
<rect x="571" y="928" width="1" height="3"/>
<rect x="635" y="928" width="1" height="3"/>
<rect x="699" y="928" width="1" height="3"/>
<rect x="763" y="928" width="1" height="3"/>
<rect x="827" y="928" width="1" height="3"/>
<rect x="891" y="928" width="1" height="3"/>
<rect x="955" y="928" width="1" height="3"/>
<rect x="1019" y="928" width="1" height="3"/>
<rect x="1083" y="928" width="1" height="3"/>
<rect x="1147" y="928" width="1" height="3"/>
<rect x="1211" y="928" width="1" height="3"/>
<rect x="1275" y="928" width="1" height="3"/>
</g>
<g font-family="Liberation Sans, sans-serif" font-size="10" fill="#000">
<text transform="translate(1629.5,53) scale(0.9,1)" x="0" y="0" fill="#000" >110.315</text>
<text transform="translate(1629.5,86) scale(0.9,1)" x="0" y="0" fill="#000" >110.145</text>
<text transform="translate(1629.5,119) scale(0.9,1)" x="0" y="0" fill="#000" >109.975</text>
<text transform="translate(1629.5,152) scale(0.9,1)" x="0" y="0" fill="#000" >109.800</text>
<text transform="translate(1629.5,185) scale(0.9,1)" x="0" y="0" fill="#000" >109.630</text>
<text transform="translate(1629.5,218) scale(0.9,1)" x="0" y="0" fill="#000" >109.460</text>
<text transform="translate(1629.5,251) scale(0.9,1)" x="0" y="0" fill="#000" >109.290</text>
<text transform="translate(1629.5,284) scale(0.9,1)" x="0" y="0" fill="#000" >109.120</text>
<text transform="translate(1629.5,317) scale(0.9,1)" x="0" y="0" fill="#000" >108.950</text>
<text transform="translate(1629.5,350) scale(0.9,1)" x="0" y="0" fill="#000" >108.780</text>
<text transform="translate(1629.5,383) scale(0.9,1)" x="0" y="0" fill="#000" >108.605</text>
<text transform="translate(1629.5,416) scale(0.9,1)" x="0" y="0" fill="#000" >108.435</text>
<text transform="translate(1629.5,449) scale(0.9,1)" x="0" y="0" fill="#000" >108.265</text>
<text transform="translate(1629.5,482) scale(0.9,1)" x="0" y="0" fill="#000" >108.095</text>
<text transform="translate(1629.5,515) scale(0.9,1)" x="0" y="0" fill="#000" >107.925</text>
<text transform="translate(1629.5,548) scale(0.9,1)" x="0" y="0" fill="#000" >107.755</text>
<text transform="translate(1629.5,581) scale(0.9,1)" x="0" y="0" fill="#000" >107.585</text>
<text transform="translate(1627,593) scale(0.9,1)" x="0" y="0" fill="#000" >0.3419</text><text transform="translate(1627,680) scale(0.9,1)" x="0" y="0" fill="#000" >0.00</text><text transform="translate(1626,762) scale(0.9,1)" x="0" y="0" fill="#000" >-0.3301</text>
<text transform="translate(1626.5,778) scale(0.9,1)" x="0" y="0" fill="#000" >100</text><text transform="translate(1625.5,804) scale(0.9,1)" x="0" y="0" fill="#000" >80</text><text transform="translate(1625.5,851) scale(0.9,1)" x="0" y="0" fill="#000" >50</text><text transform="translate(1625.5,908) scale(0.9,1)" x="0" y="0" fill="#000" >15</text><text transform="translate(1627.2,924) scale(0.9,1)" x="0" y="0" fill="#000" >0</text>
<text transform="translate(-6.5,940) scale(0.9,1)" x="0" y="0" fill="#000" >16 Dec 2019</text>
<text transform="translate(58.5,940) scale(0.9,1)" x="0" y="0" fill="#000" >17 Dec 20:00</text>
<text transform="translate(122.5,940) scale(0.9,1)" x="0" y="0" fill="#000" >19 Dec 04:00</text>
<text transform="translate(186.5,940) scale(0.9,1)" x="0" y="0" fill="#000" >20 Dec 12:00</text>
<text transform="translate(250.5,940) scale(0.9,1)" x="0" y="0" fill="#000" >23 Dec 20:00</text>
<text transform="translate(314.5,940) scale(0.9,1)" x="0" y="0" fill="#000" >26 Dec 00:00</text>
<text transform="translate(378.5,940) scale(0.9,1)" x="0" y="0" fill="#000" >27 Dec 08:00</text>
<text transform="translate(442.5,940) scale(0.9,1)" x="0" y="0" fill="#000" >30 Dec 16:00</text>
<text transform="translate(506.5,940) scale(0.9,1)" x="0" y="0" fill="#000" >1 Jan 23:00</text>
<text transform="translate(570.5,940) scale(0.9,1)" x="0" y="0" fill="#000" >3 Jan 04:00</text>
<text transform="translate(634.5,940) scale(0.9,1)" x="0" y="0" fill="#000" >6 Jan 12:00</text>
<text transform="translate(698.5,940) scale(0.9,1)" x="0" y="0" fill="#000" >7 Jan 20:00</text>
<text transform="translate(762.5,940) scale(0.9,1)" x="0" y="0" fill="#000" >9 Jan 04:00</text>
<text transform="translate(826.5,940) scale(0.9,1)" x="0" y="0" fill="#000" >10 Jan 12:00</text>
<text transform="translate(890.5,940) scale(0.9,1)" x="0" y="0" fill="#000" >13 Jan 20:00</text>
<text transform="translate(954.5,940) scale(0.9,1)" x="0" y="0" fill="#000" >15 Jan 04:00</text>
<text transform="translate(1018.5,940) scale(0.9,1)" x="0" y="0" fill="#000" >16 Jan 12:00</text>
<text transform="translate(1082.5,940) scale(0.9,1)" x="0" y="0" fill="#000" >19 Jan 23:00</text>
<text transform="translate(1146.5,940) scale(0.9,1)" x="0" y="0" fill="#000" >21 Jan 04:00</text>
<text transform="translate(1210.5,940) scale(0.9,1)" x="0" y="0" fill="#000" >22 Jan 12:00</text>
<text transform="translate(1274.5,940) scale(0.9,1)" x="0" y="0" fill="#000" >23 Jan 20:00</text>
<text transform="translate(10.3,39) scale(0.9,1)" x="0" y="0" fill="#000" letter-spacing="0.18" xml:space="preserve">USDJPY-,H4  109.558 109.570 109.503 109.541</text>
<text transform="translate(-0.6,594.6) scale(0.9,1)" x="0" y="0" fill="#000" letter-spacing="0.21">MACD(12,26,9) -0.1266 -0.0822</text>
<text transform="translate(-0.6,779) scale(0.9,1)" x="0" y="0" fill="#000" >RSI(14) 37.7454</text>
</g>
<polygon points="0,38 5,38 2.5,34" fill="#000"/>
<rect x="1625" y="114" width="41" height="11" fill="#ff0000" shape-rendering="crispEdges"/>
<g font-family="Liberation Sans, sans-serif" font-size="10"><text transform="translate(1629.5,123) scale(0.9,1)" x="0" y="0" fill="#fff" >109.945</text></g>
<rect x="1625" y="141" width="41" height="11" fill="#ff0000" shape-rendering="crispEdges"/>
<g font-family="Liberation Sans, sans-serif" font-size="10"><text transform="translate(1629.5,150) scale(0.9,1)" x="0" y="0" fill="#fff" >109.806</text></g>
<rect x="1625" y="165" width="41" height="11" fill="#32cd32" shape-rendering="crispEdges"/>
<g font-family="Liberation Sans, sans-serif" font-size="10"><text transform="translate(1629.5,174) scale(0.9,1)" x="0" y="0" fill="#fff" >109.682</text></g>
<rect x="1625" y="193" width="41" height="11" fill="#000" shape-rendering="crispEdges"/>
<g font-family="Liberation Sans, sans-serif" font-size="10"><text transform="translate(1629.5,202) scale(0.9,1)" x="0" y="0" fill="#fff" >109.541</text></g>
<rect x="1625" y="232" width="41" height="11" fill="#0000ff" shape-rendering="crispEdges"/>
<g font-family="Liberation Sans, sans-serif" font-size="10"><text transform="translate(1629.5,241) scale(0.9,1)" x="0" y="0" fill="#fff" >109.336</text></g>
<rect x="1625" y="268" width="41" height="11" fill="#0000ff" shape-rendering="crispEdges"/>
<g font-family="Liberation Sans, sans-serif" font-size="10"><text transform="translate(1629.5,277) scale(0.9,1)" x="0" y="0" fill="#fff" >109.150</text></g>
</svg>
<div class="abs" style="left:0;top:71px;width:107px;height:39px;border-top:1px solid #b00000;border-right:1px solid #a00000;background:linear-gradient(#e43a3a,#d42222 50%,#b00404)"></div>
<div class="abs" style="left:109px;top:71px;width:106px;height:39px;border-top:1px solid #b00000;border-left:1px solid #a00000;border-right:1px solid #a00000;background:linear-gradient(#e43a3a,#d42222 50%,#b00404)"></div>
<div class="abs" style="left:0;top:47px;width:49px;height:24px;border-top:1px solid #b00000;border-right:1px solid #b00000;background:linear-gradient(#fb5656,#e83a3a)"></div>
<div class="abs" style="left:165px;top:47px;width:50px;height:24px;border-top:1px solid #b00000;border-left:1px solid #b00000;border-right:1px solid #b00000;background:linear-gradient(#fb5656,#e83a3a)"></div>
<div class="abs" style="left:2px;top:70px;width:44px;height:1px;background:#7a0000"></div>
<div class="abs" style="left:2px;top:71px;width:44px;height:1px;background:#f07070"></div>
<div class="abs" style="left:169px;top:70px;width:44px;height:1px;background:#7a0000"></div>
<div class="abs" style="left:169px;top:71px;width:44px;height:1px;background:#f07070"></div>
<div class="abs" style="left:50px;top:47px;width:115px;height:24px;background:#fff"></div>
<div class="abs" style="left:52px;top:47px;width:20px;height:20px;border:1px solid #a8a8a8;background:#e6e6e6"></div>
<div class="abs" style="left:73px;top:47px;width:67px;height:20px;border-top:1px solid #a8a8a8;border-bottom:1px solid #a8a8a8;background:#fff"></div>
<div class="abs" style="left:141px;top:47px;width:20px;height:20px;border:1px solid #a8a8a8;background:#e6e6e6"></div>
<svg class="abs" style="left:0;top:0" width="220" height="115">
<polygon points="59.5,56 65.5,56 62.5,59.5" fill="#000"/>
<polygon points="149,59.5 155,59.5 152,56" fill="#000"/>
</svg>
<div class="abs" style="left:10.3px;top:51px;font:12.8px 'Liberation Sans',sans-serif;letter-spacing:-1.3px;color:#fff;line-height:16px">SELL</div>
<div class="abs" style="left:178.5px;top:51px;font:13px 'Liberation Sans',sans-serif;letter-spacing:-1.1px;color:#fff;line-height:16px">BUY</div>
<div class="abs" style="left:75px;top:50px;width:63px;text-align:right;font:12.5px 'Liberation Sans',sans-serif;letter-spacing:-0.6px;color:#000;line-height:16px">1.00</div>
<div class="abs" style="left:21.7px;top:91px;font:bold 12.5px 'Liberation Sans',sans-serif;color:#fff;line-height:14px;letter-spacing:-0.3px">109</div>
<div class="abs" style="left:45.5px;top:72.5px;font:35px 'Liberation Sans',sans-serif;color:#fff;line-height:35px;letter-spacing:-2.3px">54</div>
<div class="abs" style="left:85px;top:75px;font:bold 12px 'Liberation Sans',sans-serif;color:#fff;line-height:14px">1</div>
<div class="abs" style="left:131.7px;top:91px;font:bold 12.5px 'Liberation Sans',sans-serif;color:#fff;line-height:14px;letter-spacing:-0.3px">109</div>
<div class="abs" style="left:156.5px;top:72.5px;font:35px 'Liberation Sans',sans-serif;color:#fff;line-height:35px;letter-spacing:-2.3px">55</div>
<div class="abs" style="left:195.6px;top:75px;font:bold 12.3px 'Liberation Sans',sans-serif;color:#fff;line-height:14px">8</div>

</body></html>
